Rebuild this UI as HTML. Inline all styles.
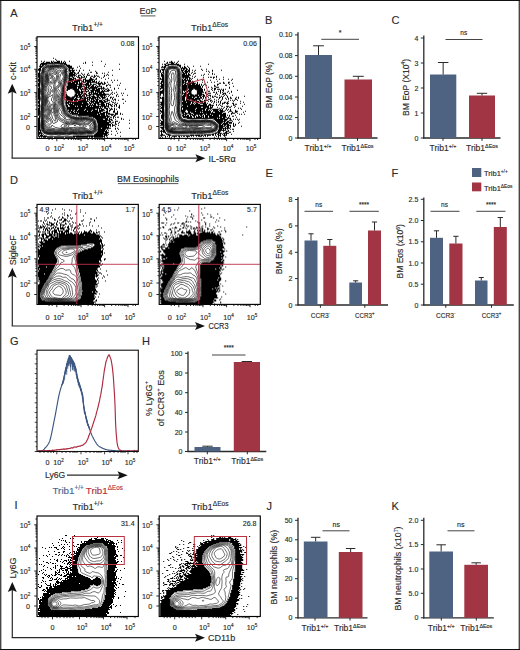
<!DOCTYPE html>
<html><head><meta charset="utf-8"><style>html,body{margin:0;padding:0;background:#fff;}svg{display:block;}</style></head>
<body><svg width="520" height="650" viewBox="0 0 520 650" font-family='"Liberation Sans", sans-serif'>
<style>text{stroke:currentColor;stroke-width:0.14px;paint-order:stroke;}</style>
<rect x="0.00" y="0.00" width="520.00" height="650.00" fill="#ffffff" stroke="none" stroke-width="1"/>
<g transform="translate(37,36.8)">
<path d="M16 21h1v1h-1zM18 22h1v1h-1zM19 23h1v1h-1zM4 24h1v1h-1zM7 24h1v1h-1zM14 24h1v1h-1zM16 24h1v1h-1zM20 24h3v1h-3zM24 24h1v1h-1zM27 24h1v1h-1zM32 24h1v1h-1zM64 24h1v1h-1zM6 25h1v1h-1zM9 25h4v1h-4zM14 25h2v1h-2zM17 25h6v1h-6zM24 25h1v1h-1zM26 25h1v1h-1zM28 25h1v1h-1zM48 25h1v1h-1zM55 25h1v1h-1zM4 26h25v1h-25zM46 26h1v1h-1zM48 26h1v1h-1zM3 27h7v1h-7zM27 27h3v1h-3zM68 27h1v1h-1zM82 27h1v1h-1zM3 28h1v1h-1zM5 28h2v1h-2zM29 28h4v1h-4zM55 28h1v1h-1zM2 29h4v1h-4zM30 29h5v1h-5zM42 29h1v1h-1zM67 29h1v1h-1zM3 30h2v1h-2zM31 30h4v1h-4zM40 30h1v1h-1zM2 31h2v1h-2zM32 31h5v1h-5zM43 31h1v1h-1zM1 32h3v1h-3zM32 32h1v1h-1zM35 32h1v1h-1zM82 32h1v1h-1zM1 33h3v1h-3zM32 33h6v1h-6zM39 33h1v1h-1zM42 33h1v1h-1zM46 33h1v1h-1zM52 33h1v1h-1zM75 33h1v1h-1zM2 34h1v1h-1zM32 34h2v1h-2zM35 34h2v1h-2zM42 34h1v1h-1zM58 34h1v1h-1zM2 35h1v1h-1zM33 35h5v1h-5zM41 35h1v1h-1zM53 35h2v1h-2zM59 35h1v1h-1zM71 35h1v1h-1zM1 36h2v1h-2zM32 36h4v1h-4zM37 36h2v1h-2zM40 36h2v1h-2zM44 36h1v1h-1zM51 36h1v1h-1zM59 36h2v1h-2zM65 36h1v1h-1zM67 36h1v1h-1zM1 37h2v1h-2zM32 37h6v1h-6zM39 37h1v1h-1zM45 37h1v1h-1zM47 37h1v1h-1zM50 37h1v1h-1zM70 37h1v1h-1zM1 38h2v1h-2zM32 38h7v1h-7zM41 38h3v1h-3zM46 38h1v1h-1zM50 38h3v1h-3zM57 38h1v1h-1zM59 38h1v1h-1zM67 38h1v1h-1zM69 38h1v1h-1zM71 38h1v1h-1zM75 38h1v1h-1zM1 39h2v1h-2zM32 39h4v1h-4zM37 39h1v1h-1zM39 39h1v1h-1zM41 39h1v1h-1zM44 39h1v1h-1zM47 39h1v1h-1zM49 39h1v1h-1zM54 39h2v1h-2zM57 39h2v1h-2zM60 39h2v1h-2zM67 39h1v1h-1zM1 40h2v1h-2zM32 40h1v1h-1zM35 40h2v1h-2zM40 40h3v1h-3zM44 40h4v1h-4zM49 40h1v1h-1zM53 40h1v1h-1zM56 40h2v1h-2zM62 40h1v1h-1zM66 40h1v1h-1zM2 41h1v1h-1zM32 41h3v1h-3zM36 41h3v1h-3zM42 41h3v1h-3zM48 41h1v1h-1zM53 41h2v1h-2zM59 41h1v1h-1zM64 41h1v1h-1zM71 41h1v1h-1zM1 42h2v1h-2zM32 42h5v1h-5zM38 42h1v1h-1zM41 42h2v1h-2zM46 42h3v1h-3zM52 42h5v1h-5zM58 42h2v1h-2zM68 42h1v1h-1zM1 43h2v1h-2zM32 43h13v1h-13zM46 43h1v1h-1zM48 43h8v1h-8zM57 43h1v1h-1zM74 43h1v1h-1zM77 43h1v1h-1zM80 43h1v1h-1zM1 44h2v1h-2zM31 44h5v1h-5zM37 44h6v1h-6zM45 44h2v1h-2zM48 44h6v1h-6zM55 44h3v1h-3zM59 44h1v1h-1zM62 44h1v1h-1zM2 45h1v1h-1zM31 45h3v1h-3zM35 45h6v1h-6zM42 45h1v1h-1zM44 45h1v1h-1zM46 45h3v1h-3zM50 45h10v1h-10zM61 45h1v1h-1zM64 45h1v1h-1zM67 45h1v1h-1zM70 45h1v1h-1zM75 45h1v1h-1zM1 46h2v1h-2zM31 46h7v1h-7zM39 46h2v1h-2zM42 46h4v1h-4zM49 46h3v1h-3zM53 46h1v1h-1zM59 46h7v1h-7zM67 46h2v1h-2zM83 46h1v1h-1zM1 47h2v1h-2zM31 47h21v1h-21zM53 47h2v1h-2zM56 47h3v1h-3zM61 47h3v1h-3zM65 47h3v1h-3zM71 47h1v1h-1zM1 48h2v1h-2zM31 48h9v1h-9zM42 48h3v1h-3zM48 48h6v1h-6zM55 48h2v1h-2zM59 48h1v1h-1zM62 48h1v1h-1zM69 48h2v1h-2zM72 48h2v1h-2zM80 48h1v1h-1zM82 48h1v1h-1zM1 49h2v1h-2zM30 49h18v1h-18zM49 49h1v1h-1zM51 49h2v1h-2zM54 49h3v1h-3zM58 49h1v1h-1zM60 49h5v1h-5zM69 49h1v1h-1zM2 50h1v1h-1zM30 50h10v1h-10zM41 50h4v1h-4zM47 50h5v1h-5zM53 50h8v1h-8zM64 50h1v1h-1zM66 50h1v1h-1zM73 50h1v1h-1zM1 51h2v1h-2zM30 51h10v1h-10zM41 51h3v1h-3zM45 51h1v1h-1zM47 51h3v1h-3zM51 51h9v1h-9zM61 51h7v1h-7zM70 51h1v1h-1zM77 51h1v1h-1zM81 51h1v1h-1zM1 52h2v1h-2zM30 52h3v1h-3zM36 52h6v1h-6zM43 52h8v1h-8zM52 52h1v1h-1zM55 52h3v1h-3zM59 52h4v1h-4zM64 52h1v1h-1zM66 52h1v1h-1zM68 52h2v1h-2zM71 52h1v1h-1zM77 52h1v1h-1zM88 52h1v1h-1zM1 53h2v1h-2zM30 53h1v1h-1zM37 53h5v1h-5zM44 53h1v1h-1zM48 53h1v1h-1zM51 53h1v1h-1zM53 53h10v1h-10zM65 53h1v1h-1zM67 53h1v1h-1zM70 53h3v1h-3zM74 53h1v1h-1zM1 54h2v1h-2zM38 54h5v1h-5zM44 54h8v1h-8zM54 54h3v1h-3zM58 54h5v1h-5zM64 54h8v1h-8zM1 55h2v1h-2zM38 55h8v1h-8zM49 55h1v1h-1zM52 55h5v1h-5zM58 55h1v1h-1zM60 55h7v1h-7zM75 55h1v1h-1zM79 55h1v1h-1zM1 56h2v1h-2zM39 56h4v1h-4zM44 56h2v1h-2zM47 56h2v1h-2zM51 56h2v1h-2zM54 56h1v1h-1zM56 56h5v1h-5zM62 56h3v1h-3zM66 56h2v1h-2zM74 56h1v1h-1zM77 56h1v1h-1zM84 56h1v1h-1zM86 56h1v1h-1zM1 57h2v1h-2zM29 57h1v1h-1zM38 57h2v1h-2zM41 57h4v1h-4zM46 57h4v1h-4zM52 57h20v1h-20zM73 57h1v1h-1zM75 57h1v1h-1zM80 57h1v1h-1zM1 58h2v1h-2zM29 58h1v1h-1zM38 58h6v1h-6zM45 58h3v1h-3zM49 58h5v1h-5zM56 58h1v1h-1zM59 58h10v1h-10zM72 58h1v1h-1zM79 58h1v1h-1zM85 58h1v1h-1zM90 58h1v1h-1zM1 59h2v1h-2zM29 59h2v1h-2zM37 59h4v1h-4zM42 59h6v1h-6zM49 59h1v1h-1zM52 59h1v1h-1zM54 59h4v1h-4zM60 59h2v1h-2zM63 59h3v1h-3zM67 59h1v1h-1zM69 59h1v1h-1zM71 59h1v1h-1zM79 59h1v1h-1zM81 59h1v1h-1zM1 60h2v1h-2zM28 60h5v1h-5zM35 60h3v1h-3zM39 60h6v1h-6zM47 60h2v1h-2zM50 60h4v1h-4zM55 60h8v1h-8zM64 60h5v1h-5zM73 60h2v1h-2zM76 60h1v1h-1zM1 61h2v1h-2zM29 61h8v1h-8zM38 61h2v1h-2zM43 61h8v1h-8zM52 61h7v1h-7zM60 61h1v1h-1zM62 61h2v1h-2zM65 61h3v1h-3zM70 61h1v1h-1zM73 61h1v1h-1zM75 61h1v1h-1zM1 62h2v1h-2zM29 62h12v1h-12zM42 62h2v1h-2zM45 62h4v1h-4zM50 62h3v1h-3zM54 62h3v1h-3zM58 62h4v1h-4zM65 62h1v1h-1zM68 62h3v1h-3zM75 62h1v1h-1zM77 62h2v1h-2zM85 62h2v1h-2zM2 63h1v1h-1zM29 63h7v1h-7zM37 63h12v1h-12zM50 63h1v1h-1zM52 63h1v1h-1zM54 63h1v1h-1zM56 63h2v1h-2zM59 63h2v1h-2zM62 63h3v1h-3zM66 63h2v1h-2zM70 63h3v1h-3zM76 63h1v1h-1zM78 63h1v1h-1zM81 63h1v1h-1zM1 64h2v1h-2zM29 64h1v1h-1zM31 64h5v1h-5zM37 64h3v1h-3zM41 64h11v1h-11zM53 64h8v1h-8zM62 64h4v1h-4zM67 64h4v1h-4zM74 64h1v1h-1zM88 64h1v1h-1zM1 65h2v1h-2zM29 65h21v1h-21zM52 65h1v1h-1zM54 65h3v1h-3zM58 65h11v1h-11zM72 65h1v1h-1zM75 65h2v1h-2zM78 65h1v1h-1zM1 66h2v1h-2zM29 66h3v1h-3zM33 66h1v1h-1zM35 66h10v1h-10zM46 66h5v1h-5zM52 66h3v1h-3zM56 66h6v1h-6zM64 66h3v1h-3zM69 66h3v1h-3zM77 66h1v1h-1zM80 66h1v1h-1zM86 66h1v1h-1zM2 67h1v1h-1zM29 67h1v1h-1zM31 67h5v1h-5zM37 67h15v1h-15zM53 67h1v1h-1zM55 67h1v1h-1zM57 67h2v1h-2zM60 67h8v1h-8zM69 67h1v1h-1zM71 67h3v1h-3zM75 67h1v1h-1zM78 67h2v1h-2zM1 68h2v1h-2zM29 68h2v1h-2zM32 68h19v1h-19zM52 68h7v1h-7zM61 68h1v1h-1zM64 68h4v1h-4zM69 68h1v1h-1zM71 68h1v1h-1zM73 68h2v1h-2zM77 68h1v1h-1zM79 68h1v1h-1zM82 68h1v1h-1zM1 69h2v1h-2zM29 69h2v1h-2zM33 69h5v1h-5zM39 69h1v1h-1zM41 69h3v1h-3zM45 69h4v1h-4zM50 69h3v1h-3zM54 69h1v1h-1zM56 69h16v1h-16zM74 69h2v1h-2zM77 69h1v1h-1zM79 69h1v1h-1zM82 69h1v1h-1zM2 70h1v1h-1zM30 70h32v1h-32zM63 70h1v1h-1zM65 70h1v1h-1zM67 70h2v1h-2zM71 70h1v1h-1zM81 70h2v1h-2zM1 71h2v1h-2zM30 71h35v1h-35zM67 71h4v1h-4zM72 71h1v1h-1zM74 71h1v1h-1zM77 71h1v1h-1zM82 71h1v1h-1zM1 72h2v1h-2zM30 72h11v1h-11zM42 72h6v1h-6zM49 72h9v1h-9zM60 72h1v1h-1zM62 72h1v1h-1zM64 72h3v1h-3zM69 72h2v1h-2zM73 72h3v1h-3zM77 72h1v1h-1zM79 72h1v1h-1zM1 73h2v1h-2zM32 73h2v1h-2zM35 73h2v1h-2zM38 73h2v1h-2zM41 73h6v1h-6zM48 73h7v1h-7zM56 73h5v1h-5zM62 73h6v1h-6zM70 73h1v1h-1zM72 73h2v1h-2zM77 73h1v1h-1zM1 74h2v1h-2zM31 74h5v1h-5zM37 74h13v1h-13zM51 74h3v1h-3zM55 74h6v1h-6zM62 74h4v1h-4zM69 74h2v1h-2zM72 74h1v1h-1zM76 74h2v1h-2zM80 74h1v1h-1zM1 75h2v1h-2zM32 75h1v1h-1zM34 75h3v1h-3zM38 75h1v1h-1zM40 75h24v1h-24zM66 75h5v1h-5zM76 75h2v1h-2zM80 75h1v1h-1zM1 76h2v1h-2zM33 76h8v1h-8zM42 76h20v1h-20zM63 76h5v1h-5zM69 76h4v1h-4zM78 76h3v1h-3zM83 76h1v1h-1zM1 77h2v1h-2zM35 77h25v1h-25zM61 77h7v1h-7zM69 77h1v1h-1zM71 77h6v1h-6zM78 77h3v1h-3zM83 77h1v1h-1zM85 77h1v1h-1zM1 78h1v1h-1zM41 78h22v1h-22zM64 78h4v1h-4zM69 78h2v1h-2zM74 78h2v1h-2zM77 78h2v1h-2zM2 79h1v1h-1zM52 79h21v1h-21zM76 79h2v1h-2zM2 80h1v1h-1zM56 80h13v1h-13zM70 80h2v1h-2zM73 80h2v1h-2zM76 80h1v1h-1zM78 80h1v1h-1zM80 80h2v1h-2zM1 81h2v1h-2zM58 81h13v1h-13zM72 81h1v1h-1zM76 81h1v1h-1zM84 81h1v1h-1zM1 82h2v1h-2zM59 82h7v1h-7zM68 82h3v1h-3zM72 82h3v1h-3zM78 82h1v1h-1zM84 82h1v1h-1zM86 82h1v1h-1zM1 83h2v1h-2zM60 83h13v1h-13zM74 83h2v1h-2zM92 83h1v1h-1zM1 84h2v1h-2zM60 84h10v1h-10zM72 84h2v1h-2zM78 84h3v1h-3zM1 85h2v1h-2zM60 85h14v1h-14zM75 85h2v1h-2zM78 85h1v1h-1zM82 85h1v1h-1zM1 86h2v1h-2zM61 86h11v1h-11zM74 86h1v1h-1zM78 86h1v1h-1zM81 86h1v1h-1zM92 86h1v1h-1zM1 87h2v1h-2zM61 87h13v1h-13zM75 87h1v1h-1zM78 87h2v1h-2zM1 88h2v1h-2zM61 88h13v1h-13zM75 88h3v1h-3zM81 88h1v1h-1zM1 89h2v1h-2zM61 89h9v1h-9zM71 89h1v1h-1zM73 89h1v1h-1zM75 89h1v1h-1zM78 89h1v1h-1zM1 90h2v1h-2zM61 90h11v1h-11zM1 91h2v1h-2zM61 91h3v1h-3zM65 91h9v1h-9zM78 91h1v1h-1zM80 91h1v1h-1zM92 91h1v1h-1zM1 92h2v1h-2zM61 92h8v1h-8zM70 92h1v1h-1zM78 92h1v1h-1zM81 92h1v1h-1zM1 93h3v1h-3zM61 93h7v1h-7zM69 93h1v1h-1zM71 93h1v1h-1zM1 94h1v1h-1zM3 94h1v1h-1zM61 94h9v1h-9zM74 94h1v1h-1zM79 94h1v1h-1zM1 95h3v1h-3zM60 95h7v1h-7zM68 95h4v1h-4zM83 95h1v1h-1zM1 96h4v1h-4zM59 96h12v1h-12zM80 96h1v1h-1zM1 97h2v1h-2zM4 97h1v1h-1zM58 97h12v1h-12zM71 97h1v1h-1zM74 97h1v1h-1zM1 98h1v1h-1zM3 98h3v1h-3zM57 98h9v1h-9zM67 98h4v1h-4zM78 98h1v1h-1zM1 99h9v1h-9zM36 99h32v1h-32zM69 99h1v1h-1zM83 99h1v1h-1zM2 100h1v1h-1zM4 100h1v1h-1zM6 100h3v1h-3zM10 100h6v1h-6zM17 100h10v1h-10zM28 100h10v1h-10zM39 100h12v1h-12zM52 100h1v1h-1zM54 100h2v1h-2zM57 100h9v1h-9zM67 100h1v1h-1zM70 100h1v1h-1z" fill="#000"/>
<path d="M35.4 99.5 10.1 99.6 9.9 99.3 9.1 99.3 8.9 99.1 8.4 99.1 8.1 98.8 7.6 98.8 7.4 98.5 6.9 98.4 6.3 97.4 4.4 95.9 3.8 95.1 3.7 94.4 3.4 94.1 3.4 93.6 3.2 93.4 3.2 92.6 2.9 92.4 2.9 91.6 2.7 91.4 2.7 90.4 2.4 90.1 2.5 83.6 2.4 75.6 2.6 72.4 2.4 69.6 2.5 66.9 2.4 62.6 2.4 36.6 2.7 36.4 2.7 35.1 3 34.9 3.1 34.6 3.4 34.4 4.1 34.5 4.9 33.9 5.8 30.9 6.1 28.6 6.4 28.3 6.6 28.2 6.9 28 7.4 27.9 7.6 27.7 8.1 27.7 8.4 27.4 8.9 27.4 9.1 27.2 9.9 27.2 10.1 26.9 11.9 26.9 12.1 26.7 13.9 26.7 14.1 26.4 16.1 26.4 16.4 26.2 20.4 26.2 20.6 26.5 22.6 26.4 22.9 26.7 24.6 26.7 24.9 26.9 26.4 26.9 26.6 27.2 27.1 27.2 27.9 27.7 28.1 27.7 28.6 28.2 28.9 28.2 30.1 29.2 30.4 29.2 31.1 29.9 31.1 30.1 31.6 30.9 31.6 31.6 31.8 31.9 31.7 33.1 31.8 33.4 31.6 33.9 30.9 34.4 30.7 34.9 31.6 35.2 32.1 35.7 32.2 36.1 32 36.4 32.1 38.1 31.8 38.4 31.8 40.4 31.6 40.6 31.6 42.4 31.3 42.6 31.3 44.1 31 44.4 30.9 45.1 30.7 45.4 30.6 46.1 30.4 46.4 30.5 47.1 30.2 47.4 30.2 48.4 30 48.6 30 49.4 29.7 49.6 29.7 50.4 29.4 50.6 29.3 51.1 28.9 51.6 29.2 52.6 29.3 54.1 29.6 54.2 29.9 53.9 30.1 53.9 31.1 53 31.4 53 31.9 52.5 32.1 52.5 32.4 52.2 32.9 52.2 33.1 51.9 34.6 51.9 34.9 52.2 35.4 52.2 35.6 52.4 35.9 52.4 36.4 53 36.6 53 37.5 53.9 37.7 54.6 38 54.9 37.9 55.4 38.2 55.6 38.3 56.9 38.1 57.1 38.1 57.6 37.6 58.4 37.6 58.6 36.6 59.6 36.4 59.6 35.9 60.1 35.6 60.1 35.4 60.3 34.9 60.3 34.6 60.6 33.1 60.6 32.9 60.3 32.4 60.3 30.9 59.3 30.2 58.6 30.2 58.4 29.7 57.9 29.7 57.6 29.1 57.1 28.8 57.1 28.8 57.4 28.6 57.6 28.6 58.1 28.3 58.4 28.3 59.6 28 59.9 28.1 61.9 28.3 62.1 28.3 64.9 28.6 65.1 28.5 67.6 28.8 67.9 28.8 69.1 29.1 69.4 29.1 69.9 29.3 70.1 29.3 70.6 29.8 71.4 29.8 71.9 30.3 72.6 30.3 73.1 30.8 73.9 30.8 74.1 31.3 74.9 31.3 75.1 32.1 75.9 32.4 75.9 32.9 76.4 33.1 76.4 33.6 76.9 33.9 76.9 34.4 77.4 35.1 77.7 35.4 77.9 35.9 77.9 36.1 78.2 38.4 78.3 39.6 78.6 40.6 78.3 40.9 78.5 45.9 78.4 46.1 78.7 47.9 78.7 48.1 78.9 50.1 78.9 50.4 79.2 52.1 79.2 52.4 79.4 54.1 79.4 54.4 79.7 54.9 79.7 55.1 79.9 55.4 79.9 56.6 80.7 57.1 80.7 57.4 80.9 57.6 80.9 58.1 81.4 58.4 81.4 58.8 81.9 58.8 82.1 59.6 83.4 59.6 83.9 60 84.6 60 85.1 60.5 85.9 60.5 86.4 60.8 86.6 60.8 87.1 61.1 87.4 61.1 88.1 61.3 88.4 61.3 89.1 61.1 89.4 61.1 91.6 60.8 91.9 60.8 93.9 60.6 94.1 60.6 94.9 60.3 95.1 60.3 95.4 57.9 97.8 57.6 97.8 57.1 98.3 56.4 98.5 56.1 98.8 49.9 98.8 49.6 99.1 42.6 99.1 42.4 99.3 35.6 99.2 35.4 99.5M39.9 79.6 39.9 79 39.6 78.8 39.4 79.1 39.4 79.6 39.6 79.8 39.9 79.6M22.6 98.4 21.4 98.4 19.4 97.9 17.9 97.7 16.9 97.8 14.9 98.2 13.9 98.2 11.9 97.7 9.6 97.5 8.4 97.1 6.4 96.1 5.1 94.6 4.3 92.9 3.6 89.6 4.2 82.6 3.3 78.4 3.2 76.6 3.4 75.6 4.1 73.1 4.1 71.9 3.8 69.4 3.9 68.4 4.4 67.1 4.6 66.1 4.4 65 3.7 63.6 3.5 62.4 3.5 60.9 4.1 58.6 3.5 55.6 3.5 53.1 3.6 51.7 4.1 50.1 4.2 49.4 3.3 43.1 3.1 37.9 3.3 37.1 5 35.1 6 31.9 6.6 30.6 7.2 29.6 8.1 28.9 9.6 28.3 10.6 28 12.1 28.1 12.6 27.9 14.1 28 14.6 27.8 16.4 27.9 17.1 27.7 18.6 28 20.4 28.1 22.6 27.9 24.1 27.5 25.9 27.7 27.6 28.7 30 30.4 30.3 31.4 30.1 32.6 29.7 33.6 29.8 36.1 30.1 36.9 30.6 37.6 30.9 39.9 30.7 40.4 30.6 41.9 30.3 42.4 30 43.6 29.3 45.1 28.8 47.6 27.5 50.1 27.2 51.4 27.4 53.2 27.8 54.4 28.4 55.1 29.1 55.3 29.3 55.6 28.9 56 28.1 56.2 27.4 57.1 26.9 58.4 26.6 59.6 26.6 60.6 26.6 62.1 26.9 62.9 26.9 65.1 27 65.9 26.8 67.1 26.8 67.9 30.6 75.8 31.4 76.6 33.5 77.9 34.9 79.1 35.6 79.5 37.1 79.9 39.1 80.6 40.6 80.7 42.1 79.7 42.9 79.5 43.9 79.6 45.9 80.1 47.4 80 47.9 80.1 49.6 80 50.1 80.2 51.6 80 52.1 80.2 53.6 80.3 55.1 81.2 57.1 82.1 57.8 82.6 58.4 83.9 58.8 85.9 59.3 86.9 59.9 87.9 60.2 88.6 60.1 89.4 60.1 91.1 59.9 91.9 59.9 93.4 59.5 94.4 59.1 95 57.4 96.3 55.4 97.3 53.4 97.5 50.9 97.5 49.6 97.4 48.9 97.6 47.6 97.5 44.9 97.6 42.6 97.9 41.9 98.3 41.4 98.3 40.4 98.2 38.4 97.6 35.1 97.3 33.1 97.5 30.6 98.3 25.6 97.8 24.6 97.9 22.6 98.4M41.9 97.4 41.1 97.5 38.9 97.1 35.4 96.8 31.1 97.4 28.9 97.2 21.6 97.5 17.6 97.2 13.9 97.5 9.9 96.9 8.4 96.5 6.6 95.7 5.7 94.4 4.9 92.6 4.2 89.4 4.7 82.4 4.6 80.6 4 78.1 3.8 76.9 4.6 73.4 4.4 69.4 4.9 67.1 5.1 65.9 4.4 62.4 4.8 59.9 4.8 58.6 4.2 56.1 4.1 54.9 4.3 53.1 4.8 50.9 4.9 49.6 3.9 43.1 3.8 38.4 4 37.4 4.7 36.6 5.4 35.4 6.2 32.6 7 30.9 7.6 30.1 8.4 29.5 9.9 28.9 10.9 28.7 12.1 28.9 12.9 28.8 14.1 28.8 14.9 28.6 16.4 28.6 17.1 28.5 20.1 28.7 22.4 28.7 24.1 28.2 25.9 28.4 26.9 29 29.4 30.9 29.6 31.6 29.3 33.9 29.3 36.1 30.1 39.6 29.9 40.4 29.8 41.6 29.5 42.4 29.4 43.4 28.7 44.9 28.2 47.6 27.2 49.9 26.9 50.9 26.8 52.1 27 53.9 27.2 54.6 27.7 55.4 27.2 56.1 26.4 58.1 26 59.6 25.8 62.1 26.1 63.1 26.1 65.1 26.3 65.9 26.2 67.4 26.3 68.1 28.1 72.6 29.3 74.6 30 76.4 30.9 77.2 33.1 78.5 34.6 79.8 35.9 80.3 37.1 80.5 40.1 81.2 40.9 81.1 42.4 80.4 42.9 80.3 45.6 80.9 47.1 80.7 47.9 80.8 49.4 80.8 50.1 81 51.4 80.8 52.1 81.1 53.4 81.2 54.7 81.9 56.6 82.5 57.4 83.1 57.8 84.1 58.3 86.1 59.3 88.6 59.3 90.9 59.1 91.6 59.2 93.1 58.9 94.1 58.5 94.6 55.4 96.6 52.4 96.7 49.6 96.5 48.6 96.7 42.6 97.2 41.9 97.4M31.6 96.9 29.1 96.7 26.9 96.9 21.4 97 17.1 96.8 14.1 97 10.9 96.7 8.9 96.2 6.9 95.4 6.2 94.4 5.4 92.6 4.7 89.4 5.1 81.9 4.9 79.6 4.4 77.1 5 73.4 4.8 69.4 5.4 66.9 5.5 65.9 5 62.4 5.3 58.9 4.6 55.1 4.7 53.9 5.2 51.4 5.3 50.1 4.5 42.6 4.5 38.4 4.6 37.6 5.8 35.4 6.6 32.6 7.1 31.5 8.1 30.4 9.9 29.5 10.9 29.4 12.4 29.5 17.1 29 22.4 29.2 23.9 28.8 25.4 28.8 26.4 29.3 28.9 31.4 29 32.4 28.9 33.9 28.9 36.1 29.5 39.6 29.2 41.6 28.1 45.1 27.7 47.4 26.8 49.6 26.5 50.9 26.5 52.9 26.8 55.6 26.1 57.6 25.7 59.4 25.3 62.1 25.6 63.9 25.9 68.4 27.6 72.9 29 76.1 29.6 76.9 30.5 77.6 32.8 78.9 34.4 80.2 35.6 80.7 40.1 81.6 40.9 81.5 42.9 81 45.4 81.3 47.1 81.2 51.4 81.6 53.1 81.9 56.4 83 56.9 83.4 57.3 84.1 58.7 88.9 58.6 93.1 58.1 94.3 55.6 95.8 54.9 96.1 53.1 96.3 49.4 96 46.9 96.4 42.8 96.6 41.4 96.9 35.4 96.5 31.6 96.9M32.6 96.4 31.4 96.5 29.1 96.2 25.9 96.5 20.9 96.6 16.9 96.4 13.9 96.6 11.1 96.4 8.9 95.8 7.2 95.1 6.6 94.4 5.8 92.6 5.3 90.6 5 89.1 5.5 81.6 5.4 79.6 4.9 76.9 5.3 73.6 5.2 69.4 5.8 66.9 5.9 65.6 5.4 62.4 5.7 58.9 5.1 55.1 5.2 53.9 5.7 50.6 5 42.6 5.2 38.4 5.3 37.6 7.1 32.3 7.6 31.5 8.1 30.9 9.6 30.2 10.6 29.9 12.4 29.9 15.4 29.5 17.1 29.4 22.4 29.6 24.1 29.4 25.4 29.4 26.4 29.9 27.9 31.1 28.5 31.9 28.6 32.6 28.5 36.1 29 39.6 28.7 41.4 27.7 45.1 27.3 47.4 26.2 50.4 26.1 52.6 26.4 55.4 25.3 59.4 24.9 62.1 25.4 66.1 25.4 67.9 25.6 68.9 28.2 75.6 28.9 76.9 30.1 77.9 32.1 79 34.1 80.5 35.4 81.1 40.1 82 42.9 81.5 45.4 81.8 48.6 81.7 51.1 82.1 53.4 82.5 56 83.4 56.6 83.9 57 84.6 58.3 88.9 58.3 90.4 58.1 92.9 57.8 93.6 57.5 94.1 55.4 95.5 54.6 95.7 52.9 95.9 49.4 95.6 45.9 96.1 41.1 96.3 35.1 96.1 32.6 96.4M26.6 96.1 20.4 96.2 16.4 96 13.4 96.2 11.4 96 9.9 95.7 7.9 95.1 7.2 94.6 6.2 92.6 5.6 90.6 5.3 88.6 5.5 85.4 5.8 82.6 5.9 80.6 5.4 76.9 5.7 73.6 5.6 69.6 6.2 66.6 6.3 65.4 5.9 62.4 6.1 58.6 5.5 55.4 5.6 54.1 6.1 51.6 6.1 50.6 5.7 46.4 5.5 41.1 5.9 37.6 7.4 32.9 7.9 32 8.4 31.4 9.9 30.6 10.9 30.4 12.4 30.4 15.6 29.8 17.9 29.8 22.4 30.1 24.9 29.8 25.6 30 26.1 30.3 27.7 31.6 28.1 32.1 28.2 32.9 28 36.4 28.5 38.9 28.5 39.9 28.2 41.4 27.2 45.1 26.8 47.4 26 49.1 25.8 50.1 25.7 52.9 25.9 55.4 24.7 59.6 24.3 62.1 24.9 65.9 24.9 68.1 25.1 69.1 27.8 75.9 28.5 77.1 29.9 78.3 31.9 79.4 34.1 81 35.4 81.5 40.1 82.5 42.9 82 45.4 82.2 47.1 82.1 48.6 82.1 53.1 83 55.6 83.7 56.1 84 56.5 84.6 57.8 88.6 57.9 90.4 57.4 93.4 56.6 94.2 55.4 95 54.6 95.3 52.1 95.5 49.4 95.1 45.9 95.7 37.9 95.9 35.1 95.7 31.9 96.1 29.1 95.8 26.6 96.1M26.9 95.7 25.4 95.8 22.9 95.7 19.9 95.8 15.9 95.5 12.9 95.7 11.4 95.6 10.1 95.4 8.4 94.9 7.5 94.4 6.5 92.6 5.9 90.5 5.6 88.9 5.7 86.4 6.3 82.6 6.4 80.9 6.3 79.6 5.8 77.1 6.1 73.9 6 70.1 6.1 68.9 6.7 66.6 6.8 65.4 6.8 64.4 6.4 62.1 6.6 58.6 6 55.4 6.1 53.9 6.6 51.1 6.2 47.4 6 41.4 6.5 38.9 6.8 36.4 7.9 33.6 8.9 32.1 9.6 31.5 10.4 31.2 12.4 31 14.6 30.4 15.6 30.2 19.1 30.4 22.1 30.8 24.1 30.4 24.9 30.4 25.6 30.6 26.1 30.9 27.4 32.4 27.5 33.1 27.4 36.6 28 39.1 28 40.1 27.3 43.1 26.2 45.6 25.8 47.4 25.2 49.1 25.1 50.1 25.2 53.1 25.4 54.9 25.4 55.6 23.7 60.6 23.5 61.9 24.4 66.1 24.3 68.4 24.5 69.4 25.9 72.2 27.2 76.1 27.7 77.1 29.6 78.7 31.9 79.9 34.1 81.5 35.4 82.1 39.9 83 40.9 82.9 42.9 82.5 45.4 82.7 47.1 82.5 48.6 82.6 55.4 84.2 55.9 84.5 56.1 84.9 57.4 88.6 57.5 90.4 57.1 92.6 56.9 93.3 56.4 93.8 55.4 94.4 53.9 95 51.9 95.2 49.1 94.7 45.9 95.3 40.4 95.3 37.9 95.5 35.1 95.3 31.9 95.6 29.4 95.2 26.9 95.7M20.6 95.4 18.6 95.3 15.9 94.8 13.1 95.2 11.6 95.2 10.1 94.9 8.5 94.4 7.6 93.7 6.9 92.5 6.3 91.1 5.9 89.1 6.1 85.4 6.8 82.9 7.1 81.6 7 80.1 6.4 77.6 6.3 76.6 6.6 74.1 6.5 69.9 7.2 66.9 7.4 65.1 7.4 64.1 7 61.6 7.2 58.4 6.6 56.1 6.5 55.1 6.6 53.9 7.3 51.4 6.8 48.1 6.9 45.1 6.6 42.4 6.6 41.4 6.8 40.6 7.7 38.9 7.7 36.6 7.8 35.9 9.1 33.5 9.9 32.8 10.9 32.2 14.1 31.1 15.4 30.8 19.6 31.2 20.6 31.5 22.1 32.3 22.9 32.1 24.1 31.4 24.9 31.2 25.6 31.6 26.6 33.1 26.7 34.6 26.5 37.1 27.4 39.1 27.4 40.1 27.1 41.2 26.3 43.4 25.7 44.1 24.8 45.1 24.4 45.9 24.4 47.6 23.9 50.4 24.3 53.6 24.7 55.1 24.7 55.9 24.1 57.5 22.6 59.6 22.2 61.1 22.4 62.1 23.2 64.1 23.5 65.9 23.6 66.9 23.2 68.6 23.2 69.6 23.6 70.4 24.6 71.7 25.4 73.1 25.9 74.4 26.2 76.4 26.6 77.1 29.6 79.8 31.6 80.5 34.1 82.4 35.6 83.1 37.9 83.5 39.9 83.6 41.1 83.5 43.1 83.2 45.4 83.3 48.4 83.2 51.9 84.4 54.9 84.9 55.4 85.1 55.6 85.5 56.2 87.4 56.9 88.8 57 89.4 56.9 90.6 56.2 92.9 54.6 94.1 52.9 94.7 51.6 94.8 49.1 94.1 46.5 94.6 44.1 94.8 40.6 94.6 37.9 95 34.9 94.7 31.9 94.9 29.4 94.6 25.9 95.3 22.9 95.2 20.6 95.4M25.6 94.6 22.9 94.5 19.6 94.9 18.4 94.7 15.9 94.1 12.4 94.6 10.4 94.3 8.6 93.8 7.6 92.9 6.9 91.6 6.3 89.4 6.2 87.9 6.4 85.6 6.9 84.5 8 82.9 8.2 81.9 7.1 77.1 7.5 74.4 7.2 70.4 7.8 66.9 8 64.9 7.6 61.4 8 57.6 7.4 55.8 7.2 54.9 7.4 53.9 8 51.6 7.5 48.4 7.8 45.6 7.5 42.6 7.5 41.6 8.4 39.1 8.8 36.1 9.6 34.4 10.4 33.6 11.4 33 13.9 31.8 14.9 31.5 15.9 31.5 17.6 32.1 19.1 32.5 21.1 33.8 21.9 34 22.4 34 24.1 33.3 24.9 33.3 25.4 33.6 25.7 34.4 25.8 35.1 25.5 37.6 26.4 39.4 26.5 39.9 26.3 40.6 25.2 42.9 23.7 44.9 23.5 45.6 23.6 47.6 23.2 48.9 22.6 49.8 21.1 51.1 20.8 51.9 21.1 52.6 22.4 53.6 22.7 54.1 23.1 54.9 23.3 55.6 23.1 56.6 22.1 58.1 21.6 59.1 21.1 61.1 21.2 62.1 22.2 63.9 22.5 65.4 22.5 66.9 21.9 68.9 21.8 69.9 22.1 70.8 22.9 72.4 24.4 74.5 24.7 76.1 25.2 77.1 25.9 77.9 27.7 79.4 28.8 81.9 29.6 82.7 30.4 82.8 31.4 82.4 32.1 82.5 34.9 83.9 35.9 84.3 36.9 84.4 40.9 84.4 43.9 83.9 46.9 84.1 48.1 84.3 50.1 85.2 52.9 85.6 54.1 86.1 54.4 86.4 55 87.9 55.9 89.1 56 89.6 55.9 90.4 54.7 92.9 53.6 93.9 52.6 94.3 51.6 94.3 49.6 93.6 48.9 93.5 43.4 94.1 40.4 93.8 37.6 94.3 32.9 94 30.1 94 25.6 94.6M20.9 94.1 18.9 94.2 16.1 93.4 15.1 93.5 12.1 93.9 11.1 93.8 9.6 93.4 8.6 92.9 7.6 91.9 7 90.6 6.7 88.9 6.7 86.6 7.1 85.4 7.6 84.6 9.3 83.4 9.6 82.6 8.5 79.1 8.5 78.1 9 76.4 8.6 74.4 8.2 71.1 8.6 65.1 8.3 61.1 9.1 57.1 8.3 54.6 8.9 51.6 8.3 48.6 8.6 46.1 8.4 43.1 8.4 41.1 9.5 36.6 10.3 34.9 11 34.1 12.1 33.4 13.9 32.5 14.9 32.2 15.9 32.3 17.4 33.3 21.4 35.4 22.4 35.5 23.6 34.8 24.1 34.7 24.4 34.9 24.6 35.4 24.4 36.4 23.7 37.9 22.7 41.1 22.7 41.6 23 42.9 22.6 44.9 22.9 47.1 22.8 47.9 22.1 49 20.1 50.6 19.6 51.3 19.5 51.9 19.6 52.7 20.7 54.4 21.2 55.6 21.1 56.9 20 61.1 19.9 61.9 20 62.6 21.1 64.1 21.5 65.1 21.5 66.6 20.6 68.6 20.5 69.6 20.6 70.4 21.6 72.9 21.8 75.6 22.2 76.6 25.1 79.2 26.6 80.2 28.4 83.1 29.1 83.9 29.6 84.2 30.6 84.4 32.6 84.2 35.1 85.1 36.1 85.2 41.4 85.3 44.1 84.8 46.1 85.1 49.6 86.7 50.4 86.8 52.1 86.6 52.9 86.9 53.3 87.4 54.2 89.9 54.1 91.4 53.8 92.4 53 93.4 52.1 93.7 51.4 93.6 49.1 92.8 46.1 92.7 43.4 93.3 40.4 93.1 37.6 93.6 35.4 93.5 32.1 93 27.9 93.7 25.6 93.8 23.1 93.8 20.9 94.1M20.6 93.4 18.9 93.3 16.1 92.6 15.1 92.7 12.4 93.3 11.4 93.2 10.4 93 9.2 92.4 8.3 91.4 7.7 90.1 7.4 88.6 7.3 86.9 7.6 85.8 8.1 85.3 10.3 84.1 10.7 83.6 10.8 83.1 10.7 82.4 9.7 80.4 9.5 79.4 9.5 78.6 10.2 77.1 10.4 76.4 9.7 74.1 9.2 71.4 9.1 64.9 8.9 61.6 9.3 59.6 10.4 57.4 10.6 56.6 10.6 56.1 9.9 54.9 9.7 54.1 10.1 51.6 9.3 48.9 9.4 46.4 9.2 43.9 9.1 40.6 9.9 37.5 10.9 35.4 11.6 34.6 12.7 33.9 13.6 33.4 14.6 33.1 15.4 33.2 17.4 34.6 21.1 36.4 21.7 36.9 22 37.4 21.9 38.4 21.2 41.1 21.1 44.4 21.2 45.1 21.9 46.6 21.9 47.6 21.4 48.4 20.1 49.2 19.4 49.9 18.7 50.9 18.5 51.6 18.6 52.6 19.3 54.6 19.2 56.4 19.4 58.4 18.8 62.1 19 62.9 20 64.6 20.2 65.4 20.1 66.4 19.4 68.6 19.3 69.6 19.6 70.6 20.5 72.9 20.7 76.1 21.3 77.6 22.5 79.6 23.3 81.4 23.8 81.9 24.4 82.2 25.9 82.3 26.6 82.6 28.6 84.6 29.9 85.3 32.6 85.6 35.1 86 38.6 85.9 41.1 86.2 44.1 86.2 46.1 86.3 49.6 87.8 52 88.1 52.6 88.9 53 90.1 53 90.9 52.8 91.6 52.4 92.4 51.9 92.7 51.1 92.5 49.4 91.7 46.1 91.7 45.1 91.9 43.1 92.5 40.1 92.3 37.4 92.9 35.4 92.8 32.4 92.2 28.6 93.1 23.9 93 20.6 93.4M12.4 92.7 11.4 92.6 10.6 92.4 9.9 91.9 9.4 91.4 8.7 89.9 8.2 87.4 8.4 86.6 8.6 86.3 9.2 85.9 11.4 84.9 11.9 84.4 12.1 83.6 11.7 82.4 10.6 80.5 10.3 79.6 10.5 78.6 11.2 77.1 11.4 76.1 11.3 75.4 10.7 73.6 10.4 71.9 10.3 70.9 10.5 69.1 9.9 67 9.5 62.4 9.6 61.1 10 59.9 10.6 58.8 11.8 57.4 12.1 56.6 12.1 55.9 11.4 53.9 11.9 51.4 11.7 50.6 10.7 49.1 10.3 48.1 9.8 44.4 9.6 40.9 9.7 39.6 10.1 38.4 11.1 36.5 11.9 35.6 12.6 35.1 13.6 34.5 14.4 34.3 15.1 34.6 17.1 35.8 20.1 36.9 20.7 37.4 20.9 37.9 20.8 38.6 20.3 40.4 20.1 43.1 18.1 46.9 18 47.6 18.1 49.4 17.6 51.6 18.1 54.1 17.9 56.4 18.2 58.9 17.8 61.6 17.8 62.4 18.6 64.6 18.7 65.4 18.4 68.9 18.4 69.9 18.6 70.6 19.5 72.4 19.7 73.1 19.8 76.6 20.8 79.4 21.3 80.4 22.6 82.1 23.4 82.9 24.4 83.5 26.4 84.1 28.1 85.4 29.1 85.9 33.9 87 38.4 86.5 40.9 87 45.9 87.3 46.9 87.6 48.4 88.3 49.2 88.9 49.4 89.4 48.9 90.1 47.9 90.7 45.4 91 43.1 91.6 40.1 91.3 37.9 92 36.6 92.1 32.4 91.5 31.4 91.7 29.4 92.4 28.1 92.5 24.4 92.3 20.4 92.4 18.6 92.2 15.9 91.5 12.4 92.7M28.6 91.9 22.1 91.4 18.4 90.7 17.4 90.2 16.1 88.9 15.1 88.5 14.6 88.8 14.2 90.4 13.8 91.1 13.2 91.6 12.6 91.9 11.6 92 10.9 91.7 10.2 91.1 9.9 90.4 9.8 88.6 9.9 87.9 10.3 87.4 10.6 87.1 11.1 87.1 12.9 87.4 13.6 87.3 14 87.1 14.2 86.4 14.1 85.4 13.8 84.1 12.8 82.1 11.5 80.4 11.2 79.6 11.3 78.9 12.1 77.1 12.3 76.1 12.3 75.4 11.5 73.1 11.3 71.6 11.3 70.9 11.8 69.4 11.9 68.6 11.7 67.9 10.9 66.4 10.1 62.6 10.2 61.4 10.9 59.9 11.6 59 12.9 57.9 13.4 57.1 13.5 56.4 13.2 54.6 13.2 53.9 13.4 53.1 14.3 51.6 14.5 50.9 14.5 50.1 14.2 49.6 12.1 48.7 11.6 48.3 11.2 47.6 10.5 44.9 10.1 41.1 10.2 39.6 10.8 38.1 11.9 36.9 12.4 36.5 13.1 36.2 13.9 36 14.6 36.2 16.9 37.3 18.9 37.6 19.4 37.9 19.7 38.4 19.3 40.4 19.2 42.6 17.4 46.1 16.8 47.9 16.7 51.4 17.2 53.9 16.8 56.6 17.2 59.1 16.7 62.4 16.8 63.4 17.6 66.6 17.6 69.4 17.7 70.4 18.7 72.6 18.9 73.4 19 74.4 18.7 76.1 18.7 76.9 20.4 80.9 22.1 83.2 23.4 84.3 24.6 85 28 86.4 30.4 86.9 32.6 87.7 33.6 87.9 34.6 87.9 37.1 87.3 38.4 87.2 40.6 87.7 42.9 87.8 45.4 88.2 46.8 88.6 47.3 89.1 47.3 89.4 46.9 89.7 43.4 90.7 42.6 90.7 40.9 90.2 40.1 90.2 36.9 90.9 32.4 90.7 31.4 91 29.6 91.7 28.6 91.9M14.4 47.1 13.4 47.3 12.6 47.3 12.1 47 11.7 46.4 11 44.6 10.6 41.1 10.6 39.9 11.1 38.6 12.1 37.6 12.9 37.2 13.4 37.1 14.4 37.3 15.5 38.1 16.6 39.9 17.4 40.7 17.9 42.1 17.9 42.9 17.7 43.6 16.9 45.4 16.4 46.3 15.6 46.9 14.4 47.1M15.4 55.5 15.1 55.4 14.9 55.1 14.7 54.1 15.1 53.2 15.6 52.9 16 53.1 16.1 53.9 15.9 54.8 15.4 55.5M17.1 86.6 16.4 86.6 15.9 86.3 15.7 85.9 15.3 83.9 14.4 82.6 13.6 80.9 12.6 79.4 12.5 78.9 13 77.1 13.1 75.9 13 74.9 12.2 72.6 12.1 71.6 12.3 70.6 13.1 68.6 13.1 67.6 12.5 65.6 11.2 63.6 10.9 62.6 11 61.6 11.6 60.5 12.4 59.8 13.9 59.3 15.1 57.9 15.4 57.9 15.6 58.3 15.8 59.4 15.6 60.1 14.7 61.6 14.4 63.4 14.6 63.9 15.4 64.5 15.9 65.2 16.6 66.6 16.8 67.6 17 70.6 18.2 73.6 18.2 74.6 17.8 76.6 17.8 77.4 18.7 79.1 19.3 81.1 20.3 82.9 20.6 83.9 20.6 84.4 20.3 84.9 17.1 86.6M28.6 91.1 26.1 90.9 24.8 90.6 24 90.1 23.9 89.9 24 89.4 24.5 88.6 25.6 87.6 26.6 87.3 28.6 87.3 29.9 87.4 31 87.9 32 88.6 32.2 89.1 31.8 89.6 29.9 90.8 28.6 91.1M38.6 88.9 37.9 89 37.2 88.9 37.3 88.6 38.1 88.4 38.7 88.6 38.6 88.9M12.4 90.9 11.6 91 11.3 90.9 11 90.4 10.9 89.9 11.1 89.4 11.6 88.9 12.4 88.9 12.9 89.4 12.9 90.2 12.4 90.9M43.1 89.4 42.4 89.2 42.4 89 42.6 88.8 43.1 88.9 43.6 89.1 43.1 89.4M14.1 45.9 12.9 45.9 12.4 45.6 11.9 45 11.5 43.9 11.1 40.9 11.2 39.9 11.6 38.9 12.4 38.3 13.4 38 14.4 38.2 15 38.9 15.8 41.1 16.7 42.9 16.6 43.9 16.1 44.9 15.4 45.5 14.1 45.9M18.4 84.2 17.9 84.3 17.5 84.1 16.9 82.9 15.5 81.4 15 79.1 14.2 77.4 13.8 74.9 13.1 72.4 13.1 71.4 13.3 70.6 14.9 67.2 15.1 67 15.5 67.1 15.8 67.6 16.4 71.1 17.5 73.6 17.5 74.6 16.8 77.4 17 78.1 17.9 79.9 18.8 83.1 18.8 83.9 18.4 84.2M28.6 89.9 27.5 89.9 26.9 89.6 26.8 89.4 27.3 88.9 28.6 88.4 29.3 88.4 29.8 88.6 29.9 88.9 29.6 89.4 28.6 89.9M13.9 44.7 13.4 44.8 12.9 44.6 12.4 44.1 12.1 43.4 11.8 41.1 11.8 40.4 12 39.6 12.5 39.1 13.1 38.9 13.9 39 14.4 39.5 15.2 42.6 15.2 43.4 15 43.9 14.5 44.4 13.9 44.7M16.1 75.9 15.9 76 15.4 76 15.1 75.6 14.8 74.9 14.3 72.1 14.5 71.4 14.9 70.9 15.1 70.9 15.4 71.2 16.7 73.9 16.6 75.1 16.1 75.9M13.4 41.8 13.1 41.4 13.1 40.7 13.4 40.9 13.4 41.8" fill="none" stroke="#000" stroke-width="0.7"/>
</g>
<g transform="translate(159,36.8)">
<path d="M5 24h1v1h-1zM12 24h1v1h-1zM19 24h1v1h-1zM8 25h1v1h-1zM10 25h4v1h-4zM15 25h1v1h-1zM18 25h1v1h-1zM7 26h2v1h-2zM12 26h3v1h-3zM17 26h1v1h-1zM3 27h1v1h-1zM5 27h2v1h-2zM9 27h11v1h-11zM25 27h1v1h-1zM49 27h1v1h-1zM6 28h4v1h-4zM18 28h4v1h-4zM3 29h1v1h-1zM5 29h2v1h-2zM20 29h2v1h-2zM25 29h1v1h-1zM28 29h1v1h-1zM34 29h1v1h-1zM41 29h1v1h-1zM2 30h5v1h-5zM21 30h1v1h-1zM23 30h1v1h-1zM25 30h2v1h-2zM29 30h1v1h-1zM5 31h1v1h-1zM22 31h6v1h-6zM30 31h1v1h-1zM2 32h4v1h-4zM22 32h1v1h-1zM24 32h2v1h-2zM27 32h2v1h-2zM30 32h1v1h-1zM42 32h1v1h-1zM47 32h1v1h-1zM1 33h1v1h-1zM3 33h2v1h-2zM22 33h3v1h-3zM26 33h2v1h-2zM29 33h2v1h-2zM33 33h1v1h-1zM36 33h1v1h-1zM43 33h1v1h-1zM53 33h1v1h-1zM62 33h1v1h-1zM1 34h1v1h-1zM4 34h1v1h-1zM23 34h1v1h-1zM25 34h6v1h-6zM35 34h1v1h-1zM47 34h1v1h-1zM49 34h1v1h-1zM53 34h1v1h-1zM1 35h1v1h-1zM3 35h2v1h-2zM23 35h2v1h-2zM26 35h3v1h-3zM30 35h1v1h-1zM33 35h1v1h-1zM50 35h1v1h-1zM2 36h1v1h-1zM4 36h1v1h-1zM24 36h4v1h-4zM29 36h1v1h-1zM32 36h1v1h-1zM35 36h2v1h-2zM53 36h1v1h-1zM2 37h2v1h-2zM23 37h3v1h-3zM27 37h1v1h-1zM29 37h2v1h-2zM34 37h1v1h-1zM45 37h1v1h-1zM49 37h1v1h-1zM53 37h1v1h-1zM55 37h1v1h-1zM2 38h3v1h-3zM23 38h9v1h-9zM42 38h1v1h-1zM44 38h1v1h-1zM2 39h3v1h-3zM23 39h7v1h-7zM33 39h1v1h-1zM36 39h1v1h-1zM57 39h1v1h-1zM3 40h2v1h-2zM23 40h8v1h-8zM35 40h1v1h-1zM44 40h1v1h-1zM49 40h1v1h-1zM51 40h2v1h-2zM54 40h2v1h-2zM57 40h1v1h-1zM64 40h1v1h-1zM1 41h1v1h-1zM3 41h2v1h-2zM24 41h1v1h-1zM26 41h3v1h-3zM30 41h2v1h-2zM33 41h1v1h-1zM54 41h1v1h-1zM1 42h4v1h-4zM23 42h1v1h-1zM25 42h2v1h-2zM28 42h1v1h-1zM30 42h1v1h-1zM32 42h1v1h-1zM38 42h1v1h-1zM44 42h1v1h-1zM57 42h1v1h-1zM60 42h1v1h-1zM64 42h1v1h-1zM69 42h1v1h-1zM73 42h1v1h-1zM3 43h2v1h-2zM23 43h9v1h-9zM43 43h1v1h-1zM51 43h1v1h-1zM72 43h1v1h-1zM2 44h3v1h-3zM23 44h2v1h-2zM26 44h2v1h-2zM29 44h3v1h-3zM33 44h1v1h-1zM58 44h1v1h-1zM2 45h3v1h-3zM23 45h4v1h-4zM29 45h6v1h-6zM38 45h1v1h-1zM43 45h1v1h-1zM48 45h1v1h-1zM52 45h1v1h-1zM55 45h1v1h-1zM64 45h1v1h-1zM69 45h2v1h-2zM1 46h2v1h-2zM4 46h1v1h-1zM23 46h2v1h-2zM26 46h11v1h-11zM38 46h1v1h-1zM60 46h2v1h-2zM64 46h2v1h-2zM69 46h1v1h-1zM73 46h1v1h-1zM2 47h3v1h-3zM23 47h1v1h-1zM25 47h2v1h-2zM28 47h4v1h-4zM33 47h3v1h-3zM37 47h2v1h-2zM40 47h1v1h-1zM42 47h1v1h-1zM45 47h2v1h-2zM58 47h2v1h-2zM70 47h1v1h-1zM2 48h3v1h-3zM23 48h18v1h-18zM42 48h1v1h-1zM44 48h1v1h-1zM47 48h1v1h-1zM55 48h1v1h-1zM58 48h1v1h-1zM66 48h2v1h-2zM1 49h4v1h-4zM23 49h19v1h-19zM43 49h1v1h-1zM55 49h2v1h-2zM74 49h1v1h-1zM2 50h3v1h-3zM23 50h19v1h-19zM43 50h1v1h-1zM49 50h1v1h-1zM52 50h1v1h-1zM57 50h3v1h-3zM70 50h1v1h-1zM1 51h4v1h-4zM23 51h20v1h-20zM53 51h1v1h-1zM55 51h2v1h-2zM70 51h1v1h-1zM1 52h1v1h-1zM4 52h1v1h-1zM23 52h6v1h-6zM30 52h4v1h-4zM36 52h8v1h-8zM45 52h1v1h-1zM52 52h1v1h-1zM55 52h2v1h-2zM58 52h3v1h-3zM62 52h1v1h-1zM64 52h1v1h-1zM66 52h1v1h-1zM3 53h2v1h-2zM23 53h5v1h-5zM29 53h4v1h-4zM38 53h6v1h-6zM45 53h1v1h-1zM53 53h1v1h-1zM55 53h1v1h-1zM61 53h1v1h-1zM63 53h2v1h-2zM78 53h1v1h-1zM1 54h4v1h-4zM23 54h1v1h-1zM25 54h1v1h-1zM27 54h5v1h-5zM38 54h6v1h-6zM49 54h2v1h-2zM59 54h1v1h-1zM61 54h1v1h-1zM64 54h1v1h-1zM69 54h1v1h-1zM72 54h1v1h-1zM1 55h4v1h-4zM23 55h1v1h-1zM26 55h3v1h-3zM30 55h2v1h-2zM38 55h7v1h-7zM46 55h1v1h-1zM54 55h2v1h-2zM57 55h1v1h-1zM61 55h1v1h-1zM63 55h1v1h-1zM68 55h1v1h-1zM72 55h1v1h-1zM1 56h4v1h-4zM23 56h5v1h-5zM29 56h3v1h-3zM38 56h5v1h-5zM46 56h1v1h-1zM49 56h3v1h-3zM57 56h1v1h-1zM61 56h1v1h-1zM64 56h3v1h-3zM70 56h1v1h-1zM1 57h1v1h-1zM4 57h1v1h-1zM23 57h1v1h-1zM25 57h8v1h-8zM38 57h7v1h-7zM47 57h2v1h-2zM56 57h1v1h-1zM58 57h1v1h-1zM63 57h2v1h-2zM66 57h1v1h-1zM1 58h1v1h-1zM4 58h1v1h-1zM24 58h6v1h-6zM31 58h4v1h-4zM36 58h3v1h-3zM40 58h3v1h-3zM44 58h2v1h-2zM49 58h3v1h-3zM60 58h1v1h-1zM65 58h1v1h-1zM67 58h1v1h-1zM73 58h1v1h-1zM23 59h19v1h-19zM43 59h3v1h-3zM48 59h1v1h-1zM51 59h1v1h-1zM53 59h1v1h-1zM55 59h2v1h-2zM62 59h1v1h-1zM64 59h1v1h-1zM68 59h1v1h-1zM85 59h1v1h-1zM1 60h1v1h-1zM3 60h2v1h-2zM23 60h3v1h-3zM27 60h6v1h-6zM34 60h2v1h-2zM38 60h2v1h-2zM41 60h2v1h-2zM44 60h1v1h-1zM46 60h1v1h-1zM49 60h1v1h-1zM53 60h2v1h-2zM57 60h2v1h-2zM60 60h2v1h-2zM63 60h1v1h-1zM68 60h1v1h-1zM71 60h1v1h-1zM77 60h1v1h-1zM79 60h1v1h-1zM1 61h4v1h-4zM23 61h3v1h-3zM27 61h8v1h-8zM36 61h7v1h-7zM44 61h1v1h-1zM46 61h1v1h-1zM51 61h1v1h-1zM60 61h1v1h-1zM63 61h1v1h-1zM66 61h1v1h-1zM69 61h1v1h-1zM71 61h2v1h-2zM76 61h1v1h-1zM79 61h1v1h-1zM3 62h2v1h-2zM23 62h3v1h-3zM27 62h14v1h-14zM43 62h1v1h-1zM49 62h2v1h-2zM55 62h1v1h-1zM59 62h1v1h-1zM63 62h1v1h-1zM67 62h1v1h-1zM69 62h1v1h-1zM76 62h2v1h-2zM3 63h2v1h-2zM23 63h3v1h-3zM27 63h4v1h-4zM33 63h5v1h-5zM40 63h2v1h-2zM45 63h4v1h-4zM51 63h2v1h-2zM57 63h1v1h-1zM62 63h1v1h-1zM71 63h1v1h-1zM73 63h1v1h-1zM75 63h1v1h-1zM78 63h1v1h-1zM3 64h2v1h-2zM24 64h12v1h-12zM37 64h3v1h-3zM41 64h3v1h-3zM45 64h2v1h-2zM49 64h1v1h-1zM51 64h1v1h-1zM53 64h1v1h-1zM55 64h1v1h-1zM59 64h1v1h-1zM61 64h1v1h-1zM69 64h1v1h-1zM74 64h1v1h-1zM81 64h1v1h-1zM1 65h4v1h-4zM23 65h4v1h-4zM28 65h4v1h-4zM33 65h2v1h-2zM36 65h8v1h-8zM45 65h2v1h-2zM52 65h1v1h-1zM55 65h1v1h-1zM57 65h1v1h-1zM59 65h1v1h-1zM61 65h1v1h-1zM65 65h2v1h-2zM68 65h1v1h-1zM84 65h1v1h-1zM2 66h3v1h-3zM23 66h9v1h-9zM33 66h1v1h-1zM35 66h1v1h-1zM37 66h2v1h-2zM41 66h6v1h-6zM48 66h1v1h-1zM54 66h1v1h-1zM61 66h1v1h-1zM63 66h3v1h-3zM67 66h3v1h-3zM73 66h2v1h-2zM81 66h1v1h-1zM1 67h4v1h-4zM23 67h8v1h-8zM32 67h3v1h-3zM36 67h5v1h-5zM44 67h4v1h-4zM50 67h2v1h-2zM57 67h1v1h-1zM60 67h1v1h-1zM63 67h1v1h-1zM68 67h1v1h-1zM74 67h1v1h-1zM76 67h2v1h-2zM85 67h1v1h-1zM2 68h3v1h-3zM24 68h24v1h-24zM49 68h6v1h-6zM57 68h1v1h-1zM59 68h1v1h-1zM61 68h1v1h-1zM74 68h2v1h-2zM1 69h1v1h-1zM3 69h2v1h-2zM23 69h5v1h-5zM29 69h21v1h-21zM51 69h1v1h-1zM53 69h1v1h-1zM62 69h2v1h-2zM67 69h3v1h-3zM72 69h1v1h-1zM76 69h1v1h-1zM83 69h1v1h-1zM2 70h3v1h-3zM22 70h20v1h-20zM44 70h6v1h-6zM51 70h3v1h-3zM58 70h1v1h-1zM65 70h1v1h-1zM68 70h1v1h-1zM70 70h2v1h-2zM75 70h1v1h-1zM1 71h4v1h-4zM22 71h1v1h-1zM24 71h13v1h-13zM38 71h9v1h-9zM48 71h5v1h-5zM60 71h1v1h-1zM62 71h1v1h-1zM64 71h1v1h-1zM67 71h1v1h-1zM79 71h1v1h-1zM81 71h1v1h-1zM3 72h2v1h-2zM22 72h1v1h-1zM24 72h12v1h-12zM37 72h9v1h-9zM47 72h3v1h-3zM51 72h1v1h-1zM53 72h7v1h-7zM61 72h1v1h-1zM63 72h1v1h-1zM67 72h1v1h-1zM69 72h1v1h-1zM71 72h1v1h-1zM82 72h1v1h-1zM1 73h1v1h-1zM3 73h2v1h-2zM22 73h5v1h-5zM28 73h15v1h-15zM44 73h2v1h-2zM47 73h2v1h-2zM50 73h1v1h-1zM52 73h1v1h-1zM54 73h5v1h-5zM60 73h4v1h-4zM66 73h1v1h-1zM68 73h1v1h-1zM71 73h1v1h-1zM76 73h1v1h-1zM1 74h4v1h-4zM22 74h4v1h-4zM29 74h7v1h-7zM37 74h15v1h-15zM54 74h6v1h-6zM61 74h5v1h-5zM70 74h3v1h-3zM76 74h3v1h-3zM86 74h1v1h-1zM2 75h3v1h-3zM23 75h4v1h-4zM29 75h2v1h-2zM32 75h9v1h-9zM42 75h1v1h-1zM44 75h8v1h-8zM53 75h1v1h-1zM56 75h8v1h-8zM69 75h1v1h-1zM73 75h1v1h-1zM76 75h2v1h-2zM84 75h1v1h-1zM1 76h1v1h-1zM3 76h2v1h-2zM23 76h2v1h-2zM26 76h6v1h-6zM34 76h29v1h-29zM64 76h3v1h-3zM72 76h4v1h-4zM78 76h1v1h-1zM3 77h2v1h-2zM24 77h4v1h-4zM30 77h4v1h-4zM35 77h9v1h-9zM45 77h2v1h-2zM48 77h3v1h-3zM52 77h15v1h-15zM72 77h1v1h-1zM80 77h1v1h-1zM82 77h1v1h-1zM85 77h1v1h-1zM2 78h3v1h-3zM23 78h2v1h-2zM26 78h1v1h-1zM28 78h2v1h-2zM31 78h1v1h-1zM33 78h4v1h-4zM39 78h1v1h-1zM41 78h2v1h-2zM44 78h1v1h-1zM46 78h7v1h-7zM54 78h6v1h-6zM61 78h6v1h-6zM68 78h1v1h-1zM70 78h1v1h-1zM76 78h1v1h-1zM2 79h3v1h-3zM24 79h6v1h-6zM31 79h2v1h-2zM34 79h2v1h-2zM37 79h1v1h-1zM39 79h2v1h-2zM42 79h3v1h-3zM46 79h3v1h-3zM50 79h10v1h-10zM61 79h6v1h-6zM70 79h1v1h-1zM73 79h2v1h-2zM2 80h3v1h-3zM24 80h9v1h-9zM35 80h1v1h-1zM37 80h6v1h-6zM44 80h1v1h-1zM46 80h3v1h-3zM50 80h13v1h-13zM64 80h4v1h-4zM69 80h1v1h-1zM77 80h1v1h-1zM2 81h3v1h-3zM28 81h30v1h-30zM59 81h1v1h-1zM61 81h5v1h-5zM68 81h4v1h-4zM3 82h2v1h-2zM55 82h14v1h-14zM71 82h1v1h-1zM74 82h1v1h-1zM76 82h1v1h-1zM78 82h1v1h-1zM80 82h1v1h-1zM1 83h1v1h-1zM4 83h1v1h-1zM56 83h8v1h-8zM65 83h3v1h-3zM70 83h3v1h-3zM79 83h1v1h-1zM2 84h3v1h-3zM57 84h10v1h-10zM68 84h2v1h-2zM73 84h1v1h-1zM2 85h3v1h-3zM58 85h6v1h-6zM65 85h1v1h-1zM67 85h6v1h-6zM80 85h1v1h-1zM1 86h4v1h-4zM59 86h4v1h-4zM64 86h5v1h-5zM70 86h3v1h-3zM74 86h1v1h-1zM79 86h1v1h-1zM2 87h3v1h-3zM60 87h2v1h-2zM63 87h7v1h-7zM74 87h1v1h-1zM76 87h1v1h-1zM1 88h4v1h-4zM60 88h4v1h-4zM65 88h2v1h-2zM68 88h4v1h-4zM74 88h1v1h-1zM76 88h1v1h-1zM4 89h1v1h-1zM60 89h6v1h-6zM67 89h3v1h-3zM71 89h1v1h-1zM74 89h2v1h-2zM82 89h1v1h-1zM1 90h4v1h-4zM60 90h4v1h-4zM66 90h1v1h-1zM68 90h2v1h-2zM71 90h1v1h-1zM2 91h3v1h-3zM60 91h11v1h-11zM3 92h2v1h-2zM60 92h3v1h-3zM64 92h1v1h-1zM66 92h1v1h-1zM68 92h1v1h-1zM71 92h1v1h-1zM73 92h2v1h-2zM2 93h1v1h-1zM4 93h2v1h-2zM59 93h8v1h-8zM69 93h1v1h-1zM1 94h5v1h-5zM59 94h3v1h-3zM64 94h1v1h-1zM67 94h3v1h-3zM74 94h1v1h-1zM2 95h1v1h-1zM4 95h3v1h-3zM58 95h3v1h-3zM66 95h2v1h-2zM70 95h2v1h-2zM2 96h1v1h-1zM6 96h1v1h-1zM56 96h2v1h-2zM59 96h4v1h-4zM64 96h6v1h-6zM2 97h2v1h-2zM7 97h3v1h-3zM53 97h2v1h-2zM56 97h1v1h-1zM58 97h2v1h-2zM61 97h1v1h-1zM63 97h1v1h-1zM65 97h1v1h-1zM67 97h1v1h-1zM72 97h1v1h-1zM1 98h5v1h-5zM9 98h3v1h-3zM31 98h4v1h-4zM36 98h5v1h-5zM42 98h2v1h-2zM45 98h2v1h-2zM48 98h4v1h-4zM53 98h2v1h-2zM56 98h1v1h-1zM59 98h3v1h-3zM64 98h4v1h-4zM2 99h1v1h-1zM6 99h1v1h-1zM8 99h1v1h-1zM10 99h1v1h-1zM13 99h5v1h-5zM19 99h2v1h-2zM22 99h1v1h-1zM24 99h2v1h-2zM27 99h4v1h-4zM32 99h1v1h-1zM34 99h1v1h-1zM37 99h1v1h-1zM39 99h4v1h-4zM44 99h1v1h-1zM46 99h1v1h-1zM48 99h1v1h-1zM57 99h1v1h-1zM59 99h1v1h-1zM61 99h1v1h-1zM65 99h1v1h-1zM1 100h1v1h-1zM3 100h1v1h-1zM6 100h1v1h-1zM10 100h1v1h-1zM12 100h1v1h-1zM15 100h1v1h-1zM20 100h1v1h-1zM28 100h1v1h-1zM55 100h1v1h-1zM59 100h1v1h-1zM66 100h1v1h-1z" fill="#000"/>
<path d="M30.1 98.6 13.4 98.5 13.1 98.3 12.4 98.3 12.1 98.1 11.4 98.1 11.1 97.8 10.6 97.8 10.4 97.6 9.6 97.6 9.4 97.3 8.6 97.3 8.4 97.1 7.9 97.1 7.6 96.8 7.4 96.8 6.2 95.6 6 94.9 5.7 94.6 5.7 94.4 5.5 94.1 5.5 93.9 5 93.1 5 92.9 4.7 92.6 4.7 92.1 4.4 91.9 4.4 35.6 4.7 35.4 4.7 34.4 5 34.1 4.9 33.1 5.2 32.9 5.2 32.1 5.4 31.9 5.4 31.4 6 30.9 6 30.6 6.7 29.9 6.7 29.6 7.6 28.7 8.4 28.5 8.6 28.2 9.6 28.2 9.9 27.9 11.1 27.9 11.4 27.7 15.6 27.7 15.9 27.9 17.6 27.9 17.9 28.2 18.4 28.2 18.9 28.7 19.1 28.7 19.9 29.4 20.1 29.4 20.3 29.6 21.5 30.9 21.8 31.6 22 31.9 22 32.4 22.3 32.6 22.3 33.4 22.5 33.6 22.5 34.6 22.8 34.9 22.8 46.9 22.8 57.4 22.6 57.6 22.6 69.9 22.3 70.1 22.3 75.1 22.6 75.4 22.6 76.4 22.8 76.6 22.8 77.4 23 77.6 23 78.1 23.3 78.4 23.3 79.1 23.5 79.4 23.8 80.1 24.1 80.5 24.4 80.5 25.1 81 26.1 81 26.4 81.3 27.6 81.3 27.9 81.5 28.9 81.5 29.1 81.7 42.1 81.7 44.9 81.7 45.1 81.5 52.4 81.5 52.6 81.7 52.9 81.7 53.1 81.9 53.4 81.9 53.6 82.2 54.4 82.4 54.6 82.7 54.9 82.7 55.1 82.9 55.4 82.9 56.6 84 56.9 84 58.4 85.4 58.6 85.4 59.8 86.6 60.1 87.4 60.3 87.6 60.3 88.1 60.6 88.4 60.6 90.9 60.3 91.1 60.3 91.6 60.1 91.9 60.1 92.4 59.6 93.1 59.6 93.6 59.3 93.9 59 94.6 58.1 95.6 57.9 95.6 57.1 96.1 56.6 96.1 56.4 96.3 55.9 96.3 55.1 96.8 54.6 96.8 54.4 97 53.9 97 53.6 97.3 53.1 97.3 52.9 97.5 52.1 97.5 51.9 97.8 45.1 97.8 44.9 98.1 37.6 98.1 37.4 98.3 30.4 98.3 30.1 98.6M35.4 58.5 35.1 58.5 34.9 58.3 34.1 58.3 33.9 58 33.6 58 32.5 56.9 32.5 56.6 32.2 56.4 32.2 55.6 32 55.4 32 55.1 32.2 54.9 32.2 54.1 32.5 53.9 32.5 53.6 33.6 52.5 33.9 52.5 34.1 52.2 34.9 52.2 35.1 52 35.4 52 35.6 52.2 36.4 52.2 36.6 52.5 36.9 52.5 38 53.6 38 53.9 38.3 54.1 38.3 54.9 38.6 55.1 38.6 55.4 38.3 55.6 38.3 56.4 38.1 56.6 38.1 56.9 36.9 58.1 36.6 58 36.4 58.3 35.6 58.3 35.4 58.5M25.6 97.1 21.9 97.1 18.6 97.3 14.1 96.9 12.6 96.6 10.1 96.4 9.1 96 7.9 95.1 5.9 91.1 5.8 89.9 5.9 87.1 5.8 84.4 6 81.6 5.7 77.9 6.3 71.6 5.8 67.1 6.1 56.4 5.8 53.4 5.9 50.6 5.7 46.9 6 39.9 6 36.4 6.3 35.6 6.7 32.6 6.9 32.1 8.2 30.4 9.1 29.8 11.4 29.4 12.1 29.1 15.1 29 15.6 29.2 17.1 29.2 17.9 29.5 19.5 30.9 20.1 31.6 21.3 35.6 21.3 38.9 21.4 43.4 21.7 46.9 21.1 50.9 21.5 56.4 21.2 57.6 21.4 61.1 21.1 67.9 21 69.1 20.7 70.1 20.6 71.1 21.2 76.9 22 79.6 22.7 81.1 23.4 81.8 24.6 82.5 28.9 83.4 32.9 82.9 41.6 83.3 44.9 83.1 46.4 82.8 47.9 82.9 49.9 83.4 52.1 83.4 53.6 83.8 54.6 84.2 57.4 86.4 58.1 86.7 58.6 87.1 59.3 88.9 59.3 90.4 58.7 91.9 57.5 94.1 56.6 94.6 51.1 96.3 48.4 96.2 46.4 96.5 44.9 96.5 44.1 96.7 39.6 96.8 37.4 96.6 33.4 97 30.4 96.9 29.4 97.1 25.6 97.1M26.4 96.4 18.6 96.5 14.1 96.3 12.6 95.9 10.4 95.6 9.4 95.3 8.4 94.8 6.5 91.1 6.5 84.6 6.7 81.9 6.5 78.4 6.8 71.4 6.5 67.1 6.7 56.1 6.5 53.1 6.5 46.4 6.7 36.6 7.3 32.9 8 31.6 9.1 30.5 12.1 29.8 14.9 29.8 15.6 30 16.9 29.9 18.1 30.5 19.5 31.9 19.8 32.6 20.6 35.6 20.6 39.6 21 46.6 20.5 50.6 20.8 56.4 20.5 57.6 20.6 61.6 20.5 67.1 20.3 69.1 20.1 69.9 20.1 71.4 20.3 75.4 20.5 76.9 21.4 79.9 22.3 81.6 23.1 82.4 24.4 83 28.9 84 30.4 83.9 33.1 83.6 41.4 83.9 45.1 83.7 46.1 83.5 47.4 83.5 49.9 83.9 51.6 83.9 54.3 84.9 57 86.9 57.9 87.3 58.3 87.9 58.7 89.1 58.6 90.1 57.5 92.9 57 93.6 54.4 94.6 51.1 95.6 48.4 95.6 46.1 95.8 44.9 95.8 44.1 96 40.4 96.1 37.4 95.9 33.4 96.3 30.1 96.1 29.4 96.3 26.4 96.4M28.6 95.9 20.1 96 14.9 95.9 10.4 95.1 9.4 94.8 8.6 94.3 8 93.4 7 91.1 6.9 90.1 7.1 82.1 7 78.9 7.2 71.4 7 66.6 7.1 61.1 7 44.9 7.1 37.4 7.7 33.6 8 32.6 8.9 31.4 9.9 30.8 12.6 30.2 16.9 30.5 17.9 30.9 18.9 31.8 19.4 32.6 19.7 33.6 20.2 36.1 20.2 39.9 20.5 46.4 20.1 50.9 20.3 55.9 20 58.1 20.1 67.1 19.7 70.6 19.8 75.4 20.1 77.1 21 80.1 22 81.9 22.9 82.7 24.1 83.4 29.1 84.4 33.4 84 41.1 84.3 44.9 84.1 46.4 83.9 51.6 84.4 53.9 85.2 57.5 87.6 57.9 88.2 58.2 89.1 58.1 90.1 57.1 92.6 56.6 93.2 56.1 93.5 54.4 94.2 51.4 95 40.9 95.6 37.4 95.5 33.6 95.8 30.4 95.7 28.6 95.9M22.6 95.6 14.6 95.5 10.1 94.7 9.3 94.4 8.7 93.9 7.6 91.9 7.3 90.9 7.6 71.4 7.4 66.9 7.5 61.4 7.3 52.9 7.4 41.4 7.5 37.1 8.1 33.4 8.7 32.1 9.6 31.3 12.4 30.6 13.9 30.6 16.4 30.8 17.1 31 17.6 31.3 18.6 32.1 19 32.6 19.8 35.9 19.8 40.4 20.1 46.4 19.7 50.9 19.9 55.6 19.6 58.1 19.7 67.1 19.3 70.4 19.4 75.4 19.7 77.1 20.6 79.9 21.6 82 22.6 83 23.9 83.7 28.9 84.8 30.4 84.8 33.6 84.4 38.1 84.7 41.6 84.6 44.9 84.5 46.6 84.3 51.4 84.7 53.6 85.6 55.4 86.6 57.3 88.1 57.7 89.1 57.7 89.9 57.5 90.6 56.8 92.4 56.4 92.9 55.9 93.2 54.1 93.9 51.1 94.7 40.9 95.2 37.4 95.1 33.4 95.4 30.4 95.3 28.4 95.5 22.6 95.6M27.4 95.1 21.4 95.3 14.9 95.2 11.6 94.7 9.9 94.3 9.1 93.9 8.4 92.7 7.7 91.1 7.6 90.1 7.9 83.1 7.8 79.6 7.9 71.1 7.8 66.1 7.8 38.4 7.9 36.9 8.6 33.1 9.5 31.9 10.7 31.4 12.9 30.9 16.6 31.2 17.4 31.5 18.4 32.4 18.7 32.9 18.9 33.6 19.4 36.4 19.4 40.6 19.7 46.4 19.3 51.1 19.5 55.6 19.3 58.1 19.3 67.1 18.9 70.4 19 75.4 19.3 77.1 20.2 80.1 20.8 81.4 21.5 82.4 22.4 83.2 23.9 84.1 28.9 85.2 30.4 85.1 33.6 84.8 39.4 85.1 44.6 84.9 46.9 84.7 51.2 85.1 53.4 85.9 55.1 86.9 56.9 88.3 57.3 89.1 57.4 89.9 57.1 90.6 56.5 92.1 56.1 92.6 55.6 92.9 54.1 93.5 51.1 94.3 41.4 94.8 37.4 94.6 33.6 95 30.1 94.9 27.4 95.1M27.4 94.6 21.6 94.8 18.1 94.7 14.9 94.8 11.9 94.4 10.4 94.1 9.4 93.6 8.7 92.6 8 91.1 7.9 89.9 8.4 83.4 8.2 79.9 8.4 76.9 8.3 74.4 8.4 70.6 8.2 65.6 8.4 61.9 8.2 58.4 8.2 39.1 8.3 37.1 9.1 33.1 9.4 32.6 10 32.1 11.4 31.6 13.1 31.4 16.6 31.7 17.1 31.9 17.9 32.5 18.2 32.9 18.5 33.6 19 36.6 18.9 40.9 19.3 46.1 18.8 51.6 19.1 55.6 18.8 58.1 18.9 66.6 18.5 70.4 18.6 75.6 18.8 77.1 19.8 80.4 20.9 82.4 22.1 83.6 23.6 84.5 28.9 85.7 33.6 85.3 39.4 85.6 46.6 85.1 50.9 85.6 53.1 86.3 54.7 87.1 56.6 88.6 57 89.4 56.9 90.1 56.6 90.9 56.1 91.9 55.7 92.4 53.9 93.1 51.1 93.7 41.6 94.3 37.4 94.1 33.4 94.6 30.1 94.4 27.4 94.6M22.9 94.1 21.1 94.2 18.4 94 14.1 94.3 12.4 94.1 10.9 93.9 9.9 93.5 9.4 93.1 8.6 91.9 8.3 90.9 8.3 88.9 9.3 83.4 8.8 79.9 9.2 76.6 8.9 74.1 9.1 69.1 8.9 65.6 9.2 62.1 8.9 55.4 9 52.1 8.7 49.1 9 43.6 8.7 40.9 8.7 39.4 9.8 33.4 10.1 32.9 10.6 32.6 12.6 32 13.9 32 16.6 32.3 17.4 32.9 17.9 33.9 18.3 37.6 18.2 41.9 18.7 46.4 17.8 52.1 18.5 55.6 18.1 58.4 18.3 66.9 17.8 70.1 17.9 73.4 17.7 75.9 17.9 76.9 18.6 78.7 19.2 80.6 20.4 82.6 21.9 84.3 23.1 85 28.4 86.4 29.6 86.4 33.9 85.9 39.9 86.3 47.1 85.8 50.9 86.5 53.9 87.3 54.9 87.9 55.9 88.6 56.4 89.4 56.3 90.4 55.4 91.9 54.6 92.3 53.4 92.7 45.4 93.2 42.1 93.6 37.4 93.3 33.1 94 31.9 94 29.6 93.7 25.9 94 22.9 94.1M14.6 93.6 12.1 93.7 10.9 93.5 10.1 93.2 9.6 92.8 9.1 92.1 8.7 91.1 8.6 90.4 8.7 89.4 9.1 87.5 10.4 84.6 10.6 83.4 10.5 82.4 9.9 80.6 9.8 79.9 9.9 79.1 10.4 77.4 10.5 76.4 10.1 72.6 10.6 68.6 10 65.6 10.7 62.4 10.9 58.4 10.2 55.6 10.8 52.9 10.6 51.9 9.9 49.9 9.8 48.6 10.1 46.9 11 44.6 11.2 43.6 10.9 42.6 9.7 40.9 9.5 39.6 9.9 38.3 11.1 36.2 11.6 34.6 12.9 33.7 14.1 33.4 15.9 33.5 16.4 33.9 16.5 35.9 17.1 38.6 16.8 42.6 16.9 43.9 17.5 45.9 17.6 46.6 16.5 51.1 16.3 52.6 16.5 53.6 17.3 55.9 17 58.4 17.3 61.1 17 63.4 17 67.1 16.7 68.4 15.9 69.9 15.7 70.6 15.6 74.4 15.8 75.9 16.4 77.8 17.5 80.6 18.1 81.6 21.6 85.6 22.3 86.1 22.9 86.4 25.4 86.6 28.6 87.3 34.1 86.9 40.4 87.2 44.4 86.8 46.4 86.8 48.4 87.2 50.9 87.6 53.6 88.3 54.4 88.6 55.1 89.1 55.4 89.4 55.5 89.9 55.3 90.6 54.9 91.2 54.1 91.6 53.4 91.8 46.6 91.8 42.6 92.6 37.6 92.5 32.4 93.1 29.4 92.8 25.4 93.2 18.9 92.9 14.6 93.6M13.6 69 13.1 69.1 12.9 68.8 12.1 67.4 11.8 66.1 11.8 65.4 12.2 63.6 12.4 61.1 12.7 58.9 12.2 55.9 12.8 53.1 12.7 52.1 11.9 49.6 11.8 48.4 11.9 46.6 12.8 43.4 12.8 42.1 12.4 39.9 12.4 38.9 13 36.6 13.4 36.1 13.9 35.9 14.4 36.1 14.6 36.4 15.1 38.4 14.9 41.1 15.4 46.1 15.1 47.9 15.1 50.1 14.6 53.4 15.2 55.9 15.3 58.4 15.8 60.9 14.8 64.4 14.6 67.4 14.3 68.1 13.6 69M13.6 93.1 11.9 93.2 10.4 92.7 9.9 92.3 9.4 91.6 9.1 90.4 9.2 89.4 9.6 88.1 10.1 87.2 11.6 85.1 12.1 83.9 12.2 82.4 11.7 80.1 11.7 79.4 12.9 74.8 13.1 74.5 13.6 75.1 14.1 76.4 14.9 79.6 16.4 83.4 17.1 84.1 18.9 85 20.7 86.6 21.9 87.3 22.9 87.5 25.4 87.5 28.6 88.1 34.4 87.9 40.9 88 44.9 87.9 47.9 88.4 50.6 88.5 52.3 89.1 53.4 89.9 53.4 90.1 53.1 90.4 52.1 90.6 50.1 90.9 46.4 90.8 42.6 91.7 38.9 91.7 32.4 92.2 28.9 92 25.4 92.4 22.1 92 19.1 91.9 17.9 92.1 13.6 93.1M13.1 92.7 11.6 92.6 10.5 92.1 9.8 91.1 9.6 89.9 10.1 88.6 10.9 87.5 12.6 86 14.4 84.9 14.9 85 16.7 86.1 19.4 87.4 21.1 88.1 22.1 88.3 25.4 88.3 28.9 88.9 34.4 88.6 38.1 88.6 43.1 88.8 44.8 89.1 45.1 89.4 45.3 89.6 44.8 90.1 42.9 90.8 35.4 91.3 32.1 91.4 28.9 91.2 25.4 91.7 21.9 91.2 18.6 91.1 17.6 91.3 14.6 92.3 13.1 92.7M12.9 92.1 11.6 92 10.8 91.6 10.4 91.1 10.2 90.6 10.3 89.6 10.8 88.6 11.6 87.8 12.9 87.1 14.4 86.6 15.4 86.7 18.1 88.1 21.6 89.3 22.6 89.3 24.9 88.9 25.9 89 27.8 89.6 28.3 89.9 28.3 90.1 27.4 90.6 25.6 91 24.6 90.9 21.9 90.1 18.4 90.2 17.4 90.5 14.4 91.8 12.9 92.1M34.4 90.6 31.6 90.5 30.2 90.1 30.2 89.9 31.3 89.6 34.1 89.3 37.9 89.4 39 89.6 39.2 89.9 38.6 90.1 37.1 90.4 34.4 90.6M13.9 91.4 12.6 91.6 11.6 91.4 11.3 91.1 10.9 90.6 10.8 90.1 10.9 89.6 11.6 88.6 12.6 88 13.9 87.7 15.1 87.8 16.1 88.6 16.3 89.1 16.3 89.6 15.4 90.6 13.9 91.4M13.1 90.9 12.4 90.9 11.9 90.6 11.6 90.1 11.7 89.6 12.1 89.1 12.9 88.7 13.6 88.6 14.4 88.8 14.8 89.4 14.7 89.9 14.1 90.5 13.1 90.9" fill="none" stroke="#000" stroke-width="0.7"/>
</g>
<rect x="37" y="36.8" width="101.50" height="101.60" fill="none" stroke="#000" stroke-width="1.15"/>
<path d="M34.20 46.50H37M34.20 69.30H37M34.20 92.60H37M34.20 116.50H37M34.20 126.50H37M56.80 138.4V141.20M81.00 138.4V141.20M104.60 138.4V141.20M128.00 138.4V141.20M35.40 109.31H37M35.40 105.10H37M35.40 102.11H37M35.40 99.79H37M35.40 97.90H37M35.40 96.30H37M35.40 94.92H37M35.40 93.69H37M35.40 85.59H37M35.40 81.48H37M35.40 78.57H37M35.40 76.31H37M35.40 74.47H37M35.40 72.91H37M35.40 71.56H37M35.40 70.37H37M35.40 62.44H37M35.40 58.42H37M35.40 55.57H37M35.40 53.36H37M35.40 51.56H37M35.40 50.03H37M35.40 48.71H37M35.40 47.54H37M35.40 40.20H37M35.40 38.20H37M64.08 138.4V140.00M68.35 138.4V140.00M71.37 138.4V140.00M73.72 138.4V140.00M75.63 138.4V140.00M77.25 138.4V140.00M78.65 138.4V140.00M79.89 138.4V140.00M88.10 138.4V140.00M92.26 138.4V140.00M95.21 138.4V140.00M97.50 138.4V140.00M99.36 138.4V140.00M100.94 138.4V140.00M102.31 138.4V140.00M103.52 138.4V140.00M111.64 138.4V140.00M115.76 138.4V140.00M118.69 138.4V140.00M120.96 138.4V140.00M122.81 138.4V140.00M124.38 138.4V140.00M125.73 138.4V140.00M126.93 138.4V140.00M49.00 138.4V140.00M52.20 138.4V140.00M133.00 138.4V140.00M135.50 138.4V140.00" stroke="#111" stroke-width="0.9" fill="none"/>
<rect x="159" y="36.8" width="101.30" height="101.60" fill="none" stroke="#000" stroke-width="1.15"/>
<path d="M156.20 46.50H159M156.20 69.30H159M156.20 92.60H159M156.20 116.50H159M156.20 126.50H159M178.80 138.4V141.20M203.00 138.4V141.20M226.60 138.4V141.20M250.00 138.4V141.20M157.40 109.31H159M157.40 105.10H159M157.40 102.11H159M157.40 99.79H159M157.40 97.90H159M157.40 96.30H159M157.40 94.92H159M157.40 93.69H159M157.40 85.59H159M157.40 81.48H159M157.40 78.57H159M157.40 76.31H159M157.40 74.47H159M157.40 72.91H159M157.40 71.56H159M157.40 70.37H159M157.40 62.44H159M157.40 58.42H159M157.40 55.57H159M157.40 53.36H159M157.40 51.56H159M157.40 50.03H159M157.40 48.71H159M157.40 47.54H159M157.40 40.20H159M157.40 38.20H159M186.08 138.4V140.00M190.35 138.4V140.00M193.37 138.4V140.00M195.72 138.4V140.00M197.63 138.4V140.00M199.25 138.4V140.00M200.65 138.4V140.00M201.89 138.4V140.00M210.10 138.4V140.00M214.26 138.4V140.00M217.21 138.4V140.00M219.50 138.4V140.00M221.36 138.4V140.00M222.94 138.4V140.00M224.31 138.4V140.00M225.52 138.4V140.00M233.64 138.4V140.00M237.76 138.4V140.00M240.69 138.4V140.00M242.96 138.4V140.00M244.81 138.4V140.00M246.38 138.4V140.00M247.73 138.4V140.00M248.93 138.4V140.00M171.00 138.4V140.00M174.20 138.4V140.00M255.00 138.4V140.00M257.50 138.4V140.00" stroke="#111" stroke-width="0.9" fill="none"/>
<g transform="translate(37,204.4)">
<path d="M11 3h1v1h-1zM18 4h1v1h-1zM25 4h1v1h-1zM15 5h1v1h-1zM27 5h1v1h-1zM32 5h1v1h-1zM43 5h1v1h-1zM34 6h1v1h-1zM9 7h1v1h-1zM43 7h1v1h-1zM11 8h1v1h-1zM14 8h1v1h-1zM27 8h1v1h-1zM39 8h1v1h-1zM48 8h1v1h-1zM10 9h1v1h-1zM25 9h1v1h-1zM38 9h1v1h-1zM27 10h1v1h-1zM30 10h1v1h-1zM33 10h1v1h-1zM14 11h1v1h-1zM30 11h2v1h-2zM46 11h1v1h-1zM13 12h1v1h-1zM22 12h1v1h-1zM25 12h1v1h-1zM7 13h1v1h-1zM10 13h2v1h-2zM15 13h1v1h-1zM21 13h1v1h-1zM25 13h2v1h-2zM30 13h1v1h-1zM33 13h1v1h-1zM35 13h1v1h-1zM59 13h1v1h-1zM17 14h1v1h-1zM24 14h1v1h-1zM27 14h2v1h-2zM34 14h1v1h-1zM53 14h2v1h-2zM7 15h1v1h-1zM9 15h1v1h-1zM17 15h2v1h-2zM22 15h3v1h-3zM27 15h3v1h-3zM46 15h1v1h-1zM57 15h1v1h-1zM1 16h1v1h-1zM3 16h2v1h-2zM8 16h1v1h-1zM20 16h1v1h-1zM26 16h3v1h-3zM30 16h1v1h-1zM32 16h1v1h-1zM44 16h2v1h-2zM57 16h1v1h-1zM6 17h1v1h-1zM10 17h1v1h-1zM12 17h1v1h-1zM20 17h1v1h-1zM25 17h2v1h-2zM31 17h1v1h-1zM35 17h1v1h-1zM53 17h1v1h-1zM6 18h1v1h-1zM12 18h3v1h-3zM17 18h1v1h-1zM19 18h1v1h-1zM22 18h1v1h-1zM24 18h1v1h-1zM28 18h1v1h-1zM36 18h1v1h-1zM38 18h1v1h-1zM52 18h1v1h-1zM7 19h1v1h-1zM9 19h2v1h-2zM14 19h3v1h-3zM19 19h1v1h-1zM23 19h1v1h-1zM28 19h2v1h-2zM32 19h2v1h-2zM42 19h1v1h-1zM45 19h1v1h-1zM5 20h1v1h-1zM10 20h3v1h-3zM14 20h3v1h-3zM19 20h2v1h-2zM23 20h5v1h-5zM35 20h1v1h-1zM42 20h2v1h-2zM52 20h1v1h-1zM1 21h1v1h-1zM3 21h1v1h-1zM6 21h1v1h-1zM8 21h1v1h-1zM13 21h2v1h-2zM17 21h1v1h-1zM23 21h1v1h-1zM26 21h1v1h-1zM31 21h1v1h-1zM33 21h2v1h-2zM40 21h2v1h-2zM46 21h1v1h-1zM49 21h1v1h-1zM55 21h1v1h-1zM61 21h1v1h-1zM3 22h5v1h-5zM10 22h1v1h-1zM16 22h1v1h-1zM18 22h2v1h-2zM23 22h1v1h-1zM25 22h1v1h-1zM28 22h1v1h-1zM30 22h2v1h-2zM35 22h1v1h-1zM38 22h2v1h-2zM1 23h4v1h-4zM7 23h1v1h-1zM9 23h1v1h-1zM11 23h2v1h-2zM14 23h3v1h-3zM18 23h1v1h-1zM20 23h2v1h-2zM23 23h5v1h-5zM30 23h2v1h-2zM34 23h1v1h-1zM37 23h2v1h-2zM40 23h1v1h-1zM42 23h1v1h-1zM64 23h1v1h-1zM6 24h1v1h-1zM8 24h3v1h-3zM12 24h1v1h-1zM14 24h1v1h-1zM17 24h1v1h-1zM20 24h2v1h-2zM23 24h4v1h-4zM31 24h2v1h-2zM37 24h1v1h-1zM41 24h1v1h-1zM2 25h1v1h-1zM6 25h1v1h-1zM8 25h1v1h-1zM10 25h1v1h-1zM13 25h1v1h-1zM17 25h3v1h-3zM21 25h1v1h-1zM26 25h2v1h-2zM29 25h3v1h-3zM34 25h1v1h-1zM36 25h1v1h-1zM39 25h1v1h-1zM53 25h1v1h-1zM59 25h1v1h-1zM1 26h1v1h-1zM8 26h1v1h-1zM10 26h3v1h-3zM15 26h5v1h-5zM21 26h5v1h-5zM28 26h4v1h-4zM36 26h1v1h-1zM39 26h1v1h-1zM47 26h1v1h-1zM52 26h3v1h-3zM1 27h3v1h-3zM5 27h3v1h-3zM12 27h1v1h-1zM14 27h2v1h-2zM17 27h3v1h-3zM22 27h1v1h-1zM24 27h2v1h-2zM27 27h5v1h-5zM37 27h2v1h-2zM40 27h1v1h-1zM42 27h1v1h-1zM44 27h1v1h-1zM47 27h3v1h-3zM51 27h2v1h-2zM54 27h1v1h-1zM56 27h1v1h-1zM59 27h1v1h-1zM61 27h2v1h-2zM67 27h1v1h-1zM8 28h1v1h-1zM10 28h3v1h-3zM15 28h1v1h-1zM17 28h4v1h-4zM22 28h1v1h-1zM24 28h4v1h-4zM29 28h1v1h-1zM31 28h1v1h-1zM33 28h2v1h-2zM39 28h1v1h-1zM41 28h1v1h-1zM44 28h1v1h-1zM46 28h8v1h-8zM56 28h2v1h-2zM59 28h2v1h-2zM2 29h1v1h-1zM5 29h4v1h-4zM12 29h4v1h-4zM17 29h1v1h-1zM20 29h8v1h-8zM29 29h7v1h-7zM37 29h5v1h-5zM43 29h16v1h-16zM62 29h1v1h-1zM2 30h1v1h-1zM4 30h3v1h-3zM8 30h2v1h-2zM12 30h3v1h-3zM16 30h5v1h-5zM22 30h25v1h-25zM48 30h14v1h-14zM1 31h2v1h-2zM5 31h2v1h-2zM9 31h7v1h-7zM17 31h1v1h-1zM20 31h44v1h-44zM5 32h2v1h-2zM9 32h3v1h-3zM14 32h3v1h-3zM18 32h3v1h-3zM22 32h41v1h-41zM64 32h1v1h-1zM2 33h3v1h-3zM6 33h1v1h-1zM8 33h3v1h-3zM13 33h50v1h-50zM65 33h1v1h-1zM1 34h1v1h-1zM4 34h4v1h-4zM11 34h4v1h-4zM16 34h46v1h-46zM63 34h1v1h-1zM4 35h1v1h-1zM7 35h3v1h-3zM11 35h54v1h-54zM4 36h1v1h-1zM6 36h59v1h-59zM2 37h4v1h-4zM8 37h57v1h-57zM3 38h60v1h-60zM64 38h1v1h-1zM1 39h1v1h-1zM4 39h46v1h-46zM57 39h6v1h-6zM64 39h2v1h-2zM2 40h42v1h-42zM58 40h6v1h-6zM65 40h1v1h-1zM67 40h1v1h-1zM1 41h1v1h-1zM3 41h2v1h-2zM6 41h18v1h-18zM57 41h10v1h-10zM1 42h2v1h-2zM4 42h18v1h-18zM56 42h8v1h-8zM65 42h1v1h-1zM3 43h17v1h-17zM54 43h12v1h-12zM1 44h1v1h-1zM3 44h16v1h-16zM51 44h13v1h-13zM66 44h1v1h-1zM1 45h17v1h-17zM47 45h17v1h-17zM65 45h1v1h-1zM1 46h17v1h-17zM45 46h21v1h-21zM1 47h16v1h-16zM43 47h23v1h-23zM1 48h16v1h-16zM41 48h25v1h-25zM67 48h1v1h-1zM1 49h16v1h-16zM40 49h24v1h-24zM65 49h1v1h-1zM1 50h17v1h-17zM40 50h26v1h-26zM1 51h1v1h-1zM3 51h15v1h-15zM39 51h26v1h-26zM1 52h18v1h-18zM39 52h26v1h-26zM2 53h17v1h-17zM39 53h25v1h-25zM2 54h18v1h-18zM39 54h25v1h-25zM67 54h2v1h-2zM1 55h19v1h-19zM39 55h25v1h-25zM67 55h1v1h-1zM1 56h19v1h-19zM40 56h22v1h-22zM63 56h2v1h-2zM1 57h19v1h-19zM40 57h22v1h-22zM1 58h18v1h-18zM40 58h24v1h-24zM1 59h18v1h-18zM40 59h23v1h-23zM65 59h1v1h-1zM1 60h17v1h-17zM40 60h22v1h-22zM63 60h2v1h-2zM2 61h16v1h-16zM41 61h22v1h-22zM1 62h8v1h-8zM10 62h7v1h-7zM41 62h22v1h-22zM1 63h16v1h-16zM41 63h20v1h-20zM1 64h1v1h-1zM3 64h13v1h-13zM42 64h18v1h-18zM63 64h1v1h-1zM1 65h15v1h-15zM42 65h19v1h-19zM2 66h13v1h-13zM42 66h17v1h-17zM60 66h1v1h-1zM69 66h1v1h-1zM1 67h14v1h-14zM42 67h18v1h-18zM61 67h1v1h-1zM1 68h13v1h-13zM43 68h18v1h-18zM62 68h2v1h-2zM1 69h6v1h-6zM8 69h5v1h-5zM43 69h17v1h-17zM64 69h1v1h-1zM1 70h12v1h-12zM43 70h15v1h-15zM59 70h3v1h-3zM70 70h1v1h-1zM1 71h11v1h-11zM43 71h18v1h-18zM66 71h1v1h-1zM1 72h11v1h-11zM44 72h14v1h-14zM59 72h1v1h-1zM67 72h1v1h-1zM2 73h9v1h-9zM44 73h14v1h-14zM61 73h1v1h-1zM65 73h1v1h-1zM1 74h10v1h-10zM44 74h14v1h-14zM60 74h1v1h-1zM2 75h8v1h-8zM44 75h15v1h-15zM60 75h1v1h-1zM1 76h1v1h-1zM3 76h6v1h-6zM44 76h16v1h-16zM61 76h1v1h-1zM68 76h1v1h-1zM2 77h7v1h-7zM45 77h15v1h-15zM3 78h5v1h-5zM45 78h14v1h-14zM61 78h1v1h-1zM2 79h5v1h-5zM45 79h16v1h-16zM1 80h6v1h-6zM45 80h15v1h-15zM1 81h5v1h-5zM45 81h13v1h-13zM60 81h1v1h-1zM1 82h5v1h-5zM45 82h15v1h-15zM1 83h4v1h-4zM45 83h13v1h-13zM1 84h4v1h-4zM45 84h14v1h-14zM1 85h3v1h-3zM45 85h14v1h-14zM1 86h3v1h-3zM46 86h14v1h-14zM1 87h3v1h-3zM45 87h10v1h-10zM56 87h2v1h-2zM59 87h2v1h-2zM1 88h2v1h-2zM45 88h14v1h-14zM1 89h2v1h-2zM45 89h15v1h-15zM62 89h1v1h-1zM1 90h2v1h-2zM45 90h12v1h-12zM1 91h2v1h-2zM44 91h14v1h-14zM1 92h2v1h-2zM44 92h13v1h-13zM58 92h1v1h-1zM61 92h1v1h-1zM1 93h3v1h-3zM44 93h14v1h-14zM1 94h3v1h-3zM43 94h15v1h-15zM1 95h4v1h-4zM41 95h16v1h-16zM59 95h1v1h-1zM1 96h7v1h-7zM39 96h17v1h-17zM58 96h2v1h-2zM1 97h57v1h-57zM1 98h56v1h-56zM58 98h1v1h-1zM1 99h56v1h-56z" fill="#000"/>
<path d="M37.9 97.9 14.9 97.9 14.6 97.6 12.4 97.6 12.1 97.4 10.1 97.4 9.9 97.1 7.6 97.1 7.4 96.9 5.4 96.9 4.4 95.9 4.1 95.1 3.6 94.6 3.6 94.4 3.4 94.1 3.1 93.4 2.6 92.9 2.4 92.1 2.1 91.9 2.1 90.4 2.6 89.6 2.6 89.1 2.9 88.9 2.9 88.4 3.1 88.1 3.1 87.6 3.6 86.9 3.6 86.4 3.9 86.1 3.9 85.6 4.1 85.4 4.1 84.9 4.6 84.1 4.6 83.6 5.1 82.9 5.1 82.6 5.6 82.1 5.9 81.4 6.9 80.1 7.1 79.4 8.1 78.1 8.4 77.4 9.4 76.1 9.6 75.4 10.6 74.1 10.9 73.4 11.4 72.9 11.4 72.6 11.6 72.4 11.6 72.1 12.1 71.6 12.1 71.4 12.4 71.1 12.6 70.4 13.1 69.9 13.4 69.1 13.9 68.6 13.9 68.4 14.4 67.6 14.4 67.4 14.9 66.9 15.2 66.1 15.7 65.6 15.7 65.4 16.2 64.6 16.2 64.4 16.7 63.9 16.9 63.1 17.2 62.9 17.2 62.6 17.4 62.4 17.4 62.1 17.9 61.4 17.9 61.1 18.2 60.9 18.2 60.6 18.4 60.4 18.4 60.1 18.7 59.9 18.7 59.6 18.9 59.4 18.9 59.1 19.2 58.9 19.2 58.6 19.9 57.4 19.9 56.9 20.2 56.6 19.9 56.4 19.9 55.6 19.7 55.4 19.7 54.9 19.4 54.6 19.4 54.1 19.2 53.9 18.9 53.1 18.4 52.6 18.4 52.4 17.4 51.1 17.4 50.6 17.2 50.4 17.2 50.1 17.2 46.9 17.4 46.6 17.4 46.1 17.9 45.6 17.9 45.4 18.4 44.9 18.4 44.6 19.9 43.2 20.1 43.2 20.4 42.9 21.1 42.7 21.6 42.2 21.9 42.2 22.1 41.9 22.4 41.9 23.6 41.2 27.4 41.2 27.6 40.9 31.4 40.9 31.6 40.7 41.6 40.7 41.9 40.4 43.9 40.4 44.1 40.2 45.9 40.2 46.1 39.9 47.9 39.9 48.1 39.7 48.9 39.7 49.1 39.4 49.9 39.4 50.1 39.2 50.9 39.2 51.1 38.9 51.9 38.9 52.1 38.7 52.9 38.7 53.1 38.4 55.1 38.4 55.4 38.7 56.1 38.7 56.4 38.9 56.9 38.9 57.1 39.1 57.8 40.4 57.8 41.1 57.1 41.8 56.9 41.8 56.4 42.3 56.1 42.3 54.9 43.3 54.6 43.3 53.9 43.8 53.4 43.8 53.1 44.1 52.4 44.1 52.1 44.3 51.4 44.3 51.1 44.6 50.1 44.6 49.9 44.8 49.1 44.8 48.9 45.1 48.1 45.1 47.9 45.3 47.1 45.3 46.9 45.6 46.1 45.6 45.9 45.8 45.6 45.8 45.1 46.3 44.4 46.6 43.9 47.1 43.6 47.1 43.4 47.3 43.1 47.3 42.6 47.8 41.9 48.1 40.6 49.4 40.3 50.1 40.1 50.4 40.1 50.6 39.8 50.9 39.8 51.1 39.3 51.9 39.3 52.4 39.1 52.6 39.1 53.4 39.3 53.6 39.3 54.9 39.6 55.1 39.6 56.4 39.8 56.6 39.8 57.9 40.1 58.1 40.1 58.9 40.3 59.1 40.3 59.9 40.6 60.1 40.6 60.6 40.8 60.9 40.8 61.6 41.1 61.9 41.1 62.4 41.3 62.6 41.3 63.4 41.6 63.6 41.6 64.1 41.8 64.4 41.8 65.1 42.1 65.4 42.1 65.9 42.3 66.1 42.3 66.9 42.6 67.1 42.6 67.6 42.8 67.9 42.8 68.6 43.1 68.9 43.1 69.6 43.3 69.9 43.3 70.9 43.6 71.1 43.6 72.1 43.8 72.4 43.8 73.4 44.1 73.6 44.1 74.6 44.3 74.9 44.3 75.9 44.6 76.1 44.6 77.1 44.8 77.4 44.8 78.4 45.1 78.6 45.1 80.4 45.3 80.6 45.3 83.1 45.6 83.4 45.6 85.9 45.8 86.1 45.8 87.6 45.6 87.9 45.6 88.6 45.3 88.9 45.3 89.6 45.1 89.9 45.1 90.6 44.8 90.9 44.8 91.6 44.6 91.9 44.6 92.6 44.3 92.9 44.3 93.6 44.1 93.9 44.1 94.1 43.4 94.8 42.6 95.1 42.1 95.6 41.9 95.6 40.6 96.3 40.4 96.3 40.1 96.6 39.9 96.6 39.4 97.1 39.1 97.1 37.9 97.9M26.4 97.4 15.1 97.3 14.6 97.1 12.6 97 12.1 96.8 10.6 96.7 9.9 96.5 8.1 96.4 7.4 96.2 5.9 96.1 5.2 95.6 2.9 91.4 3 90.6 3.3 89.9 3.9 87.9 4.2 87.1 5.3 83.9 5.8 82.9 7.5 80.4 9.1 77.6 11.2 74.6 13.6 70.6 15.9 67.4 17.7 64.4 18.9 62.1 20.4 60.1 21 59.1 21.3 57.9 21.4 56.4 20 52.6 18.6 50.6 18.3 49.9 18.5 47.6 18.9 46.6 19.8 45.1 20.4 44.6 21.9 43.8 23.1 43 24.1 42.5 27.4 42.7 29.2 42.4 31.6 42.1 32.1 41.9 33.9 41.8 39.1 41.8 41.9 42 43.9 41.9 44.9 41.6 46.1 41.4 46.9 41.2 50.4 41.4 53.9 39.9 54.4 39.9 55.4 40.2 55.6 40.4 55.6 40.7 54.1 41.9 53.6 42.1 52.6 42.4 50.9 42.3 49.9 42.7 48.4 43.6 45.6 44.3 44.9 44.8 43.4 46 41.4 47.1 39.7 48.9 38.3 51.4 37.9 52.4 37.8 53.6 38 54.9 38.7 57.1 39 60.1 40.2 63.1 40.6 64.9 41.1 68.1 42.3 71.6 43 74.1 43.3 76.1 44 79.1 44.1 80.6 44.3 81.1 44.3 83.4 44.5 83.9 44.4 85.9 44.6 87.1 43.6 90.6 43 93.6 41.6 94.6 37.4 97 26.4 97.4M27.9 96.9 15.4 96.8 14.9 96.6 12.9 96.5 12.1 96.2 10.6 96.1 10.1 95.9 8.1 95.8 7.6 95.6 6.1 95.4 5.8 95.1 4.5 92.6 3.9 91.6 3.7 90.9 5.4 85.4 6.4 83.2 8 80.9 9.8 77.9 12 74.9 14.4 71.1 16.9 68.1 18.3 65.6 19.6 63.8 22.7 60.9 23.1 60.1 23.9 58.3 24.4 58 25.4 58 25.9 57.9 26.4 57.6 26.9 57 27 56.4 26.6 55.6 25.9 55.2 24.6 55.1 24.1 54.8 21.9 52.6 19.7 50.1 19.5 49.4 19.7 47.9 20.1 47.1 20.9 46.1 21.4 45.7 22.6 45.1 23.9 44.2 24.6 43.9 27.4 43.9 32.4 43 34.1 42.9 39.6 42.9 42.1 43.1 44.9 43 45 43.1 44.2 43.6 42.6 45.1 40.7 46.4 40.1 46.9 39 48.1 37.1 50.9 35.3 54.1 35.1 55.4 35.1 57.4 34.7 59.1 34.7 59.9 35 60.4 35.7 61.1 36.9 62.1 37.6 63.1 38.4 65.4 39 68.1 41.1 72.1 41.9 74.4 42.1 76.4 42.9 79.4 42.9 80.6 43.2 82.1 43.4 84.1 43.4 86.1 43.5 86.9 42.5 90.4 42.1 92.9 41.1 93.6 37.1 96.1 34.1 96.5 27.9 96.9M45.9 42.9 45.2 42.9 46.1 42.9 45.9 42.9M30.6 51.9 29.6 52 28.1 51.9 22.7 50.6 21.9 50.2 21.4 49.6 21.2 49.1 21.3 48.6 22 47.6 24.5 45.6 25.4 45.1 33.6 43.7 36.1 43.7 40.1 43.9 41.4 44.1 41.5 44.4 41.1 44.9 39.9 45.9 35.6 50.3 34.6 50.7 32.9 51.1 30.6 51.9M28.1 96.4 23.6 96.5 15.6 96.3 6.4 94.7 4.3 91.1 4.9 89.1 6.6 84.1 8.6 81.1 10.1 78.4 12.6 75.4 15.1 71.8 17.9 68.6 19.6 66.2 20.4 65.6 22.4 64.6 23.9 64.1 25.4 64.1 26.4 64.3 27.1 64.7 28.1 65.7 28.5 65.9 31.9 65.4 32.6 65.5 33.2 65.9 33.6 66.6 33.9 68.1 34.3 68.9 35.1 69.6 37.4 70.7 39.4 72.6 39.9 73.3 40.4 74.6 40.7 76.6 41.5 79.6 41.7 80.9 42.2 82.9 42.5 86.9 42.4 87.4 41 92.1 40.4 92.9 36.9 95.3 33.8 95.9 28.1 96.4M30.1 50.4 29.4 50.4 28.4 50.3 27.1 49.9 26.1 49.3 25.6 48.9 25.4 48.4 25.4 47.9 25.8 47.1 26.6 46.4 27.8 45.9 32.9 44.6 35.9 44.6 37.1 45.1 37.7 45.6 37.8 46.4 36.9 47.4 33.8 49.1 30.1 50.4M28.1 95.9 22.6 96.1 18.9 95.9 15.6 95.9 13.1 95.5 12.4 95.2 11.1 95 10.1 94.7 8.6 94.5 6.9 94.1 5.1 91.1 5.5 89.4 7.2 84.4 9.1 81.5 10.7 78.6 16.9 71.2 19.4 69.3 20.6 68.7 21.9 68.6 24.6 68.9 26.9 69.7 29.4 70.2 31.6 71.5 32.6 72.4 33.9 74 34.4 74.3 36.1 74.7 37.1 75.5 38.1 77.4 39.6 79.6 40.7 82.9 40.9 85.1 41.3 86.9 41.3 87.6 40.8 89.4 39.4 92.4 37.5 93.9 36.6 94.4 33.1 95.2 28.1 95.9M29.9 48.2 29.4 48.2 29.1 48.1 29.1 47.9 29.4 47.6 29.9 47.6 30.1 47.9 29.9 48.2M25.4 95.6 22.9 95.7 15.9 95.4 13.4 95 12.4 94.6 11.1 94.4 7.4 93.3 7 92.9 6 91.1 6.4 88.9 7.8 84.6 9.6 81.9 11.2 78.9 15.1 74.3 17.6 73.1 19.4 72 20.1 71.7 21.1 71.6 23.1 71.7 23.9 71.9 25.9 72.9 26.6 72.9 28.1 72.7 29.1 73 32.1 75.8 34.8 77.4 35.4 77.9 37.7 80.6 38.7 82.9 38.8 83.9 38.6 85.9 39 87.9 38.8 88.9 38.3 90.1 37.6 91.4 35.4 93.9 31.9 94.8 25.4 95.6M25.9 95.1 23.1 95.2 15.9 94.9 13.4 94.5 11.1 93.9 9.1 93.1 8.8 92.6 7.5 90.1 7.2 89.1 7.6 87.2 8.4 84.9 10.1 82.1 11.7 79.1 13.1 77.5 15.6 75.9 16.8 75.4 20.4 74.3 21.9 74.2 23.4 74.4 24.6 74.8 27.6 76.3 30.6 77.4 32.6 79.1 33.6 80.4 34.9 83.6 35.2 86.1 35.6 88.4 35.6 89.9 35.2 91.1 34.3 92.6 33.1 93.9 25.9 95.1M26.1 94.6 23.4 94.8 15.9 94.5 13.6 94 11.5 93.4 11.1 93.1 10.4 91.9 9.5 89.9 9.2 88.9 9.2 87.9 9.8 85.4 11.1 82.9 11.9 80.4 12.4 79.8 17.9 77 19.9 76.3 21.4 76.1 23.6 76.5 28.1 78.4 29.6 79.2 31 80.4 31.8 81.6 32.1 83.6 33.3 88.1 33.5 89.9 33.2 91.1 32.8 91.9 32.1 92.6 29.7 93.9 26.1 94.6M24.1 94.4 16.1 94.1 14.1 93.6 12.9 92.6 12.1 91.6 11.2 90.1 10.7 88.9 10.7 87.6 11.1 86.2 11.6 85.4 13.1 83.6 13.7 82.1 14.1 81.5 14.9 80.9 17.9 79.1 19.6 78.2 20.6 77.9 21.9 77.9 23.1 78.1 27.6 79.9 28.9 80.7 29.5 81.6 29.9 83.6 30.8 86.1 31.4 88.4 31.5 89.9 31.4 90.4 30.9 91 28.4 92.4 27.3 93.9 25.6 94.3 24.1 94.4M24.9 93.9 21.7 93.9 16.6 93 15.6 92.7 14.8 92.1 14.1 91.4 12.6 88.6 12.5 87.6 12.8 86.9 13.1 86.4 14.9 84.8 15.7 82.9 16.2 82.1 17.6 81 20.9 79.5 21.9 79.4 22.9 79.7 26.6 82 27.3 82.9 28.6 85.4 29 86.4 29.2 88.1 29 89.4 28.7 89.9 27 91.4 25.7 93.4 24.9 93.9M23.9 90.9 22.9 91 18.3 90.4 16.9 89.6 16.4 89 15.9 88.1 15.9 87.6 16.1 86.9 18.1 84.1 19.9 82.9 20.9 82.1 21.4 81.8 21.9 81.8 22.6 82 24.4 83.1 25.2 84.1 26.1 86.1 26.2 87.4 25.8 88.9 24.9 90.1 23.9 90.9" fill="none" stroke="#111" stroke-width="0.62"/>
</g>
<g transform="translate(159.2,204.4)">
<path d="M19 3h1v1h-1zM45 3h1v1h-1zM42 4h1v1h-1zM15 5h1v1h-1zM18 5h1v1h-1zM30 6h1v1h-1zM5 7h1v1h-1zM9 7h1v1h-1zM6 8h1v1h-1zM42 8h1v1h-1zM32 9h1v1h-1zM48 9h1v1h-1zM58 9h1v1h-1zM4 10h1v1h-1zM14 10h1v1h-1zM32 10h1v1h-1zM43 10h1v1h-1zM51 10h1v1h-1zM26 11h1v1h-1zM34 11h1v1h-1zM12 12h1v1h-1zM28 12h1v1h-1zM31 12h2v1h-2zM51 12h2v1h-2zM6 13h1v1h-1zM33 13h1v1h-1zM44 13h2v1h-2zM54 13h1v1h-1zM60 13h1v1h-1zM7 14h1v1h-1zM16 14h1v1h-1zM27 14h1v1h-1zM33 14h1v1h-1zM7 15h1v1h-1zM42 15h1v1h-1zM57 15h1v1h-1zM65 15h1v1h-1zM27 16h1v1h-1zM36 16h1v1h-1zM59 16h1v1h-1zM26 17h2v1h-2zM29 17h1v1h-1zM31 17h1v1h-1zM38 17h1v1h-1zM45 17h1v1h-1zM56 17h1v1h-1zM2 18h3v1h-3zM7 18h1v1h-1zM15 18h1v1h-1zM18 18h2v1h-2zM23 18h2v1h-2zM39 18h2v1h-2zM46 18h1v1h-1zM12 19h1v1h-1zM14 19h1v1h-1zM22 19h2v1h-2zM25 19h1v1h-1zM46 19h1v1h-1zM50 19h1v1h-1zM6 20h1v1h-1zM11 20h1v1h-1zM24 20h1v1h-1zM27 20h1v1h-1zM40 20h1v1h-1zM46 20h1v1h-1zM21 21h1v1h-1zM25 21h1v1h-1zM27 21h1v1h-1zM29 21h1v1h-1zM31 21h1v1h-1zM43 21h1v1h-1zM50 21h1v1h-1zM58 21h1v1h-1zM3 22h2v1h-2zM16 22h1v1h-1zM24 22h1v1h-1zM28 22h1v1h-1zM32 22h1v1h-1zM37 22h1v1h-1zM40 22h1v1h-1zM42 22h1v1h-1zM46 22h1v1h-1zM54 22h1v1h-1zM61 22h1v1h-1zM87 22h1v1h-1zM1 23h1v1h-1zM4 23h1v1h-1zM13 23h1v1h-1zM15 23h3v1h-3zM23 23h2v1h-2zM26 23h1v1h-1zM31 23h1v1h-1zM34 23h2v1h-2zM37 23h2v1h-2zM40 23h1v1h-1zM43 23h1v1h-1zM48 23h1v1h-1zM55 23h1v1h-1zM65 23h1v1h-1zM10 24h2v1h-2zM20 24h2v1h-2zM27 24h1v1h-1zM32 24h1v1h-1zM34 24h1v1h-1zM36 24h1v1h-1zM41 24h3v1h-3zM48 24h2v1h-2zM53 24h1v1h-1zM9 25h1v1h-1zM11 25h1v1h-1zM15 25h1v1h-1zM20 25h1v1h-1zM30 25h1v1h-1zM35 25h1v1h-1zM38 25h1v1h-1zM40 25h1v1h-1zM43 25h1v1h-1zM45 25h1v1h-1zM48 25h1v1h-1zM51 25h2v1h-2zM65 25h1v1h-1zM12 26h1v1h-1zM18 26h2v1h-2zM23 26h1v1h-1zM27 26h1v1h-1zM29 26h2v1h-2zM35 26h1v1h-1zM38 26h1v1h-1zM40 26h4v1h-4zM45 26h1v1h-1zM54 26h1v1h-1zM62 26h1v1h-1zM66 26h1v1h-1zM12 27h1v1h-1zM15 27h2v1h-2zM22 27h2v1h-2zM27 27h5v1h-5zM34 27h2v1h-2zM39 27h1v1h-1zM43 27h3v1h-3zM48 27h1v1h-1zM50 27h1v1h-1zM52 27h2v1h-2zM59 27h2v1h-2zM66 27h1v1h-1zM2 28h1v1h-1zM5 28h2v1h-2zM11 28h2v1h-2zM16 28h1v1h-1zM22 28h4v1h-4zM27 28h5v1h-5zM35 28h2v1h-2zM38 28h2v1h-2zM41 28h10v1h-10zM52 28h2v1h-2zM55 28h1v1h-1zM7 29h1v1h-1zM15 29h1v1h-1zM19 29h1v1h-1zM29 29h4v1h-4zM34 29h3v1h-3zM38 29h18v1h-18zM58 29h1v1h-1zM60 29h2v1h-2zM1 30h1v1h-1zM3 30h1v1h-1zM11 30h1v1h-1zM13 30h1v1h-1zM18 30h1v1h-1zM20 30h3v1h-3zM25 30h3v1h-3zM29 30h1v1h-1zM31 30h6v1h-6zM39 30h18v1h-18zM58 30h2v1h-2zM61 30h1v1h-1zM83 30h1v1h-1zM6 31h2v1h-2zM9 31h1v1h-1zM16 31h1v1h-1zM20 31h9v1h-9zM30 31h31v1h-31zM6 32h2v1h-2zM9 32h1v1h-1zM12 32h3v1h-3zM18 32h1v1h-1zM20 32h42v1h-42zM4 33h1v1h-1zM7 33h1v1h-1zM11 33h1v1h-1zM14 33h1v1h-1zM16 33h46v1h-46zM63 33h1v1h-1zM5 34h2v1h-2zM8 34h1v1h-1zM10 34h1v1h-1zM13 34h50v1h-50zM64 34h1v1h-1zM7 35h1v1h-1zM10 35h1v1h-1zM12 35h1v1h-1zM14 35h33v1h-33zM53 35h10v1h-10zM64 35h1v1h-1zM6 36h1v1h-1zM11 36h33v1h-33zM54 36h10v1h-10zM10 37h1v1h-1zM12 37h2v1h-2zM15 37h27v1h-27zM56 37h7v1h-7zM64 37h1v1h-1zM6 38h1v1h-1zM10 38h31v1h-31zM56 38h8v1h-8zM65 38h1v1h-1zM4 39h1v1h-1zM9 39h31v1h-31zM56 39h8v1h-8zM65 39h1v1h-1zM3 40h3v1h-3zM7 40h1v1h-1zM9 40h30v1h-30zM57 40h7v1h-7zM2 41h1v1h-1zM9 41h30v1h-30zM57 41h7v1h-7zM1 42h5v1h-5zM8 42h29v1h-29zM57 42h8v1h-8zM2 43h1v1h-1zM6 43h3v1h-3zM10 43h15v1h-15zM57 43h8v1h-8zM2 44h2v1h-2zM6 44h16v1h-16zM57 44h6v1h-6zM65 44h1v1h-1zM3 45h19v1h-19zM57 45h7v1h-7zM1 46h1v1h-1zM4 46h17v1h-17zM57 46h9v1h-9zM67 46h1v1h-1zM1 47h1v1h-1zM4 47h17v1h-17zM57 47h4v1h-4zM62 47h3v1h-3zM5 48h15v1h-15zM57 48h7v1h-7zM3 49h1v1h-1zM6 49h14v1h-14zM57 49h7v1h-7zM1 50h4v1h-4zM6 50h15v1h-15zM57 50h5v1h-5zM63 50h2v1h-2zM2 51h19v1h-19zM56 51h9v1h-9zM3 52h18v1h-18zM56 52h8v1h-8zM66 52h1v1h-1zM2 53h5v1h-5zM8 53h14v1h-14zM55 53h7v1h-7zM63 53h1v1h-1zM3 54h1v1h-1zM6 54h16v1h-16zM55 54h9v1h-9zM1 55h1v1h-1zM3 55h19v1h-19zM54 55h9v1h-9zM64 55h1v1h-1zM2 56h20v1h-20zM52 56h10v1h-10zM63 56h2v1h-2zM1 57h1v1h-1zM3 57h19v1h-19zM51 57h13v1h-13zM4 58h17v1h-17zM43 58h22v1h-22zM2 59h12v1h-12zM15 59h5v1h-5zM42 59h22v1h-22zM1 60h1v1h-1zM3 60h17v1h-17zM41 60h23v1h-23zM1 61h2v1h-2zM5 61h14v1h-14zM41 61h20v1h-20zM63 61h1v1h-1zM3 62h15v1h-15zM41 62h22v1h-22zM66 62h1v1h-1zM1 63h1v1h-1zM3 63h1v1h-1zM5 63h13v1h-13zM41 63h19v1h-19zM61 63h1v1h-1zM3 64h14v1h-14zM41 64h15v1h-15zM57 64h6v1h-6zM64 64h1v1h-1zM2 65h1v1h-1zM4 65h13v1h-13zM41 65h20v1h-20zM63 65h1v1h-1zM2 66h14v1h-14zM41 66h21v1h-21zM1 67h2v1h-2zM4 67h11v1h-11zM41 67h19v1h-19zM2 68h1v1h-1zM4 68h11v1h-11zM41 68h20v1h-20zM62 68h1v1h-1zM1 69h5v1h-5zM7 69h7v1h-7zM41 69h19v1h-19zM61 69h1v1h-1zM1 70h1v1h-1zM3 70h11v1h-11zM41 70h20v1h-20zM1 71h1v1h-1zM3 71h10v1h-10zM41 71h20v1h-20zM2 72h11v1h-11zM41 72h20v1h-20zM1 73h11v1h-11zM41 73h18v1h-18zM60 73h2v1h-2zM1 74h10v1h-10zM42 74h20v1h-20zM3 75h8v1h-8zM42 75h16v1h-16zM59 75h3v1h-3zM1 76h1v1h-1zM3 76h7v1h-7zM42 76h19v1h-19zM66 76h1v1h-1zM4 77h5v1h-5zM42 77h18v1h-18zM1 78h1v1h-1zM3 78h6v1h-6zM42 78h18v1h-18zM2 79h6v1h-6zM42 79h18v1h-18zM61 79h1v1h-1zM1 80h7v1h-7zM42 80h18v1h-18zM2 81h5v1h-5zM42 81h19v1h-19zM63 81h1v1h-1zM2 82h5v1h-5zM42 82h17v1h-17zM1 83h1v1h-1zM3 83h3v1h-3zM42 83h14v1h-14zM57 83h1v1h-1zM59 83h2v1h-2zM1 84h5v1h-5zM42 84h11v1h-11zM54 84h6v1h-6zM1 85h4v1h-4zM42 85h15v1h-15zM58 85h1v1h-1zM60 85h1v1h-1zM1 86h4v1h-4zM42 86h17v1h-17zM60 86h1v1h-1zM1 87h4v1h-4zM42 87h16v1h-16zM59 87h1v1h-1zM64 87h1v1h-1zM2 88h2v1h-2zM42 88h15v1h-15zM1 89h3v1h-3zM42 89h15v1h-15zM66 89h1v1h-1zM1 90h3v1h-3zM42 90h16v1h-16zM1 91h3v1h-3zM42 91h16v1h-16zM1 92h3v1h-3zM41 92h17v1h-17zM62 92h1v1h-1zM2 93h3v1h-3zM41 93h18v1h-18zM1 94h4v1h-4zM41 94h14v1h-14zM61 94h1v1h-1zM1 95h5v1h-5zM40 95h17v1h-17zM60 95h1v1h-1zM2 96h7v1h-7zM38 96h16v1h-16zM55 96h2v1h-2zM1 97h16v1h-16zM36 97h19v1h-19zM61 97h1v1h-1zM2 98h52v1h-52zM61 98h1v1h-1zM2 99h51v1h-51zM55 99h1v1h-1z" fill="#000"/>
<path d="M35.6 98.1 17.1 98.1 16.9 97.9 14.9 97.9 14.6 97.6 12.6 97.6 12.4 97.4 10.6 97.4 10.4 97.1 8.4 97.1 8.1 96.9 6.4 96.8 5.4 95.9 5.4 95.6 4.6 94.4 4.6 94.1 4.4 93.9 4.4 93.6 4.1 93.4 4.1 93.1 3.9 92.9 3.9 92.6 3.6 92.4 3.6 92.1 3.4 91.9 3.4 90.4 3.6 90.1 3.6 89.6 3.9 89.4 3.9 88.9 4.1 88.6 4.1 88.1 4.4 87.9 4.4 87.4 4.6 87.1 4.6 86.6 4.9 86.4 4.9 85.9 5.1 85.6 5.1 85.1 5.4 84.9 5.4 84.4 5.6 84.1 5.6 83.6 6.4 82.4 6.4 82.1 6.9 81.6 6.9 81.4 7.4 80.6 7.4 80.4 7.9 79.9 8.1 79.1 8.6 78.6 8.6 78.4 9.1 77.6 9.1 77.4 9.6 76.9 9.9 76.1 10.4 75.6 10.4 75.4 10.6 75.1 10.9 74.4 11.4 73.9 11.6 73.1 12.1 72.6 12.1 72.4 12.4 72.1 12.6 71.4 13.1 70.9 13.4 70.1 13.9 69.6 13.9 69.4 14.4 68.6 14.4 68.4 14.9 67.9 15.2 67.1 15.7 66.6 15.7 66.4 16.2 65.6 16.2 65.4 16.7 64.9 16.9 64.1 17.4 63.6 17.7 62.9 17.9 62.6 17.9 62.4 18.4 61.9 18.7 61.1 19.4 60.4 19.4 60.1 20.2 59.4 20.2 59.1 20.9 58.4 20.9 58.1 21.7 57.4 21.7 57.1 21.9 56.9 21.9 55.1 21.7 54.9 21.7 54.1 21.4 53.9 21.4 53.1 21.2 52.9 21.2 52.4 20.9 52.1 20.9 51.6 20.7 51.4 20.7 50.6 20.4 50.4 20.4 49.9 20.2 49.6 20.2 48.6 20.2 48.1 20.9 46.9 20.9 46.6 21.2 46.4 21.2 46.1 21.4 45.9 21.4 45.6 21.7 45.4 21.7 45.1 21.9 44.9 21.9 44.6 22.6 43.9 22.9 43.9 23.1 43.7 23.6 43.7 23.9 43.4 24.4 43.4 25.1 42.9 25.6 42.9 25.9 42.7 26.4 42.7 26.6 42.4 31.4 42.4 31.6 42.6 35.9 42.6 36.1 42.4 36.4 42.4 36.6 42.2 36.9 42.2 37.1 41.9 37.4 41.9 37.6 41.7 38.4 41.4 38.9 40.9 38.9 40.6 39.7 39.9 39.7 39.6 40.4 38.9 40.4 38.6 41.9 37.2 42.1 37.2 42.9 36.7 43.4 36.6 44.1 36.1 44.6 36.1 45.4 35.6 45.9 35.6 46.6 35.1 52.6 35.2 53.4 35.7 53.6 35.7 54.9 36.7 55.1 36.7 56.1 37.6 56.1 37.9 56.3 38.1 56.3 38.6 56.6 38.9 56.6 39.4 56.8 39.6 56.8 40.1 57.1 40.4 57.1 41.1 57.3 41.4 57.3 41.9 57.6 42.1 57.6 44.1 57.3 44.4 57.3 47.6 57.1 47.9 57.1 49.9 56.6 50.6 56.6 51.1 56.1 51.9 56.1 52.4 55.6 53.1 55.6 53.6 55.3 53.9 55.3 54.1 53.6 55.9 53.4 55.9 51.6 57.4 51.4 57.4 50.6 57.8 49.1 57.8 48.9 58.1 46.9 58.1 46.6 58.3 44.9 58.3 44.6 58.6 43.1 58.6 42.9 58.8 42.6 58.8 41.8 59.6 41.8 59.9 41.1 60.6 41.1 60.9 40.8 61.1 40.8 68.4 41.1 68.6 41.1 71.4 41.3 71.6 41.4 74.4 41.6 74.6 41.6 77.4 41.9 77.6 41.9 81.6 42.1 81.9 42.1 86.6 42.4 86.9 42.4 89.6 42.1 89.9 42.1 90.6 41.9 90.9 41.9 91.6 41.6 91.9 41.6 92.6 41.4 92.9 41.4 93.6 41.1 93.9 41.1 94.6 40.8 94.9 40.8 95.1 40.1 95.9 39.9 95.9 39.6 96.1 39.4 96.1 38.1 96.9 37.9 96.9 37.6 97.1 37.4 97.1 37.1 97.4 36.9 97.4 36.6 97.6 36.4 97.6 35.6 98.1M28.4 97.6 17.6 97.5 16.9 97.3 15.4 97.3 14.6 97 13.1 97 12.4 96.7 11.1 96.7 10.4 96.4 8.9 96.3 8.1 96 6.8 95.9 6.3 95.4 4.3 91.4 4.3 90.9 5.4 87.4 6.3 83.9 7.1 82.4 7.5 81.9 10 77.6 11 76.1 13.6 71.6 16.6 67.1 17.9 64.6 19.1 63 20.6 61.4 22.8 58.1 23.1 57.1 23.3 54.9 23.3 53.9 23 52.9 22.1 50.9 21.5 49.1 21.5 48.6 22.1 47.1 23.2 45.4 25.6 44.1 27.1 43.5 30.9 43.3 31.6 43.5 36.1 43.5 39.1 42.1 39.6 41.6 42.1 38.3 43.4 37.5 47.1 36 52.1 36.1 53.2 36.6 54.6 37.6 55.1 38.1 56.6 42.6 56.7 43.6 56.5 44.4 56.4 47.1 56.2 47.9 56.1 49.4 54.4 53.6 53.4 54.9 52.4 55.7 51.4 56.4 50.1 56.9 48.9 57 48.4 57.2 46.6 57.2 46.1 57.4 42.9 57.5 41.9 57.8 40.6 58.9 40 59.9 39.5 60.9 39.3 63.1 39.4 66.9 39.6 68.4 39.9 69.1 40.1 71.4 40.4 72.1 40.5 74.4 40.8 75.1 40.8 77.4 41 78.1 41 81.6 41.3 82.4 41.2 86.6 41.5 87.4 41.5 88.4 41.5 89.1 41.1 91.1 40.2 94.1 39.9 94.8 39.6 95 35.2 97.4 28.4 97.6M28.9 97.1 24.4 97.2 17.6 97 17.1 96.8 15.4 96.7 14.9 96.5 13.1 96.4 12.6 96.2 11.1 96 10.6 95.8 9.1 95.6 8.4 95.3 7.1 95.1 5.2 91.1 6.4 86.9 7 84.1 7.6 82.8 9.4 79.9 12.9 74.7 14.3 72.1 17.5 67.9 18.9 65.1 19.6 64.5 21.4 63.5 22.1 62.9 24.9 59.1 25.1 58.1 24.9 56.4 25.1 54.9 25 54.1 24.6 53.1 23.2 50.6 22.6 48.9 23 47.6 24 46.1 27.4 44.5 30.6 44.2 31.4 44.4 33.6 44.4 35.9 44.3 38.6 43.5 39.4 43.2 39.9 42.8 42.4 39.4 42.9 38.9 43.6 38.4 47.4 36.9 49.6 36.8 51.9 37 52.6 37.4 54.2 38.6 55.8 42.9 55.5 46.9 55.2 49.1 53.4 53.4 52.9 54.1 51.9 54.9 50.8 55.6 49.9 56 48.1 56.2 42.1 56.3 40.9 56.5 39.9 56.9 39.2 57.4 38.8 57.9 36.6 62.1 36.6 63.1 39.1 70.4 39.5 72.4 39.8 74.6 40 75.4 40 77.6 40.2 78.4 40.2 81.6 40.4 82.6 40.5 86.6 40.7 87.6 40.7 88.9 40.3 91.1 39.3 94.1 38.4 94.8 34.9 96.7 28.9 97.1M35.6 55.7 35.1 55.7 33.6 55.4 31.9 55.3 31.1 55.2 28.1 53.7 25.6 52.1 25.1 51.7 24.6 50.9 23.9 49.1 24 48.1 24.6 47 26.1 46.1 27.6 45.4 30.4 45.2 36.1 45.2 39.4 44.6 40.1 44.2 40.6 43.7 42.3 41.1 43.4 39.7 45.1 38.8 47.4 37.8 49.6 37.7 51.6 37.9 53.4 39.2 54.1 40.6 55 43.1 54.8 46.6 54.4 49.1 52.9 52.6 52.4 53.4 51.4 54.3 49.9 55.1 47.9 55.3 43.4 55.1 41.9 54.8 39.4 53.8 38.4 53.7 37.6 54.1 36.4 55.2 35.6 55.7M28.9 96.6 24.6 96.7 17.9 96.4 17.1 96.2 13.4 95.9 11.4 95.5 7.6 94.4 6 91.1 7.2 87.1 7.7 84.4 8.3 83.1 10.8 78.9 13.6 75.1 15 72.6 15.9 71.5 18.5 68.6 20.1 66.3 20.6 65.9 22.6 65.3 24.9 63.9 26.1 63.4 26.9 63.3 27.4 63.5 29.1 64.9 30.1 65.2 31 64.9 32.1 63.4 32.6 63.3 33.6 63.9 35.6 66.2 36.7 68.6 37.7 70.6 38.4 72.6 39 75.6 39.3 78.6 39.3 81.9 39.6 82.9 39.9 88.6 39.3 91.9 38.7 93.6 38.5 93.9 34.9 96 28.9 96.6M48.6 54.4 47.6 54.5 46.1 54.3 45.1 53.9 42.2 51.6 40.3 49.9 39.4 48.9 39.2 48.1 39.4 47.6 41 45.9 42.4 42.7 43.9 40.8 45.4 39.8 47.6 38.7 49.4 38.5 50.6 38.7 51.6 39.1 52.6 40 53.2 40.9 54.1 43.1 54.1 46.6 53.8 48.9 52.2 52.4 50.9 53.5 49.9 54.1 48.6 54.4M30.9 52.1 29.4 52.2 28.4 51.9 27.1 51.2 26.2 50.4 25.8 49.6 25.7 48.6 26 47.9 26.6 47.1 27.9 46.4 30.1 46.1 35.4 46.4 36.8 46.6 37 46.9 37.6 47.9 37.5 48.6 36.9 49.4 35.1 51.3 34.1 51.8 30.9 52.1M28.9 96.2 24.9 96.3 18.1 96 14.9 95.4 13.4 95.3 11.6 94.9 9.4 94.3 8.1 93.6 7.3 91.9 7 90.9 8.4 84.6 8.9 83.7 11.4 79.1 14.1 75.6 15.6 73.1 16.4 72.1 17.4 71.2 17.9 70.8 18.6 70.6 21.6 70.3 23.4 69.3 24.4 69 26.4 68.7 28.6 68.9 30.9 68.4 31.9 68.8 33.6 70.4 36 71.6 36.6 72.4 37.4 73.9 37.9 75.9 38.4 78.6 38.5 81.9 39.1 84.9 39.2 88.4 38.6 91.6 37.9 93.4 34.6 95.4 28.9 96.2M49.1 53.1 48.1 53.2 47.1 52.8 46.4 52.3 44.4 50.4 43.8 49.6 43.2 48.6 43 47.6 42.9 46.6 43.1 44.6 43.4 43.9 43.9 43.1 47.5 40.1 48.4 39.7 49.1 39.6 49.9 39.7 50.6 40.2 51.7 41.1 52.6 42.1 53.1 43.1 53.4 44.1 53.5 46.4 53.2 48.6 52.1 50.9 50.9 52.4 50.1 52.8 49.1 53.1M28.9 95.6 25.1 95.8 18.1 95.5 14.9 94.9 13.6 94.8 11.6 94.3 9.6 93.5 8.7 92.9 8.2 91.4 8 90.1 8.1 89 9.2 84.6 12 79.4 13.6 77.4 16.2 73.9 16.9 73.2 17.6 72.7 18.9 72.5 21.4 73.1 24.4 72.5 28.1 72.2 29.4 72.4 31.9 73.3 33.6 73.6 34.4 73.9 34.9 74.5 37 78.4 37.4 79.6 37.6 82.1 38.1 83.4 38.4 84.6 38.6 87.9 38.2 90.4 37.5 92.6 34.6 94.7 28.9 95.6M49.6 51.2 48.9 51.3 48.1 51.2 47.4 50.8 46.3 49.9 45.4 48.9 45 48.1 44.6 47.1 44.4 46.1 44.6 45.1 45.1 44.1 47.6 42 48.4 41.6 48.9 41.4 49.9 41.6 51 42.6 51.9 44.4 52.4 46.4 52.3 47.9 51.8 49.1 50.9 50.4 50.3 50.9 49.6 51.2M28.6 95.2 24.1 95.3 18.1 95 13.6 94.2 11.9 93.7 10.7 93.1 10.4 92.1 9.7 87.6 9.7 86.4 10 85.1 11 83.1 11.6 81.1 12.6 79.5 17.6 75.3 18.6 75 21.1 75 24.1 74.2 28.1 74.3 29.1 74.5 31.7 75.6 32.9 76.4 33.5 77.1 34.3 78.9 35.6 80.6 36.3 83.1 37.3 85.1 37.5 86.1 37.4 88.6 36.7 90.9 35.6 92.7 34.4 94.1 28.6 95.2M49.9 49.2 49.1 49.4 48.1 49 47.1 47.9 46.5 46.6 46.5 45.9 46.8 45.1 47.8 44.1 48.6 43.7 49.3 43.9 49.9 44.4 50.6 45.6 51 46.6 51 47.4 50.8 48.1 50.4 48.8 49.9 49.2M28.6 94.6 24.1 94.9 18.6 94.6 13.9 93.7 13.2 93.4 12.7 92.6 12.4 91.8 11.6 88.6 11.4 86.9 11.6 85.9 12.5 83.9 13 81.4 13.6 80.4 14.9 79.4 18.1 77.3 24.1 75.9 25.4 76 27.6 76.9 29.4 77.3 30.1 77.7 30.9 78.2 32.4 80.1 33.6 81.4 34.2 82.1 35.6 86.1 35.8 87.6 35.8 88.9 35.5 90.1 34.6 91.5 33.6 92.6 32.1 93.9 31.8 94.1 28.6 94.6M25.9 94.4 22.6 94.4 18.4 94.2 17.4 93.9 16.4 93.3 15.5 92.6 14.9 91.9 13.6 89.6 13.3 88.6 13.3 87.6 14.7 82.1 15.2 81.1 16.1 80.4 17.9 79.5 20.9 78.4 22.9 78 24.4 77.9 25.1 78.1 26.9 79.2 29.1 80 32.2 82.9 32.7 83.9 33.1 86.1 34 88.1 34 89.1 33.7 89.9 32.9 90.9 31.1 92.6 29.9 93.6 28.8 94.1 25.9 94.4M25.1 93.4 23.4 93.6 21.9 93.5 20.5 93.1 19.1 92.4 17.9 91.6 17.2 90.9 15.5 87.4 15.4 86.6 15.5 85.6 15.8 84.6 16.4 83.9 17.1 83.2 18.9 82.1 20.7 80.6 21.9 80.1 22.9 80 23.9 80.2 25.9 81.4 27.9 82.2 29.8 84.1 30.5 85.4 30.5 87.1 30.2 89.1 29.9 89.9 29.5 90.4 26.8 92.6 26 93.1 25.1 93.4M24.1 90.9 23.4 91 22.4 90.9 18.8 88.9 18.1 88.2 17.7 87.4 17.6 86.6 17.8 86.1 18.4 85.6 21.4 83.9 22.1 83.6 22.9 83.7 24.4 84.8 25.1 85.1 27.1 85.4 27.4 85.6 27.6 86.1 27.4 86.9 25.4 90 24.9 90.5 24.1 90.9" fill="none" stroke="#111" stroke-width="0.62"/>
</g>
<rect x="37" y="204.4" width="101.30" height="100.00" fill="none" stroke="#000" stroke-width="1.15"/>
<path d="M34.20 213.20H37M34.20 235.80H37M34.20 258.80H37M34.20 283.00H37M34.20 294.50H37M56.80 304.4V307.20M81.00 304.4V307.20M104.60 304.4V307.20M128.00 304.4V307.20M35.40 275.72H37M35.40 271.45H37M35.40 268.43H37M35.40 266.08H37M35.40 264.17H37M35.40 262.55H37M35.40 261.15H37M35.40 259.91H37M35.40 251.88H37M35.40 247.83H37M35.40 244.95H37M35.40 242.72H37M35.40 240.90H37M35.40 239.36H37M35.40 238.03H37M35.40 236.85H37M35.40 229.00H37M35.40 225.02H37M35.40 222.19H37M35.40 220.00H37M35.40 218.21H37M35.40 216.70H37M35.40 215.39H37M35.40 214.23H37M35.40 207.50H37M64.08 304.4V306.00M68.35 304.4V306.00M71.37 304.4V306.00M73.72 304.4V306.00M75.63 304.4V306.00M77.25 304.4V306.00M78.65 304.4V306.00M79.89 304.4V306.00M88.10 304.4V306.00M92.26 304.4V306.00M95.21 304.4V306.00M97.50 304.4V306.00M99.36 304.4V306.00M100.94 304.4V306.00M102.31 304.4V306.00M103.52 304.4V306.00M111.64 304.4V306.00M115.76 304.4V306.00M118.69 304.4V306.00M120.96 304.4V306.00M122.81 304.4V306.00M124.38 304.4V306.00M125.73 304.4V306.00M126.93 304.4V306.00M49.00 304.4V306.00M52.20 304.4V306.00M133.00 304.4V306.00M135.50 304.4V306.00" stroke="#111" stroke-width="0.9" fill="none"/>
<rect x="159.2" y="204.4" width="101.10" height="100.00" fill="none" stroke="#000" stroke-width="1.15"/>
<path d="M156.40 213.20H159.2M156.40 235.80H159.2M156.40 258.80H159.2M156.40 283.00H159.2M156.40 294.50H159.2M178.80 304.4V307.20M203.00 304.4V307.20M226.60 304.4V307.20M250.00 304.4V307.20M157.60 275.72H159.2M157.60 271.45H159.2M157.60 268.43H159.2M157.60 266.08H159.2M157.60 264.17H159.2M157.60 262.55H159.2M157.60 261.15H159.2M157.60 259.91H159.2M157.60 251.88H159.2M157.60 247.83H159.2M157.60 244.95H159.2M157.60 242.72H159.2M157.60 240.90H159.2M157.60 239.36H159.2M157.60 238.03H159.2M157.60 236.85H159.2M157.60 229.00H159.2M157.60 225.02H159.2M157.60 222.19H159.2M157.60 220.00H159.2M157.60 218.21H159.2M157.60 216.70H159.2M157.60 215.39H159.2M157.60 214.23H159.2M157.60 207.50H159.2M186.28 304.4V306.00M190.55 304.4V306.00M193.57 304.4V306.00M195.92 304.4V306.00M197.83 304.4V306.00M199.45 304.4V306.00M200.85 304.4V306.00M202.09 304.4V306.00M210.30 304.4V306.00M214.46 304.4V306.00M217.41 304.4V306.00M219.70 304.4V306.00M221.56 304.4V306.00M223.14 304.4V306.00M224.51 304.4V306.00M225.72 304.4V306.00M233.84 304.4V306.00M237.96 304.4V306.00M240.89 304.4V306.00M243.16 304.4V306.00M245.01 304.4V306.00M246.58 304.4V306.00M247.93 304.4V306.00M249.13 304.4V306.00M171.20 304.4V306.00M174.40 304.4V306.00M255.20 304.4V306.00M257.70 304.4V306.00" stroke="#111" stroke-width="0.9" fill="none"/>
<g transform="translate(37,516)">
<path d="M28 19h2v1h-2zM37 19h1v1h-1zM53 20h1v1h-1zM58 20h1v1h-1zM60 21h1v1h-1zM25 22h1v1h-1zM33 22h1v1h-1zM36 22h1v1h-1zM54 22h1v1h-1zM57 22h3v1h-3zM64 22h3v1h-3zM68 22h1v1h-1zM22 23h1v1h-1zM52 23h3v1h-3zM58 23h9v1h-9zM69 23h2v1h-2zM24 24h1v1h-1zM26 24h1v1h-1zM28 24h1v1h-1zM51 24h17v1h-17zM69 24h1v1h-1zM71 24h3v1h-3zM80 24h1v1h-1zM84 24h1v1h-1zM28 25h1v1h-1zM44 25h1v1h-1zM47 25h25v1h-25zM73 25h3v1h-3zM21 26h1v1h-1zM29 26h1v1h-1zM32 26h1v1h-1zM36 26h1v1h-1zM44 26h1v1h-1zM47 26h1v1h-1zM49 26h28v1h-28zM81 26h1v1h-1zM84 26h1v1h-1zM15 27h1v1h-1zM45 27h11v1h-11zM66 27h5v1h-5zM72 27h6v1h-6zM79 27h1v1h-1zM24 28h1v1h-1zM27 28h1v1h-1zM30 28h1v1h-1zM40 28h2v1h-2zM43 28h10v1h-10zM67 28h8v1h-8zM76 28h1v1h-1zM79 28h1v1h-1zM16 29h1v1h-1zM22 29h1v1h-1zM35 29h2v1h-2zM43 29h6v1h-6zM68 29h10v1h-10zM26 30h1v1h-1zM32 30h1v1h-1zM37 30h1v1h-1zM39 30h1v1h-1zM43 30h5v1h-5zM70 30h9v1h-9zM80 30h1v1h-1zM5 31h1v1h-1zM12 31h1v1h-1zM14 31h1v1h-1zM17 31h3v1h-3zM25 31h1v1h-1zM27 31h1v1h-1zM41 31h6v1h-6zM70 31h8v1h-8zM80 31h1v1h-1zM8 32h1v1h-1zM19 32h1v1h-1zM24 32h1v1h-1zM26 32h1v1h-1zM40 32h1v1h-1zM42 32h4v1h-4zM71 32h7v1h-7zM85 32h1v1h-1zM20 33h2v1h-2zM27 33h1v1h-1zM32 33h1v1h-1zM40 33h5v1h-5zM71 33h7v1h-7zM80 33h1v1h-1zM40 34h5v1h-5zM71 34h8v1h-8zM87 34h1v1h-1zM11 35h1v1h-1zM17 35h1v1h-1zM26 35h2v1h-2zM35 35h3v1h-3zM39 35h1v1h-1zM41 35h3v1h-3zM71 35h8v1h-8zM81 35h1v1h-1zM21 36h2v1h-2zM26 36h1v1h-1zM33 36h1v1h-1zM37 36h1v1h-1zM39 36h5v1h-5zM71 36h8v1h-8zM32 37h1v1h-1zM35 37h1v1h-1zM37 37h6v1h-6zM71 37h8v1h-8zM12 38h1v1h-1zM18 38h2v1h-2zM22 38h1v1h-1zM25 38h1v1h-1zM30 38h1v1h-1zM34 38h3v1h-3zM39 38h4v1h-4zM71 38h9v1h-9zM6 39h1v1h-1zM9 39h1v1h-1zM21 39h1v1h-1zM24 39h1v1h-1zM27 39h1v1h-1zM29 39h1v1h-1zM31 39h1v1h-1zM35 39h1v1h-1zM37 39h5v1h-5zM71 39h7v1h-7zM79 39h2v1h-2zM83 39h2v1h-2zM10 40h1v1h-1zM15 40h1v1h-1zM29 40h1v1h-1zM32 40h1v1h-1zM36 40h6v1h-6zM71 40h6v1h-6zM78 40h3v1h-3zM31 41h10v1h-10zM71 41h8v1h-8zM86 41h1v1h-1zM2 42h1v1h-1zM34 42h7v1h-7zM71 42h8v1h-8zM13 43h1v1h-1zM17 43h1v1h-1zM20 43h1v1h-1zM24 43h1v1h-1zM31 43h1v1h-1zM33 43h1v1h-1zM36 43h5v1h-5zM71 43h7v1h-7zM80 43h1v1h-1zM19 44h2v1h-2zM27 44h3v1h-3zM31 44h1v1h-1zM33 44h2v1h-2zM38 44h3v1h-3zM71 44h8v1h-8zM6 45h1v1h-1zM20 45h1v1h-1zM23 45h1v1h-1zM26 45h1v1h-1zM29 45h1v1h-1zM32 45h1v1h-1zM36 45h4v1h-4zM71 45h8v1h-8zM80 45h2v1h-2zM84 45h1v1h-1zM9 46h2v1h-2zM13 46h1v1h-1zM25 46h1v1h-1zM31 46h9v1h-9zM71 46h10v1h-10zM11 47h1v1h-1zM15 47h2v1h-2zM18 47h1v1h-1zM27 47h1v1h-1zM30 47h2v1h-2zM33 47h1v1h-1zM36 47h4v1h-4zM71 47h9v1h-9zM2 48h1v1h-1zM4 48h1v1h-1zM30 48h1v1h-1zM32 48h1v1h-1zM34 48h6v1h-6zM71 48h8v1h-8zM80 48h1v1h-1zM7 49h1v1h-1zM18 49h1v1h-1zM20 49h1v1h-1zM23 49h1v1h-1zM33 49h1v1h-1zM35 49h5v1h-5zM71 49h8v1h-8zM6 50h1v1h-1zM18 50h1v1h-1zM23 50h3v1h-3zM29 50h1v1h-1zM32 50h1v1h-1zM35 50h5v1h-5zM71 50h8v1h-8zM10 51h1v1h-1zM16 51h1v1h-1zM18 51h1v1h-1zM24 51h1v1h-1zM28 51h3v1h-3zM33 51h7v1h-7zM71 51h9v1h-9zM13 52h1v1h-1zM18 52h1v1h-1zM23 52h5v1h-5zM30 52h4v1h-4zM35 52h5v1h-5zM71 52h7v1h-7zM87 52h1v1h-1zM6 53h1v1h-1zM14 53h1v1h-1zM22 53h1v1h-1zM24 53h1v1h-1zM28 53h3v1h-3zM33 53h8v1h-8zM71 53h7v1h-7zM80 53h1v1h-1zM4 54h1v1h-1zM8 54h1v1h-1zM20 54h1v1h-1zM22 54h1v1h-1zM25 54h2v1h-2zM28 54h3v1h-3zM33 54h8v1h-8zM70 54h8v1h-8zM79 54h1v1h-1zM83 54h1v1h-1zM2 55h1v1h-1zM18 55h1v1h-1zM22 55h1v1h-1zM29 55h1v1h-1zM31 55h1v1h-1zM35 55h6v1h-6zM70 55h7v1h-7zM78 55h2v1h-2zM6 56h1v1h-1zM18 56h2v1h-2zM21 56h2v1h-2zM26 56h1v1h-1zM29 56h1v1h-1zM31 56h1v1h-1zM33 56h1v1h-1zM35 56h6v1h-6zM70 56h9v1h-9zM5 57h1v1h-1zM18 57h1v1h-1zM20 57h1v1h-1zM27 57h1v1h-1zM30 57h2v1h-2zM33 57h9v1h-9zM70 57h9v1h-9zM1 58h1v1h-1zM7 58h1v1h-1zM9 58h1v1h-1zM14 58h1v1h-1zM18 58h2v1h-2zM21 58h2v1h-2zM24 58h1v1h-1zM29 58h15v1h-15zM70 58h9v1h-9zM8 59h1v1h-1zM11 59h2v1h-2zM15 59h1v1h-1zM17 59h2v1h-2zM23 59h2v1h-2zM27 59h3v1h-3zM32 59h14v1h-14zM70 59h9v1h-9zM10 60h1v1h-1zM12 60h1v1h-1zM26 60h3v1h-3zM30 60h5v1h-5zM36 60h2v1h-2zM39 60h9v1h-9zM70 60h8v1h-8zM79 60h1v1h-1zM5 61h2v1h-2zM11 61h1v1h-1zM14 61h1v1h-1zM20 61h1v1h-1zM30 61h21v1h-21zM59 61h2v1h-2zM70 61h8v1h-8zM79 61h1v1h-1zM84 61h1v1h-1zM6 62h1v1h-1zM13 62h1v1h-1zM15 62h1v1h-1zM19 62h1v1h-1zM22 62h1v1h-1zM24 62h1v1h-1zM28 62h3v1h-3zM32 62h21v1h-21zM58 62h5v1h-5zM70 62h10v1h-10zM81 62h1v1h-1zM15 63h1v1h-1zM17 63h3v1h-3zM21 63h1v1h-1zM23 63h1v1h-1zM28 63h1v1h-1zM30 63h24v1h-24zM56 63h8v1h-8zM70 63h9v1h-9zM83 63h1v1h-1zM5 64h1v1h-1zM12 64h3v1h-3zM20 64h1v1h-1zM25 64h39v1h-39zM70 64h9v1h-9zM6 65h1v1h-1zM8 65h1v1h-1zM19 65h3v1h-3zM24 65h1v1h-1zM26 65h38v1h-38zM70 65h5v1h-5zM76 65h2v1h-2zM80 65h1v1h-1zM4 66h1v1h-1zM19 66h45v1h-45zM70 66h9v1h-9zM8 67h1v1h-1zM13 67h1v1h-1zM18 67h1v1h-1zM20 67h2v1h-2zM23 67h19v1h-19zM43 67h21v1h-21zM70 67h9v1h-9zM82 67h1v1h-1zM1 68h1v1h-1zM9 68h1v1h-1zM13 68h1v1h-1zM16 68h1v1h-1zM18 68h2v1h-2zM23 68h33v1h-33zM57 68h6v1h-6zM70 68h7v1h-7zM78 68h2v1h-2zM85 68h2v1h-2zM4 69h1v1h-1zM10 69h4v1h-4zM16 69h1v1h-1zM18 69h1v1h-1zM20 69h33v1h-33zM59 69h2v1h-2zM70 69h8v1h-8zM79 69h1v1h-1zM1 70h1v1h-1zM4 70h1v1h-1zM13 70h2v1h-2zM16 70h37v1h-37zM70 70h8v1h-8zM2 71h2v1h-2zM9 71h2v1h-2zM12 71h3v1h-3zM17 71h35v1h-35zM69 71h8v1h-8zM78 71h1v1h-1zM81 71h1v1h-1zM9 72h2v1h-2zM12 72h39v1h-39zM69 72h8v1h-8zM79 72h1v1h-1zM6 73h2v1h-2zM10 73h38v1h-38zM69 73h9v1h-9zM5 74h2v1h-2zM8 74h1v1h-1zM10 74h34v1h-34zM69 74h10v1h-10zM7 75h1v1h-1zM9 75h25v1h-25zM69 75h9v1h-9zM88 75h1v1h-1zM10 76h15v1h-15zM69 76h8v1h-8zM78 76h1v1h-1zM6 77h6v1h-6zM13 77h5v1h-5zM69 77h9v1h-9zM6 78h10v1h-10zM69 78h8v1h-8zM78 78h1v1h-1zM6 79h8v1h-8zM68 79h9v1h-9zM5 80h1v1h-1zM7 80h6v1h-6zM68 80h10v1h-10zM87 80h1v1h-1zM3 81h1v1h-1zM5 81h7v1h-7zM68 81h9v1h-9zM81 81h1v1h-1zM1 82h1v1h-1zM5 82h6v1h-6zM68 82h7v1h-7zM76 82h1v1h-1zM81 82h1v1h-1zM1 83h1v1h-1zM3 83h8v1h-8zM68 83h8v1h-8zM2 84h9v1h-9zM67 84h9v1h-9zM2 85h2v1h-2zM5 85h6v1h-6zM67 85h9v1h-9zM2 86h9v1h-9zM66 86h10v1h-10zM2 87h9v1h-9zM66 87h9v1h-9zM3 88h8v1h-8zM65 88h9v1h-9zM76 88h1v1h-1zM2 89h9v1h-9zM65 89h8v1h-8zM74 89h1v1h-1zM79 89h1v1h-1zM83 89h1v1h-1zM2 90h10v1h-10zM64 90h8v1h-8zM73 90h2v1h-2zM78 90h1v1h-1zM2 91h11v1h-11zM61 91h14v1h-14zM1 92h12v1h-12zM55 92h17v1h-17zM74 92h1v1h-1zM1 93h1v1h-1zM3 93h11v1h-11zM48 93h25v1h-25zM1 94h70v1h-70zM3 95h68v1h-68zM1 96h71v1h-71zM83 96h1v1h-1zM1 97h68v1h-68zM70 97h2v1h-2zM1 98h69v1h-69zM2 99h68v1h-68z" fill="#000"/>
<path d="M31.9 95.1 20.4 95.1 20.1 94.8 16.9 94.9 16.6 94.6 14.4 94.6 13.6 94.1 13.4 94.1 13.2 93.9 13.2 93.6 12.6 93.1 12.6 92.9 12.1 92.4 12.1 92.1 11.4 90.9 11.4 90.6 10.9 90.1 10.6 89.4 10.4 89.1 10.4 86.4 10.6 86.1 10.7 84.6 10.9 84.4 10.9 83.4 11.2 83.1 11.2 82.6 11.4 82.4 11.4 82.1 12.4 81.2 12.6 81.2 13.9 80.2 14.1 80.2 14.9 79.4 15.1 79.4 16.4 78.4 16.6 78.4 16.9 78.2 17.4 78.2 17.6 77.9 18.9 77.9 19.1 77.7 21.1 77.7 21.4 77.4 23.1 77.4 23.4 77.2 25.1 77.2 25.4 76.9 27.1 76.9 27.4 76.7 29.4 76.7 29.6 76.4 31.4 76.4 31.6 76.2 33.9 76.2 34.1 75.9 36.4 75.9 36.6 75.7 38.9 75.7 39.1 75.4 41.1 75.4 41.4 75.2 43.6 75.2 43.9 74.9 45.9 74.9 46.1 74.7 46.9 74.7 47.6 74.2 48.1 74.2 48.9 73.7 49.4 73.7 50.1 73.2 50.6 73.2 51.4 72.7 51.6 72.7 52.1 72.2 52.4 72.1 52.4 71.9 52.9 71.4 52.9 71.1 53.2 70.9 53.4 70.1 53.7 69.9 53.7 69.6 53.9 69.4 54.4 69.4 54.6 69.2 55.4 69.2 55.6 68.9 56.4 68.9 56.6 68.7 57.1 68.7 57.4 68.9 57.9 68.9 58.4 69.4 58.6 69.4 58.9 69.7 59.4 69.7 59.6 69.9 61.1 69.9 61.4 69.7 61.9 69.7 62.1 69.4 62.4 69.4 63.9 67.9 63.9 67.6 64.2 67.4 64.2 66.9 64.4 66.6 64.4 65.1 64.2 64.9 64.2 64.4 63.9 64.1 63.9 63.9 62.4 62.3 62.1 62.3 61.9 62.1 61.4 62.1 61.1 61.8 59.6 61.8 59.4 62.1 58.9 62.1 58.6 62.3 58.4 62.3 57.6 63.1 57.3 63.1 57.3 63.4 56.9 63.8 56.6 63.8 55.9 64.3 54.9 64.3 54.6 64.6 53.9 64.6 53.7 64.4 53.7 63.9 53.4 63.6 53.4 63.4 52.6 62.6 52.4 62.6 52.1 62.3 51.6 62.3 51.4 62.1 50.9 62.1 50.6 61.8 50.1 61.8 49.9 61.6 49.6 61.6 49.4 61.3 48.9 61.3 48.6 61.1 48.1 61.1 47.9 60.8 47.6 60.8 47.4 60.6 47.1 60.6 46.9 60.3 46.6 60.3 46.4 60.1 46.1 60.1 45.9 59.8 45.6 59.8 45.4 59.6 45.1 59.6 44.9 59.3 44.6 59.3 44.4 59.1 44.1 59.1 43.9 58.8 43.6 58.8 43.4 58.6 42.6 58.3 41.4 57.1 41.4 56.9 41.2 56.6 41.2 55.9 40.9 55.6 40.9 54.9 40.7 54.6 40.7 53.6 40.4 53.4 40.4 52.4 40.2 52.1 40.2 51.4 39.9 51.1 39.9 49.9 39.7 49.6 39.7 49.1 39.9 48.9 39.9 47.6 40.2 47.4 40.2 46.6 40.4 46.4 40.4 45.4 40.7 45.1 40.7 44.1 40.9 43.9 40.9 43.1 41.2 42.9 41.2 42.1 41.4 41.9 41.4 41.4 41.7 41.1 41.7 40.6 41.9 40.4 41.9 40.1 42.2 39.9 42.2 39.6 42.9 38.4 42.9 38.1 43.2 37.9 43.2 37.6 43.4 37.4 43.4 37.1 44.2 35.9 44.2 35.6 44.4 35.4 44.4 35.1 44.7 34.9 44.7 34.6 44.9 34.4 44.9 34.1 45.4 33.6 45.4 33.4 45.9 32.9 45.9 32.6 46.6 31.9 46.6 31.6 47.1 31.1 47.1 30.9 48.4 29.6 48.6 29.6 48.9 29.4 49.4 29.4 49.6 29.1 50.4 29.1 50.6 28.9 51.1 28.9 51.4 28.6 51.9 28.6 52.1 28.4 52.6 28.4 52.9 28.1 53.4 28.1 53.6 27.9 54.4 27.9 54.6 27.6 55.1 27.6 55.4 27.4 56.1 27.4 56.4 27.1 65.6 27.1 65.9 27.4 66.1 27.4 66.4 27.6 67.1 27.9 68.6 29.4 68.9 29.4 70.1 30.6 70.9 31.4 70.9 31.6 71.1 31.9 71.1 32.6 71.4 32.9 71.4 35.4 71.6 35.6 71.6 38.1 71.9 38.4 71.9 41.6 71.6 41.9 71.6 45.9 71.3 46.1 71.3 50.4 71.1 50.6 71.1 54.6 70.8 54.9 70.8 59.1 70.6 59.4 70.6 63.6 70.3 63.9 70.3 67.6 70.1 67.9 70.1 71.4 69.8 71.6 69.8 75.1 69.6 75.4 69.6 77.6 69.3 77.9 69.3 78.9 69.1 79.1 69.1 79.9 68.8 80.1 68.8 81.1 68.6 81.4 68.6 82.4 68.3 82.6 68.3 83.4 68.1 83.6 68.1 84.4 67.8 84.6 67.8 85.1 67.6 85.4 67.6 85.9 67.3 86.1 67.3 86.4 67.1 86.6 67.1 86.9 66.8 87.1 66.8 87.4 66.1 88.6 66.1 88.9 65.8 89.1 65.8 89.4 65.6 89.6 65.6 89.9 65.3 90.1 65.3 90.4 65.1 90.6 65.1 90.9 64.1 91.8 63.9 91.8 63.6 92.1 62.9 92.1 62.6 92.3 61.4 92.3 61.1 92.6 59.6 92.6 59.4 92.8 58.1 92.8 57.9 93.1 56.4 93.1 56.1 93.3 54.9 93.3 54.6 93.6 53.1 93.6 52.9 93.8 51.6 93.8 51.4 94.1 49.9 94.1 49.6 94.3 48.4 94.3 48.1 94.6 40.1 94.6 39.9 94.8 32.1 94.8 31.9 95.1M30.1 93.9 22.6 93.9 20.1 93.7 17.4 93.9 16.6 93.7 14.9 93.6 14.1 93.2 13 91.9 11.8 89.9 11.3 88.6 11.4 86.9 11.6 86.4 11.7 85.1 11.9 83.9 12.5 82.6 12.9 82.2 14.9 81.1 16.9 79.8 18.1 79.2 19.6 79 21.6 79 25.9 78.3 29.4 78.3 32.4 77.4 36.1 77.7 37.9 77.3 39.6 77.1 41.4 77.1 43.9 76.9 48.1 75.6 50.1 75.1 53.4 73.7 54.7 72.9 55.5 71.6 56.4 71.1 56.9 71 57.9 71.6 58.9 71.9 60.1 72.1 61.6 71.9 62.6 71.5 63.4 70.9 64.9 68.6 65.5 66.6 65.5 64.9 65.2 63.9 64.9 63 63.6 61.2 63.1 60.9 62.4 60.6 61.4 60.4 58.6 60.2 57.1 59.8 56.6 60 55.8 61.1 55.4 61.9 55.1 62 53.9 60.7 51.6 59.9 46.6 57.7 44.6 56.7 43.7 55.9 43.4 53.1 42.8 51.9 41.7 50.4 41.4 49.4 41.4 48.4 41.9 46.6 43 41.1 46 34.6 47.4 32.4 48 31.1 48.6 30.5 53.9 28.5 54.6 28.4 56.6 27.8 62.9 27.8 65.4 28 66.9 28.9 68.1 30.1 68.6 30.4 69.8 31.6 70.1 32.2 70.5 33.4 70.5 35.4 70.7 36.1 70.7 38.1 70.9 38.9 70.9 40.9 70.7 41.9 70.5 45.4 70.2 46.1 69.4 50.6 69.2 54.6 69.6 56.9 69.6 58.6 69.4 59.4 69.3 63.1 69.1 63.9 69.2 67.1 69 67.9 68.9 70.6 68.5 72.1 68.6 74.6 68.2 76.9 67.9 77.6 67.4 79.6 67.2 81.9 66.8 83.9 66.3 85.4 65.1 87.9 63.6 90.1 63.1 90.4 60.4 91.1 57.9 91.3 54.6 91.9 50.9 92.8 49.6 92.9 47.6 93.2 40.1 93.2 39.1 93.4 36.4 93.6 32.1 93.6 31.4 93.8 30.1 93.9M17.9 93.1 15.1 92.8 14.6 92.6 13.3 91.1 12.3 89.4 12 88.4 12.1 87.1 12.5 85.4 12.9 84.1 13.4 83.1 15.4 82.1 17.6 80.6 18.4 80.3 19.9 80.1 21.6 80.4 22.9 80.3 26.1 79.5 29.9 79.5 32.6 78.9 36.1 79 40.1 78.5 44.6 78.4 46 78.1 48.9 77.2 52.6 77.3 53.4 77.1 55.4 76 57.1 75.6 58.1 75.7 60.1 76.7 61.4 76.9 62.1 76.6 62.9 75.8 63.6 74.6 64.3 72.9 64.8 72.1 65.2 70.9 66 69.4 66.3 68.4 66.6 67.1 66.5 64.9 66.3 63.6 65.9 62.4 64.9 60.1 64.1 59.1 62.6 57.8 61.9 57.3 61.1 56.9 58.6 56.5 56.6 55.8 55.6 55.6 54.8 55.9 53.4 57.3 52.6 57.4 48.4 55.6 47.8 54.9 48 53.4 47.8 52.9 45.1 50.9 44.5 50.1 44.1 49.4 43.9 48.6 43.9 45.1 44.4 41.4 45.7 37.6 46.8 35.1 48.6 31.6 49.1 31.1 54.1 29.1 56.9 28.4 63.9 28.6 65.1 28.8 66.4 29.6 68.6 31.6 69.1 32.1 69.3 32.6 69.6 33.6 69.9 36.4 69.8 38.4 70 39.1 70 40.9 69.4 44.9 69 46.1 67.9 51.1 67.9 54.6 68.2 57.4 68 59.1 68.3 61.1 68.4 62.6 68.2 63.6 68.1 66.7 67.8 67.9 67.6 70.4 67.2 71.6 67.2 74.1 66.8 76.6 66.3 77.4 65.5 79.6 64.7 84.9 63.9 87.1 62.7 89.1 61.6 89.7 60.4 89.9 56.1 90.2 54.4 90.6 50.6 91.6 47.1 92.1 42.4 92.1 39.6 92 35.1 92.5 31.9 92.4 26.9 92.5 22.6 92.9 20.1 92.8 17.9 93.1M58.4 52.4 57.6 52.3 55.9 51 53.6 50.1 52.4 50 50.9 50.6 50.1 50.4 49.5 49.9 48.6 48.4 46.9 46.8 46 45.4 45.6 43.6 45.6 41.6 46.4 38.6 47.4 35.6 49.3 31.9 49.6 31.6 53.6 29.9 57.1 29 62.1 29 64.9 29.4 66 30.1 68.3 32.4 68.5 32.6 68.9 33.9 69.1 36.6 69 38.4 69.1 40.6 68.7 43.1 67.9 45.9 67.4 48.4 66.4 50.5 65.9 51.1 65.4 51.4 64.6 51.4 62.4 50.8 61.1 50.8 60.1 51.1 58.9 52.2 58.4 52.4M18.9 92.4 17.6 92.5 15 92.1 13.9 90.9 12.9 89.1 12.6 88.4 12.7 87.4 13.2 85.6 13.9 83.9 17.4 81.8 18.6 81.3 20.1 81.1 23.1 81.4 26.6 80.7 30.1 80.7 32.9 80.1 35.6 80.2 42.4 79.8 44.9 80 48.1 79.5 54.4 80 56.6 79.9 58.4 80.3 59.4 80.9 61.9 83.6 62.4 84.4 62.6 85.1 62.7 86.1 62.4 87.1 61.9 87.8 61.3 88.4 59.9 88.8 57.1 88.9 55.6 89.2 50.1 90.5 47.1 90.9 42.9 91.2 39.4 90.9 34.4 91.3 26.6 91.1 22.4 92 18.9 92.4M58.1 47.9 56.6 48 55.1 47.7 51.9 46.4 51.1 45.9 50.4 45.1 49.1 43.2 47.9 41.8 47.5 40.9 47.3 39.6 47.3 38.4 48.1 36.1 49.9 32.3 53.9 30.5 57.4 29.6 61.6 29.6 64.6 30 65.6 30.6 67.3 32.4 67.9 33.1 68.1 33.9 68.3 36.6 68.3 39.6 68.2 40.6 67.6 43.3 65.6 45.9 64.9 46.6 64.1 47 62.4 47.6 59.9 47.6 58.1 47.9M18.6 91.9 17.9 92 15.4 91.7 14.6 91 14.1 90.3 13.4 88.9 13.2 88.1 13.2 87.4 13.8 85.6 14.6 84.2 16.9 82.8 18.6 82.1 20.4 82.2 23.1 83.2 23.9 83.3 26.4 82.9 29.6 82.8 33.1 81.9 39.9 82.2 42.4 81.9 44.6 82 46.6 81.6 47.4 81.6 48.6 82 50.9 83.1 54.4 84.5 56.9 84.5 57.5 84.9 57.7 85.4 57.6 86 57.1 86.4 56.4 86.6 54.6 86.7 53.2 87.6 52.4 88 50.9 88.3 47.4 88.5 43.1 89.9 41.4 89.9 38.6 89 35.4 89.4 32.4 89.3 29.6 89 26.9 88.9 25.9 89.1 25.1 89.4 22.8 91.1 21.6 91.4 18.6 91.9M57.6 45.6 56.4 45.6 53.9 44.7 53.1 44.4 52.4 43.6 49.9 39.6 49.5 38.9 49.2 36.9 49.4 34.9 50.3 33.1 50.6 32.8 53.9 31.1 56.4 30.4 57.4 30.1 60.9 30.1 62.9 30.3 64.6 30.8 65.1 31.1 66.9 32.9 67.2 33.4 67.4 34.1 67.6 37.5 67.2 39.4 66.4 41.6 65.9 42.4 65.1 43.3 64.1 44.1 63.4 44.6 62.4 44.9 59.6 45 57.6 45.6M18.6 91.4 17.9 91.5 15.5 91.1 14.8 90.4 14.2 89.4 13.8 88.4 13.7 87.6 14.3 85.9 14.9 84.8 16.1 84.1 17.4 83.6 18.6 83.4 19.6 83.4 20.6 83.7 21.6 84.4 23.6 86.4 24 87.1 23.7 87.9 23.2 88.9 21.8 90.4 21 90.9 18.6 91.4M58.1 42.4 56.6 42.5 55.4 42.1 53.9 41.3 52.8 40.1 51.9 38.3 51.1 36.1 51.2 34.9 51.8 33.1 52.3 32.6 54.1 31.6 57.4 30.7 61.1 30.7 63.8 31.1 65 32.9 65.8 35.4 66 37.1 65.6 38.7 64.5 40.4 63.4 41.3 62.1 41.7 58.1 42.4M18.9 90.9 17.9 91 15.9 90.7 15.2 90.1 14.6 89.1 14.2 87.9 14.6 86.3 15.3 85.6 16.1 85.1 17.9 84.6 19.4 84.8 20.4 85.4 21.3 86.6 21.6 87.9 21.5 88.6 21.2 89.1 20.3 90.1 18.9 90.9M57.9 39.2 56.1 39.1 55.5 38.9 54.9 38.4 53.9 36.4 53.6 35.6 53.5 34.9 53.8 33.9 54.3 33.1 54.9 32.6 57.3 31.6 59.6 31.2 60.6 31.3 61.4 31.6 62.2 32.1 62.6 33 63.2 36.4 63.1 37.2 62.6 37.9 61.9 38.3 57.9 39.2M17.9 90.1 16.9 90.2 15.9 89.8 15.2 89.1 15 88.4 15.1 87.6 15.6 86.8 16.6 86.1 17.6 85.9 18.6 86 19.3 86.4 19.8 87.1 20 87.9 19.8 88.6 19.4 89.3 18.6 89.8 17.9 90.1" fill="none" stroke="#111" stroke-width="0.6"/>
</g>
<g transform="translate(159.2,516)">
<path d="M52 19h1v1h-1zM54 19h1v1h-1zM54 20h1v1h-1zM56 20h1v1h-1zM58 20h1v1h-1zM62 20h1v1h-1zM66 20h1v1h-1zM72 20h2v1h-2zM90 20h1v1h-1zM52 21h1v1h-1zM60 21h2v1h-2zM63 21h1v1h-1zM65 21h1v1h-1zM69 21h3v1h-3zM54 22h1v1h-1zM57 22h17v1h-17zM76 22h1v1h-1zM48 23h1v1h-1zM52 23h3v1h-3zM57 23h13v1h-13zM71 23h6v1h-6zM78 23h1v1h-1zM22 24h1v1h-1zM44 24h1v1h-1zM49 24h1v1h-1zM52 24h18v1h-18zM71 24h4v1h-4zM76 24h2v1h-2zM24 25h1v1h-1zM46 25h34v1h-34zM30 26h2v1h-2zM41 26h1v1h-1zM44 26h4v1h-4zM49 26h11v1h-11zM71 26h8v1h-8zM29 27h1v1h-1zM41 27h3v1h-3zM45 27h12v1h-12zM73 27h8v1h-8zM20 28h1v1h-1zM24 28h1v1h-1zM34 28h2v1h-2zM41 28h13v1h-13zM73 28h7v1h-7zM81 28h1v1h-1zM40 29h1v1h-1zM42 29h10v1h-10zM74 29h8v1h-8zM16 30h1v1h-1zM34 30h2v1h-2zM38 30h1v1h-1zM41 30h9v1h-9zM75 30h5v1h-5zM84 30h1v1h-1zM16 31h1v1h-1zM18 31h1v1h-1zM28 31h2v1h-2zM39 31h10v1h-10zM75 31h8v1h-8zM86 31h1v1h-1zM17 32h1v1h-1zM24 32h1v1h-1zM33 32h1v1h-1zM39 32h9v1h-9zM75 32h5v1h-5zM81 32h1v1h-1zM18 33h2v1h-2zM21 33h1v1h-1zM37 33h10v1h-10zM76 33h4v1h-4zM81 33h1v1h-1zM83 33h1v1h-1zM28 34h1v1h-1zM30 34h1v1h-1zM33 34h2v1h-2zM37 34h9v1h-9zM76 34h7v1h-7zM84 34h1v1h-1zM14 35h1v1h-1zM17 35h1v1h-1zM23 35h1v1h-1zM29 35h1v1h-1zM35 35h1v1h-1zM37 35h8v1h-8zM76 35h7v1h-7zM12 36h1v1h-1zM19 36h1v1h-1zM27 36h1v1h-1zM34 36h1v1h-1zM37 36h8v1h-8zM76 36h5v1h-5zM82 36h1v1h-1zM85 36h2v1h-2zM10 37h2v1h-2zM27 37h2v1h-2zM31 37h1v1h-1zM34 37h1v1h-1zM36 37h8v1h-8zM76 37h5v1h-5zM17 38h1v1h-1zM22 38h1v1h-1zM29 38h2v1h-2zM33 38h4v1h-4zM38 38h6v1h-6zM76 38h9v1h-9zM19 39h2v1h-2zM29 39h1v1h-1zM31 39h1v1h-1zM35 39h8v1h-8zM76 39h6v1h-6zM83 39h1v1h-1zM13 40h1v1h-1zM30 40h3v1h-3zM35 40h2v1h-2zM38 40h5v1h-5zM76 40h7v1h-7zM14 41h1v1h-1zM21 41h1v1h-1zM32 41h1v1h-1zM34 41h9v1h-9zM76 41h8v1h-8zM11 42h1v1h-1zM32 42h1v1h-1zM36 42h7v1h-7zM76 42h7v1h-7zM8 43h1v1h-1zM14 43h1v1h-1zM18 43h1v1h-1zM22 43h1v1h-1zM25 43h1v1h-1zM31 43h1v1h-1zM33 43h1v1h-1zM36 43h7v1h-7zM76 43h8v1h-8zM9 44h1v1h-1zM15 44h1v1h-1zM22 44h1v1h-1zM31 44h3v1h-3zM35 44h8v1h-8zM76 44h8v1h-8zM4 45h1v1h-1zM17 45h1v1h-1zM26 45h3v1h-3zM35 45h2v1h-2zM38 45h5v1h-5zM76 45h6v1h-6zM28 46h2v1h-2zM31 46h1v1h-1zM34 46h2v1h-2zM37 46h1v1h-1zM39 46h4v1h-4zM76 46h7v1h-7zM22 47h1v1h-1zM24 47h1v1h-1zM26 47h9v1h-9zM36 47h8v1h-8zM76 47h8v1h-8zM11 48h1v1h-1zM20 48h2v1h-2zM25 48h2v1h-2zM28 48h1v1h-1zM30 48h1v1h-1zM34 48h10v1h-10zM76 48h4v1h-4zM81 48h2v1h-2zM9 49h2v1h-2zM20 49h1v1h-1zM23 49h1v1h-1zM26 49h3v1h-3zM31 49h1v1h-1zM33 49h3v1h-3zM37 49h8v1h-8zM76 49h7v1h-7zM21 50h1v1h-1zM23 50h2v1h-2zM28 50h3v1h-3zM32 50h5v1h-5zM38 50h7v1h-7zM76 50h7v1h-7zM5 51h1v1h-1zM11 51h1v1h-1zM13 51h1v1h-1zM20 51h2v1h-2zM24 51h1v1h-1zM27 51h3v1h-3zM31 51h1v1h-1zM33 51h1v1h-1zM35 51h11v1h-11zM76 51h7v1h-7zM16 52h1v1h-1zM19 52h1v1h-1zM21 52h1v1h-1zM26 52h2v1h-2zM29 52h2v1h-2zM32 52h15v1h-15zM76 52h7v1h-7zM22 53h1v1h-1zM24 53h1v1h-1zM27 53h1v1h-1zM32 53h16v1h-16zM76 53h8v1h-8zM87 53h1v1h-1zM7 54h2v1h-2zM19 54h1v1h-1zM21 54h5v1h-5zM28 54h1v1h-1zM31 54h18v1h-18zM76 54h9v1h-9zM14 55h1v1h-1zM18 55h1v1h-1zM20 55h3v1h-3zM25 55h1v1h-1zM27 55h1v1h-1zM30 55h20v1h-20zM76 55h6v1h-6zM17 56h1v1h-1zM23 56h2v1h-2zM27 56h1v1h-1zM31 56h19v1h-19zM75 56h7v1h-7zM83 56h2v1h-2zM3 57h1v1h-1zM13 57h1v1h-1zM15 57h1v1h-1zM18 57h1v1h-1zM20 57h2v1h-2zM24 57h1v1h-1zM26 57h1v1h-1zM28 57h2v1h-2zM32 57h19v1h-19zM75 57h7v1h-7zM10 58h1v1h-1zM17 58h2v1h-2zM20 58h1v1h-1zM24 58h3v1h-3zM29 58h22v1h-22zM75 58h9v1h-9zM8 59h1v1h-1zM16 59h1v1h-1zM20 59h2v1h-2zM23 59h1v1h-1zM25 59h26v1h-26zM75 59h6v1h-6zM6 60h1v1h-1zM15 60h1v1h-1zM18 60h1v1h-1zM20 60h4v1h-4zM26 60h26v1h-26zM75 60h8v1h-8zM85 60h1v1h-1zM5 61h1v1h-1zM13 61h1v1h-1zM17 61h1v1h-1zM19 61h1v1h-1zM21 61h2v1h-2zM25 61h1v1h-1zM27 61h25v1h-25zM75 61h7v1h-7zM11 62h3v1h-3zM15 62h1v1h-1zM17 62h1v1h-1zM19 62h1v1h-1zM21 62h1v1h-1zM25 62h3v1h-3zM29 62h23v1h-23zM75 62h7v1h-7zM83 62h1v1h-1zM8 63h2v1h-2zM18 63h1v1h-1zM20 63h4v1h-4zM26 63h26v1h-26zM74 63h9v1h-9zM9 64h1v1h-1zM13 64h1v1h-1zM17 64h4v1h-4zM23 64h1v1h-1zM25 64h27v1h-27zM74 64h8v1h-8zM83 64h1v1h-1zM8 65h2v1h-2zM11 65h1v1h-1zM13 65h4v1h-4zM20 65h32v1h-32zM74 65h8v1h-8zM4 66h1v1h-1zM10 66h1v1h-1zM16 66h1v1h-1zM18 66h2v1h-2zM21 66h31v1h-31zM74 66h7v1h-7zM4 67h1v1h-1zM11 67h3v1h-3zM15 67h1v1h-1zM17 67h1v1h-1zM20 67h31v1h-31zM74 67h7v1h-7zM82 67h1v1h-1zM5 68h3v1h-3zM10 68h2v1h-2zM13 68h1v1h-1zM16 68h1v1h-1zM18 68h33v1h-33zM74 68h7v1h-7zM4 69h1v1h-1zM10 69h1v1h-1zM13 69h3v1h-3zM17 69h34v1h-34zM73 69h8v1h-8zM14 70h1v1h-1zM17 70h32v1h-32zM73 70h7v1h-7zM82 70h1v1h-1zM9 71h1v1h-1zM13 71h1v1h-1zM15 71h32v1h-32zM73 71h8v1h-8zM8 72h1v1h-1zM10 72h34v1h-34zM73 72h8v1h-8zM85 72h1v1h-1zM9 73h1v1h-1zM11 73h23v1h-23zM73 73h7v1h-7zM81 73h1v1h-1zM84 73h1v1h-1zM3 74h2v1h-2zM6 74h18v1h-18zM72 74h7v1h-7zM80 74h1v1h-1zM3 75h1v1h-1zM7 75h11v1h-11zM72 75h8v1h-8zM4 76h1v1h-1zM7 76h8v1h-8zM72 76h9v1h-9zM1 77h1v1h-1zM4 77h1v1h-1zM7 77h7v1h-7zM71 77h9v1h-9zM7 78h6v1h-6zM71 78h10v1h-10zM4 79h1v1h-1zM6 79h6v1h-6zM71 79h9v1h-9zM82 79h1v1h-1zM2 80h1v1h-1zM4 80h8v1h-8zM71 80h8v1h-8zM89 80h1v1h-1zM2 81h2v1h-2zM5 81h6v1h-6zM70 81h9v1h-9zM2 82h1v1h-1zM5 82h5v1h-5zM70 82h8v1h-8zM80 82h1v1h-1zM82 82h1v1h-1zM3 83h8v1h-8zM69 83h11v1h-11zM1 84h10v1h-10zM69 84h11v1h-11zM2 85h9v1h-9zM68 85h10v1h-10zM2 86h9v1h-9zM68 86h9v1h-9zM1 87h10v1h-10zM67 87h12v1h-12zM1 88h10v1h-10zM66 88h11v1h-11zM78 88h1v1h-1zM88 88h1v1h-1zM1 89h10v1h-10zM65 89h12v1h-12zM1 90h11v1h-11zM63 90h14v1h-14zM84 90h1v1h-1zM87 90h1v1h-1zM1 91h13v1h-13zM61 91h15v1h-15zM1 92h14v1h-14zM53 92h22v1h-22zM77 92h1v1h-1zM1 93h16v1h-16zM38 93h38v1h-38zM84 93h1v1h-1zM1 94h75v1h-75zM1 95h74v1h-74zM85 95h1v1h-1zM1 96h72v1h-72zM75 96h1v1h-1zM1 97h73v1h-73zM1 98h70v1h-70zM72 98h1v1h-1zM78 98h1v1h-1zM1 99h71v1h-71z" fill="#000"/>
<path d="M37.6 94.6 17.4 94.6 17.1 94.4 16.6 94.4 16.1 93.9 15.4 93.6 15.1 93.4 14.9 93.4 14.4 92.9 13.6 92.6 13.1 92.1 12.9 92.1 12.1 91.6 11.9 91.6 10.9 90.6 10.9 89.9 10.6 89.6 10.6 87.9 10.4 87.6 10.4 85.9 10.1 85.6 10.1 83.9 9.9 83.6 9.9 82.9 10.2 82.6 10.2 82.4 10.7 81.9 10.7 81.6 13.2 78.9 13.2 78.6 14.4 77.4 14.4 77.1 14.9 76.7 15.1 76.7 15.4 76.4 16.4 76.4 16.6 76.2 17.9 76.2 18.1 75.9 19.4 75.9 19.6 75.7 21.1 75.7 21.4 75.4 22.6 75.4 22.9 75.2 24.1 75.2 24.4 74.9 25.6 74.9 25.9 74.7 27.1 74.7 27.4 74.4 30.4 74.4 30.6 74.2 33.6 74.2 33.9 73.9 36.9 73.9 37.1 73.7 40.1 73.7 40.4 73.4 43.4 73.4 44.1 72.9 44.6 72.9 45.4 72.4 45.9 72.4 46.6 71.9 47.1 71.9 48.4 71.2 48.9 71.2 49.6 70.7 50.1 70.7 50.9 69.9 50.9 69.4 51.2 69.1 51.2 68.6 51.4 68.4 51.4 67.9 51.7 67.6 51.7 67.1 51.9 66.9 51.9 66.4 52.2 66.1 52.2 65.6 52.4 65.4 52.4 64.6 52.7 64.4 52.4 64.1 52.4 63.1 52.2 62.9 52.2 62.1 51.9 61.9 51.9 61.4 51.7 61.1 51.7 60.4 51.4 60.1 51.4 59.6 51.2 59.4 51.2 58.6 50.9 58.4 50.9 57.6 50.7 57.4 50.7 57.1 49.9 56.4 49.9 56.1 48.2 54.4 48.2 54.1 46.4 52.4 46.4 52.1 45.2 50.9 45.2 50.6 44.7 49.9 44.7 49.6 44.2 49.1 44.2 48.9 43.7 48.1 43.7 47.9 43.2 47.4 42.9 46.6 42.7 46.4 42.7 45.9 42.4 45.6 42.4 45.1 42.7 44.9 42.7 43.1 42.9 42.9 42.9 41.1 43.2 40.9 43.1 39.1 43.4 38.9 43.4 38.1 43.6 37.9 43.6 37.4 44.4 36.6 44.4 36.4 45.4 35.1 45.4 34.9 46.1 34.1 46.1 33.9 49.9 30.4 50.6 30.1 50.9 29.9 51.1 29.9 52.4 29.1 52.9 29.1 53.1 28.9 53.4 28.9 53.6 28.6 53.9 28.6 54.1 28.4 54.4 28.4 54.6 28.1 54.9 28.1 55.6 27.6 55.9 27.6 56.1 27.4 56.6 27.4 56.9 27.1 57.4 27.1 57.6 26.9 58.1 26.9 58.4 26.6 58.9 26.6 59.1 26.4 59.6 26.4 59.9 26.1 60.4 26.1 60.6 25.9 61.1 25.9 61.4 25.6 61.9 25.6 62.1 25.4 68.1 25.4 68.4 25.6 69.1 25.6 69.4 25.9 70.1 25.9 70.4 26.1 71.1 26.2 71.4 26.4 71.9 26.4 73.1 27.6 73.1 27.9 73.6 28.4 73.8 29.1 74.8 30.4 74.8 30.6 75.3 31.1 75.3 31.6 75.6 31.9 75.6 33.1 75.8 33.4 75.9 36.1 76.1 36.4 76.1 39.1 76.3 39.4 76.3 42.1 76.6 42.4 76.6 45.6 76.3 45.9 76.3 49.1 76.1 49.4 76.1 52.6 75.8 52.9 75.8 56.1 75.6 56.4 75.6 58.9 75.3 59.1 75.3 60.4 75.1 60.6 75.1 61.9 74.8 62.1 74.8 63.6 74.6 63.9 74.6 65.1 74.3 65.4 74.3 66.6 74.1 66.9 74.1 68.4 73.8 68.6 73.8 69.9 73.6 70.1 73.6 71.4 73.3 71.6 73.3 72.6 73.1 72.9 73.1 73.6 72.8 73.9 72.8 74.4 72.6 74.6 72.6 75.1 72.3 75.4 72.3 76.1 72.1 76.4 72.1 76.9 71.8 77.1 71.8 77.9 71.6 78.1 71.6 78.6 71.3 78.9 71.3 79.6 71.1 79.9 71.1 80.4 70.8 80.6 70.8 81.1 70.6 81.4 70.6 82.1 70.3 82.4 70.3 82.6 70.1 82.9 70.1 83.1 69.6 83.9 69.6 84.1 69.1 84.6 69.1 84.9 68.6 85.6 68.6 85.9 68.1 86.4 68.1 86.6 67.6 87.4 67.6 87.6 67.1 88.1 66.8 88.9 65.6 90.1 64.9 90.3 64.4 90.8 64.1 90.8 63.9 91.1 63.6 91.1 62.4 91.8 62.1 91.8 61.6 92.3 61.4 92.3 60.1 93.1 56.6 93.1 56.4 93.3 52.9 93.3 52.6 93.6 49.1 93.6 48.9 93.8 45.4 93.8 45.1 94.1 41.6 94.1 41.4 94.3 37.9 94.3 37.6 94.6M20.9 93.6 17.9 93.7 16.9 93.4 12.1 90.7 11.7 90.1 11.5 89.1 11.4 87.9 11.2 87.1 11.2 85.6 11 85.1 11.1 83.1 11.9 82.1 15.9 78.2 17.4 77.7 20.4 77.2 25.1 77 27.9 77 29.6 76.8 32.4 76.1 34.6 75.8 37.9 75.4 43.9 75.2 45.1 74.8 47.1 73.6 50.9 71.8 52.2 70.4 53.6 65.6 53.8 64.4 52.3 56.9 52.1 56.1 51.4 55.1 49.9 53.6 47.8 51.1 46.6 50 45.5 48.6 44.1 45.4 43.9 43.6 44 43.1 44 41.6 44.2 41.1 44.2 39.6 44.4 38.6 44.8 37.6 46.4 35.3 47.3 34.1 48.3 33.1 48.7 32.9 50.1 31.4 52.6 30 56.4 28.2 60.9 26.7 62.6 26.3 67.6 26.4 69.6 26.9 71.4 27.6 72.4 28.9 73.9 31.6 74.3 32.4 74.5 33.4 74.7 33.9 74.8 36.4 75 36.9 75 39.1 75.2 39.9 75.3 42.4 75.4 42.9 74.4 46.6 74.6 49.6 74.5 50.9 73.7 53.4 73.3 55.6 73.3 61.1 73 62.6 72.4 63.9 71 65.1 70.5 66.1 70.6 67.1 71.8 69.1 71.7 70.6 70.5 75.4 69.6 78.4 69.1 80.9 69 81.6 68.6 83.1 67.4 85.4 65.6 88.1 65.1 88.6 63.4 89.8 61.1 91.2 59.6 91.8 57.1 91.8 55.6 92.1 52.9 92.2 52.1 92.4 49.1 92.5 48.4 92.7 45.4 92.8 44.6 93 41.6 93 40.9 93.2 37.6 93.1 36.9 93.2 33.1 93 30.1 93.4 25.4 93.3 20.9 93.6M20.4 92.9 18.1 93 17.4 92.8 14.4 91.3 12.6 90.2 12.4 89.9 12 86.9 11.8 84.9 12.1 83.4 12.7 82.6 16.1 79.8 16.6 79.6 20.6 78.8 28.4 78.6 33.1 77.6 38.1 76.9 41.4 77 43.6 77.3 45.4 77.1 46.4 76.7 47.9 75.7 48.6 75.4 49.6 75.2 50.9 75.2 51.6 74.9 52.1 74.4 53.4 71.9 53.7 70.9 54.8 64.4 54.2 59.6 53.5 56.1 53.1 55.1 52.5 54.1 49.6 51.1 47.4 48.6 46.7 47.6 45.6 45.4 45.4 44.1 45.3 42.1 45.4 38.9 45.6 38.1 47.1 35.8 48.1 34.6 49.4 33.6 50.6 32.1 52.6 30.8 56.4 29 61.1 27.4 62.9 27 67.4 27.3 69.4 27.8 70.9 28.5 71.5 29.4 73.1 32.6 73.7 34.1 73.9 37.1 73.9 39.1 74.1 40.6 74 43.4 73.5 45.9 73.1 49.9 72 52.1 70 56.9 69.7 57.9 69.4 60.4 68.9 60.9 67.1 61.2 66.8 61.4 66.6 61.9 66.9 64.9 66.5 68.1 67.2 70.4 67.2 70.9 66.9 71.3 65.9 72 65.4 72.5 65 73.1 64.8 73.9 65 74.4 65.9 75.9 66 78.4 66.6 80.9 66.6 81.4 66.1 84.6 65.4 86.1 64.4 87.6 60.4 90.2 59.4 90.6 56.6 90.6 51.6 91.3 48.6 91.2 44.3 91.9 40.6 92.1 33.6 91.9 29.9 92.3 25.9 92.1 20.4 92.9M20.9 92.1 18.4 92.4 17.6 92.2 15.9 91.4 13.1 89.6 12.8 88.9 12.6 86.6 12.7 84.6 13 83.6 13.4 83.2 15 81.9 16.6 80.9 19.1 80.4 20.9 80.2 24.4 80.3 27.4 80.7 28.6 80.7 29.6 80.5 32.1 79.6 33.9 79.3 39.1 79.6 43.4 79.4 46.4 79.9 47.4 79.9 53.1 78.4 54.1 77.9 56.1 76.4 56.2 75.6 55.2 71.6 55 70.4 55.2 67.6 55.8 64.4 55.4 59.9 55.6 57.1 55.4 55.6 55 54.4 54.5 53.6 51.5 51.1 50 49.1 48.6 47.6 48.1 46.9 46.8 43.6 46.6 42.1 46.7 38.9 47 37.9 47.9 36.3 48.8 35.1 50 34.1 51.1 32.8 53.1 31.4 56.1 29.8 61.4 28.1 62.9 27.8 67.1 28.2 69.1 28.8 70.1 29.2 70.6 29.9 72.2 32.9 72.8 34.9 72.8 39.1 73 41.6 72.9 43.6 72.4 47.2 71.9 48.4 70.3 49.6 69.4 51.5 68.9 52.1 67.9 52.7 65 53.6 64.4 54.1 64.4 54.6 64.8 55.6 64.8 56.1 64.6 56.6 63.7 57.6 63.4 58.1 62.7 60.9 62.6 62.9 62.9 65.6 62.5 71.4 62.1 72.5 61 74.1 60.1 76.1 59.4 77.1 59.6 78.4 60 79.4 61.4 80.9 62.6 83.1 63.9 84.6 64 85.4 63.6 86.1 62.2 87.4 60.8 88.4 59.6 89.1 58.9 89.4 56.1 89.5 51.6 90.1 48.6 90.2 44.1 90.8 40.4 91.1 32.9 90.9 26.1 91.1 20.9 92.1M59.6 52.1 58.6 52.1 55.4 51.1 54.4 50.7 53.7 50.1 52.6 48.4 50.5 46.6 50 45.9 48.4 41.9 47.9 39.4 47.9 38.6 48 38.1 48.6 36.9 49.3 35.9 51.7 33.4 53.4 32.1 56.4 30.4 60.9 28.9 63.1 28.5 66.9 29.1 68.1 29.5 69 29.9 69.9 30.8 71.6 34.1 71.9 34.9 72 37.4 71.8 39.1 71.8 41.6 70.7 45.9 70.1 46.6 68.6 47.5 67.1 49 66.6 49.2 64.9 49.3 63.9 49.5 63.1 50 61.1 51.6 59.6 52.1M58.1 69.6 57.6 69.6 57.4 69.4 56.9 68.4 56.6 67.1 56.6 66.1 57.3 63.4 57.7 62.4 58.6 61.5 59.1 61.3 59.6 61.3 60.4 61.8 60.8 62.9 60.7 64.1 60.3 66.9 60.1 67.6 59.6 68.3 58.6 69.3 58.1 69.6M20.1 91.6 18.4 91.8 17.9 91.7 16.1 91 14.9 90.2 13.5 89.1 13.3 86.6 13.5 84.6 14 83.6 15.1 82.8 17.6 82 19.9 81.7 21.4 82 23.9 82.8 25.9 83.1 27.9 83.7 28.6 83.8 29.9 83.4 32.4 81.9 33.6 81.5 35.6 81.6 38.1 82.4 38.9 82.5 39.6 82.4 41.9 81.6 43.6 81.4 44.6 81.6 47.1 82.4 49.1 82.7 50.6 83.3 51.4 83.4 52.6 83 54.6 81.6 55.6 81.5 56.1 81.6 56.7 82.1 58.9 84.8 59.2 85.6 59.1 86.1 58.8 86.6 58.4 87 57.6 87.3 53.4 88.1 50.6 88 48.6 88.8 47.4 89.1 44.1 89.5 41.6 89.5 39.6 89.9 38.6 89.8 36.6 89.2 34.6 89.4 33.6 89.3 32.6 89 30.6 88 29.9 87.9 29.1 88.2 27.6 89.2 25.4 90 24.1 90.6 21.9 91.3 20.1 91.6M60.6 48.9 59.6 48.9 56.4 48.3 55.6 47.8 53 45.4 52.4 44.6 51.6 42.9 50.2 40.6 49.9 39.6 49.9 38.9 50.5 37.1 52.1 34.1 52.5 33.6 53.6 32.8 55.6 31.5 57.1 30.8 61.1 29.5 63.4 29.2 64.2 29.4 64.9 29.7 67.7 31.6 68.4 32.3 70.1 35.9 70.2 36.9 70.2 37.9 69.5 41.4 69 42.4 68.5 43.1 67.5 44.1 65.9 45.4 61.6 48.5 60.6 48.9M19.6 91.2 18.4 91.3 16.9 90.8 15.3 89.9 14.1 88.9 13.9 86.4 14.2 84.9 14.6 84.4 15.6 83.8 16.9 83.3 18.1 83.1 19.4 83.1 20.4 83.4 21.4 83.9 22.3 84.6 23.3 85.6 23.8 86.6 23.9 87.4 23.8 88.1 23.3 89.1 22.8 89.9 22 90.6 19.6 91.2M44.1 85.2 43.6 85.2 43.3 85.1 43.2 84.9 43.3 84.4 43.9 84.1 44.4 84.3 44.6 84.6 44.5 84.9 44.1 85.2M61.4 45.6 60.1 45.8 56.9 45.3 55.9 44.9 54.9 43.9 52.9 40.6 52.6 39.9 52.5 39.1 52.8 37.4 53.3 35.9 53.9 34.9 56 32.1 57.4 31.4 60.9 30.4 61.6 30.4 62.6 30.5 63.4 30.9 65.2 32.6 65.9 33.6 67.7 36.6 67.9 37.4 68 38.1 67.8 39.1 67.3 40.6 66.8 41.6 66.1 42.6 64.9 43.7 61.4 45.6M19.6 90.6 18.4 90.8 16.9 90.3 15.6 89.5 14.6 88.6 14.5 88.4 14.4 86.4 14.8 85.6 15.4 85.1 16.9 84.4 17.9 84.2 18.6 84.3 19.4 84.5 20.1 84.9 21.1 85.9 21.7 87.1 21.8 87.9 21.7 88.6 21.3 89.4 20.9 89.9 19.6 90.6M60.9 42.9 60.1 43 59.1 42.9 58.1 42.6 57.2 42.1 56.7 41.4 55.4 38.9 55.1 38.1 55.1 37.4 55.4 36.4 55.9 35.6 57.6 34.1 59.4 33.2 61.6 32.8 62.6 33.1 63.4 33.8 64.5 36.4 65.4 37.9 65.5 38.6 65.1 39.7 64.1 41 62.5 42.1 60.9 42.9M18.1 89.9 17.1 89.9 16.3 89.4 15.9 89 15.5 88.1 15.5 87.1 15.9 86.4 16.4 85.9 17.1 85.6 18.1 85.6 19 85.9 19.6 86.5 20 87.4 20 88.1 19.7 88.9 19.1 89.5 18.1 89.9" fill="none" stroke="#111" stroke-width="0.6"/>
</g>
<rect x="37" y="516" width="101.30" height="100.50" fill="none" stroke="#000" stroke-width="1.15"/>
<path d="M34.20 524.80H37M34.20 548.00H37M34.20 571.00H37M34.20 596.00H37M34.20 606.00H37M52.50 616.5V619.30M79.50 616.5V619.30M103.50 616.5V619.30M127.00 616.5V619.30M35.40 588.47H37M35.40 584.07H37M35.40 580.95H37M35.40 578.53H37M35.40 576.55H37M35.40 574.87H37M35.40 573.42H37M35.40 572.14H37M35.40 564.08H37M35.40 560.03H37M35.40 557.15H37M35.40 554.92H37M35.40 553.10H37M35.40 551.56H37M35.40 550.23H37M35.40 549.05H37M35.40 541.02H37M35.40 536.93H37M35.40 534.03H37M35.40 531.78H37M35.40 529.95H37M35.40 528.39H37M35.40 527.05H37M35.40 525.86H37M35.40 519.00H37M86.72 616.5V618.10M90.95 616.5V618.10M93.95 616.5V618.10M96.28 616.5V618.10M98.18 616.5V618.10M99.78 616.5V618.10M101.17 616.5V618.10M102.40 616.5V618.10M110.57 616.5V618.10M114.71 616.5V618.10M117.65 616.5V618.10M119.93 616.5V618.10M121.79 616.5V618.10M123.36 616.5V618.10M124.72 616.5V618.10M125.92 616.5V618.10M42.00 616.5V618.10M45.00 616.5V618.10M48.00 616.5V618.10M57.00 616.5V618.10M60.00 616.5V618.10M64.00 616.5V618.10M67.00 616.5V618.10M70.00 616.5V618.10M73.00 616.5V618.10M135.00 616.5V618.10" stroke="#111" stroke-width="0.9" fill="none"/>
<rect x="159.2" y="516" width="101.10" height="100.50" fill="none" stroke="#000" stroke-width="1.15"/>
<path d="M156.40 524.80H159.2M156.40 548.00H159.2M156.40 571.00H159.2M156.40 596.00H159.2M156.40 606.00H159.2M174.70 616.5V619.30M201.70 616.5V619.30M225.70 616.5V619.30M249.20 616.5V619.30M157.60 588.47H159.2M157.60 584.07H159.2M157.60 580.95H159.2M157.60 578.53H159.2M157.60 576.55H159.2M157.60 574.87H159.2M157.60 573.42H159.2M157.60 572.14H159.2M157.60 564.08H159.2M157.60 560.03H159.2M157.60 557.15H159.2M157.60 554.92H159.2M157.60 553.10H159.2M157.60 551.56H159.2M157.60 550.23H159.2M157.60 549.05H159.2M157.60 541.02H159.2M157.60 536.93H159.2M157.60 534.03H159.2M157.60 531.78H159.2M157.60 529.95H159.2M157.60 528.39H159.2M157.60 527.05H159.2M157.60 525.86H159.2M157.60 519.00H159.2M208.92 616.5V618.10M213.15 616.5V618.10M216.15 616.5V618.10M218.48 616.5V618.10M220.38 616.5V618.10M221.98 616.5V618.10M223.37 616.5V618.10M224.60 616.5V618.10M232.77 616.5V618.10M236.91 616.5V618.10M239.85 616.5V618.10M242.13 616.5V618.10M243.99 616.5V618.10M245.56 616.5V618.10M246.92 616.5V618.10M248.12 616.5V618.10M164.20 616.5V618.10M167.20 616.5V618.10M170.20 616.5V618.10M179.20 616.5V618.10M182.20 616.5V618.10M186.20 616.5V618.10M189.20 616.5V618.10M192.20 616.5V618.10M195.20 616.5V618.10M257.20 616.5V618.10" stroke="#111" stroke-width="0.9" fill="none"/>
<text x="30.30" y="49.90" font-size="7.2" text-anchor="end" fill="#2a2a2a" color="#2a2a2a">10<tspan font-size="4.61" dy="-3.02">5</tspan></text>
<text x="30.30" y="72.40" font-size="7.2" text-anchor="end" fill="#2a2a2a" color="#2a2a2a">10<tspan font-size="4.61" dy="-3.02">4</tspan></text>
<text x="30.30" y="96.00" font-size="7.2" text-anchor="end" fill="#2a2a2a" color="#2a2a2a">10<tspan font-size="4.61" dy="-3.02">3</tspan></text>
<text x="30.30" y="120.20" font-size="7.2" text-anchor="end" fill="#2a2a2a" color="#2a2a2a">10<tspan font-size="4.61" dy="-3.02">2</tspan></text>
<text x="30.10" y="129.50" font-size="7.2" text-anchor="end" fill="#2a2a2a" color="#2a2a2a">0</text>
<text x="47.40" y="151.00" font-size="7.2" text-anchor="middle" fill="#2a2a2a" color="#2a2a2a">0</text>
<text x="53.40" y="151.00" font-size="7.2" text-anchor="start" fill="#2a2a2a" color="#2a2a2a">10<tspan font-size="4.61" dy="-3.02">2</tspan></text>
<text x="77.40" y="151.00" font-size="7.2" text-anchor="start" fill="#2a2a2a" color="#2a2a2a">10<tspan font-size="4.61" dy="-3.02">3</tspan></text>
<text x="100.80" y="151.00" font-size="7.2" text-anchor="start" fill="#2a2a2a" color="#2a2a2a">10<tspan font-size="4.61" dy="-3.02">4</tspan></text>
<text x="123.80" y="151.00" font-size="7.2" text-anchor="start" fill="#2a2a2a" color="#2a2a2a">10<tspan font-size="4.61" dy="-3.02">5</tspan></text>
<text x="152.30" y="49.90" font-size="7.2" text-anchor="end" fill="#2a2a2a" color="#2a2a2a">10<tspan font-size="4.61" dy="-3.02">5</tspan></text>
<text x="152.30" y="72.40" font-size="7.2" text-anchor="end" fill="#2a2a2a" color="#2a2a2a">10<tspan font-size="4.61" dy="-3.02">4</tspan></text>
<text x="152.30" y="96.00" font-size="7.2" text-anchor="end" fill="#2a2a2a" color="#2a2a2a">10<tspan font-size="4.61" dy="-3.02">3</tspan></text>
<text x="152.30" y="120.20" font-size="7.2" text-anchor="end" fill="#2a2a2a" color="#2a2a2a">10<tspan font-size="4.61" dy="-3.02">2</tspan></text>
<text x="152.10" y="129.50" font-size="7.2" text-anchor="end" fill="#2a2a2a" color="#2a2a2a">0</text>
<text x="169.40" y="151.00" font-size="7.2" text-anchor="middle" fill="#2a2a2a" color="#2a2a2a">0</text>
<text x="175.40" y="151.00" font-size="7.2" text-anchor="start" fill="#2a2a2a" color="#2a2a2a">10<tspan font-size="4.61" dy="-3.02">2</tspan></text>
<text x="199.40" y="151.00" font-size="7.2" text-anchor="start" fill="#2a2a2a" color="#2a2a2a">10<tspan font-size="4.61" dy="-3.02">3</tspan></text>
<text x="222.80" y="151.00" font-size="7.2" text-anchor="start" fill="#2a2a2a" color="#2a2a2a">10<tspan font-size="4.61" dy="-3.02">4</tspan></text>
<text x="245.80" y="151.00" font-size="7.2" text-anchor="start" fill="#2a2a2a" color="#2a2a2a">10<tspan font-size="4.61" dy="-3.02">5</tspan></text>
<path d="M65.30 82.50 L80.20 79.00 L84.30 87.00 L83.70 99.30 L73.50 101.80 L64.50 99.60 L64.80 88.00 Z" fill="none" stroke="#b8323f" stroke-width="1.0"/>
<path d="M188.10 83.30 L203.60 78.90 L207.20 89.50 L205.80 101.40 L198.70 102.80 L186.70 99.20 L186.30 93.90 Z" fill="none" stroke="#b8323f" stroke-width="1.0"/>
<text x="134.40" y="45.60" font-size="7" text-anchor="end" fill="#2a2a2a" color="#2a2a2a">0.08</text>
<text x="256.80" y="45.60" font-size="7" text-anchor="end" fill="#2a2a2a" color="#2a2a2a">0.06</text>
<text x="10.30" y="16.60" font-size="11" text-anchor="start" fill="#2a2a2a" color="#2a2a2a">A</text>
<text x="148.10" y="14.40" font-size="9" text-anchor="middle" fill="#2a2a2a" color="#2a2a2a">EoP</text>
<line x1="140.80" y1="15.90" x2="155.50" y2="15.90" stroke="#2a2a2a" stroke-width="0.8"/>
<text x="87.50" y="31.00" font-size="9.5" text-anchor="middle" fill="#2a2a2a" color="#2a2a2a">Trib1<tspan font-size="6.60" dy="-4.00">+/+</tspan></text>
<text x="209.50" y="31.00" font-size="9.5" text-anchor="middle" fill="#2a2a2a" color="#2a2a2a">Trib1<tspan font-size="6.60" dy="-4.00">ΔEos</tspan></text>
<line x1="12.20" y1="158.20" x2="12.20" y2="91.70" stroke="#2a2a2a" stroke-width="1.2"/>
<path d="M7.70 93.70 L12.20 83.70 L16.70 93.70 L12.20 91.70 Z" fill="#111"/>
<text x="16.00" y="71.00" font-size="9" text-anchor="middle" fill="#2a2a2a" color="#2a2a2a" transform="rotate(-90 16.0 71)">c-Kit</text>
<line x1="11.60" y1="158.20" x2="197.40" y2="158.20" stroke="#2a2a2a" stroke-width="1.2"/>
<path d="M195.40 154.20 L205.40 158.20 L195.40 162.20 L197.40 158.20 Z" fill="#111"/>
<text x="208.50" y="161.50" font-size="9" text-anchor="start" fill="#2a2a2a" color="#2a2a2a">IL-5R&#945;</text>
<text x="265.00" y="23.80" font-size="11" text-anchor="start" fill="#2a2a2a" color="#2a2a2a">B</text>
<line x1="298.00" y1="32.20" x2="298.00" y2="138.60" stroke="#2a2a2a" stroke-width="1.3"/>
<line x1="297.40" y1="138.00" x2="377.50" y2="138.00" stroke="#2a2a2a" stroke-width="1.3"/>
<line x1="295.00" y1="34.90" x2="298.00" y2="34.90" stroke="#2a2a2a" stroke-width="1"/>
<text x="292.50" y="37.40" font-size="7" text-anchor="end" fill="#2a2a2a" color="#2a2a2a">0.10</text>
<line x1="295.00" y1="55.60" x2="298.00" y2="55.60" stroke="#2a2a2a" stroke-width="1"/>
<text x="292.50" y="58.10" font-size="7" text-anchor="end" fill="#2a2a2a" color="#2a2a2a">0.08</text>
<line x1="295.00" y1="76.30" x2="298.00" y2="76.30" stroke="#2a2a2a" stroke-width="1"/>
<text x="292.50" y="78.80" font-size="7" text-anchor="end" fill="#2a2a2a" color="#2a2a2a">0.06</text>
<line x1="295.00" y1="97.00" x2="298.00" y2="97.00" stroke="#2a2a2a" stroke-width="1"/>
<text x="292.50" y="99.50" font-size="7" text-anchor="end" fill="#2a2a2a" color="#2a2a2a">0.04</text>
<line x1="295.00" y1="117.60" x2="298.00" y2="117.60" stroke="#2a2a2a" stroke-width="1"/>
<text x="292.50" y="120.10" font-size="7" text-anchor="end" fill="#2a2a2a" color="#2a2a2a">0.02</text>
<line x1="295.00" y1="138.00" x2="298.00" y2="138.00" stroke="#2a2a2a" stroke-width="1"/>
<text x="292.50" y="140.50" font-size="7" text-anchor="end" fill="#2a2a2a" color="#2a2a2a">0</text>
<rect x="305.00" y="55.00" width="27.00" height="83.00" fill="#4d6381" stroke="none" stroke-width="1"/>
<line x1="318.50" y1="45.80" x2="318.50" y2="55.00" stroke="#2a2a2a" stroke-width="1"/>
<line x1="313.10" y1="45.80" x2="323.90" y2="45.80" stroke="#2a2a2a" stroke-width="1"/>
<rect x="344.50" y="79.50" width="27.50" height="58.50" fill="#a13543" stroke="none" stroke-width="1"/>
<line x1="358.25" y1="76.30" x2="358.25" y2="79.50" stroke="#2a2a2a" stroke-width="1"/>
<line x1="352.75" y1="76.30" x2="363.75" y2="76.30" stroke="#2a2a2a" stroke-width="1"/>
<line x1="321.30" y1="39.30" x2="359.00" y2="39.30" stroke="#444" stroke-width="1"/>
<text x="340.00" y="34.50" font-size="7" text-anchor="middle" fill="#2a2a2a" color="#2a2a2a">*</text>
<text x="318.00" y="151.00" font-size="8.5" text-anchor="middle" fill="#2a2a2a" color="#2a2a2a">Trib1<tspan font-size="5.40" dy="-3.30">+/+</tspan></text>
<line x1="318.00" y1="138.00" x2="318.00" y2="140.80" stroke="#2a2a2a" stroke-width="1"/>
<text x="357.50" y="151.00" font-size="8.5" text-anchor="middle" fill="#2a2a2a" color="#2a2a2a">Trib1<tspan font-size="5.40" dy="-3.30">ΔEos</tspan></text>
<line x1="357.50" y1="138.00" x2="357.50" y2="140.80" stroke="#2a2a2a" stroke-width="1"/>
<text x="271.50" y="85.00" font-size="8.5" text-anchor="middle" fill="#2a2a2a" color="#2a2a2a" transform="rotate(-90 271.5 85)">BM EoP (%)</text>
<text x="391.50" y="23.80" font-size="11" text-anchor="start" fill="#2a2a2a" color="#2a2a2a">C</text>
<line x1="423.80" y1="35.50" x2="423.80" y2="138.60" stroke="#2a2a2a" stroke-width="1.3"/>
<line x1="423.20" y1="138.00" x2="500.50" y2="138.00" stroke="#2a2a2a" stroke-width="1.3"/>
<line x1="420.80" y1="38.00" x2="423.80" y2="38.00" stroke="#2a2a2a" stroke-width="1"/>
<text x="418.30" y="40.50" font-size="7" text-anchor="end" fill="#2a2a2a" color="#2a2a2a">4</text>
<line x1="420.80" y1="63.00" x2="423.80" y2="63.00" stroke="#2a2a2a" stroke-width="1"/>
<text x="418.30" y="65.50" font-size="7" text-anchor="end" fill="#2a2a2a" color="#2a2a2a">3</text>
<line x1="420.80" y1="88.00" x2="423.80" y2="88.00" stroke="#2a2a2a" stroke-width="1"/>
<text x="418.30" y="90.50" font-size="7" text-anchor="end" fill="#2a2a2a" color="#2a2a2a">2</text>
<line x1="420.80" y1="113.00" x2="423.80" y2="113.00" stroke="#2a2a2a" stroke-width="1"/>
<text x="418.30" y="115.50" font-size="7" text-anchor="end" fill="#2a2a2a" color="#2a2a2a">1</text>
<line x1="420.80" y1="138.00" x2="423.80" y2="138.00" stroke="#2a2a2a" stroke-width="1"/>
<text x="418.30" y="140.50" font-size="7" text-anchor="end" fill="#2a2a2a" color="#2a2a2a">0</text>
<rect x="430.00" y="74.50" width="26.30" height="63.50" fill="#4d6381" stroke="none" stroke-width="1"/>
<line x1="443.15" y1="62.50" x2="443.15" y2="74.50" stroke="#2a2a2a" stroke-width="1"/>
<line x1="437.89" y1="62.50" x2="448.41" y2="62.50" stroke="#2a2a2a" stroke-width="1"/>
<rect x="469.00" y="95.50" width="26.00" height="42.50" fill="#a13543" stroke="none" stroke-width="1"/>
<line x1="482.00" y1="93.30" x2="482.00" y2="95.50" stroke="#2a2a2a" stroke-width="1"/>
<line x1="476.80" y1="93.30" x2="487.20" y2="93.30" stroke="#2a2a2a" stroke-width="1"/>
<line x1="445.50" y1="39.50" x2="482.50" y2="39.50" stroke="#444" stroke-width="1"/>
<text x="463.80" y="35.00" font-size="6.5" text-anchor="middle" fill="#2a2a2a" color="#2a2a2a">ns</text>
<text x="443.00" y="151.00" font-size="8.5" text-anchor="middle" fill="#2a2a2a" color="#2a2a2a">Trib1<tspan font-size="5.40" dy="-3.30">+/+</tspan></text>
<line x1="443.00" y1="138.00" x2="443.00" y2="140.80" stroke="#2a2a2a" stroke-width="1"/>
<text x="482.00" y="151.00" font-size="8.5" text-anchor="middle" fill="#2a2a2a" color="#2a2a2a">Trib1<tspan font-size="5.40" dy="-3.30">ΔEos</tspan></text>
<line x1="482.00" y1="138.00" x2="482.00" y2="140.80" stroke="#2a2a2a" stroke-width="1"/>
<text x="408.50" y="87.50" font-size="8.5" text-anchor="middle" fill="#2a2a2a" color="#2a2a2a" transform="rotate(-90 408.5 87.5)">BM EoP (X10<tspan font-size="5.00" dy="-3.50">4</tspan><tspan dy="3.5">)</tspan></text>
<text x="10.00" y="183.80" font-size="11" text-anchor="start" fill="#2a2a2a" color="#2a2a2a">D</text>
<text x="148.10" y="182.10" font-size="9.0" text-anchor="middle" fill="#2a2a2a" color="#2a2a2a">BM Eosinophils</text>
<line x1="118.00" y1="183.60" x2="178.30" y2="183.60" stroke="#2a2a2a" stroke-width="0.8"/>
<text x="87.70" y="198.60" font-size="9.5" text-anchor="middle" fill="#2a2a2a" color="#2a2a2a">Trib1<tspan font-size="6.60" dy="-4.00">+/+</tspan></text>
<text x="209.80" y="198.60" font-size="9.5" text-anchor="middle" fill="#2a2a2a" color="#2a2a2a">Trib1<tspan font-size="6.60" dy="-4.00">ΔEos</tspan></text>
<text x="30.30" y="216.50" font-size="7.2" text-anchor="end" fill="#2a2a2a" color="#2a2a2a">10<tspan font-size="4.61" dy="-3.02">5</tspan></text>
<text x="30.30" y="239.50" font-size="7.2" text-anchor="end" fill="#2a2a2a" color="#2a2a2a">10<tspan font-size="4.61" dy="-3.02">4</tspan></text>
<text x="30.30" y="262.60" font-size="7.2" text-anchor="end" fill="#2a2a2a" color="#2a2a2a">10<tspan font-size="4.61" dy="-3.02">3</tspan></text>
<text x="30.30" y="287.00" font-size="7.2" text-anchor="end" fill="#2a2a2a" color="#2a2a2a">10<tspan font-size="4.61" dy="-3.02">2</tspan></text>
<text x="30.10" y="297.40" font-size="7.2" text-anchor="end" fill="#2a2a2a" color="#2a2a2a">0</text>
<text x="47.50" y="319.60" font-size="7.2" text-anchor="middle" fill="#2a2a2a" color="#2a2a2a">0</text>
<text x="53.20" y="319.60" font-size="7.2" text-anchor="start" fill="#2a2a2a" color="#2a2a2a">10<tspan font-size="4.61" dy="-3.02">2</tspan></text>
<text x="77.80" y="319.60" font-size="7.2" text-anchor="start" fill="#2a2a2a" color="#2a2a2a">10<tspan font-size="4.61" dy="-3.02">3</tspan></text>
<text x="101.00" y="319.60" font-size="7.2" text-anchor="start" fill="#2a2a2a" color="#2a2a2a">10<tspan font-size="4.61" dy="-3.02">4</tspan></text>
<text x="124.50" y="319.60" font-size="7.2" text-anchor="start" fill="#2a2a2a" color="#2a2a2a">10<tspan font-size="4.61" dy="-3.02">5</tspan></text>
<text x="152.50" y="216.50" font-size="7.2" text-anchor="end" fill="#2a2a2a" color="#2a2a2a">10<tspan font-size="4.61" dy="-3.02">5</tspan></text>
<text x="152.50" y="239.50" font-size="7.2" text-anchor="end" fill="#2a2a2a" color="#2a2a2a">10<tspan font-size="4.61" dy="-3.02">4</tspan></text>
<text x="152.50" y="262.60" font-size="7.2" text-anchor="end" fill="#2a2a2a" color="#2a2a2a">10<tspan font-size="4.61" dy="-3.02">3</tspan></text>
<text x="152.50" y="287.00" font-size="7.2" text-anchor="end" fill="#2a2a2a" color="#2a2a2a">10<tspan font-size="4.61" dy="-3.02">2</tspan></text>
<text x="152.30" y="297.40" font-size="7.2" text-anchor="end" fill="#2a2a2a" color="#2a2a2a">0</text>
<text x="169.70" y="319.60" font-size="7.2" text-anchor="middle" fill="#2a2a2a" color="#2a2a2a">0</text>
<text x="175.40" y="319.60" font-size="7.2" text-anchor="start" fill="#2a2a2a" color="#2a2a2a">10<tspan font-size="4.61" dy="-3.02">2</tspan></text>
<text x="200.00" y="319.60" font-size="7.2" text-anchor="start" fill="#2a2a2a" color="#2a2a2a">10<tspan font-size="4.61" dy="-3.02">3</tspan></text>
<text x="223.20" y="319.60" font-size="7.2" text-anchor="start" fill="#2a2a2a" color="#2a2a2a">10<tspan font-size="4.61" dy="-3.02">4</tspan></text>
<text x="246.70" y="319.60" font-size="7.2" text-anchor="start" fill="#2a2a2a" color="#2a2a2a">10<tspan font-size="4.61" dy="-3.02">5</tspan></text>
<line x1="76.80" y1="205.00" x2="76.80" y2="304.00" stroke="#c0304a" stroke-width="0.9"/>
<line x1="37.50" y1="264.30" x2="138.00" y2="264.30" stroke="#c0304a" stroke-width="0.9"/>
<line x1="198.80" y1="205.00" x2="198.80" y2="304.00" stroke="#c0304a" stroke-width="0.9"/>
<line x1="159.70" y1="264.30" x2="260.00" y2="264.30" stroke="#c0304a" stroke-width="0.9"/>
<text x="39.50" y="212.30" font-size="7" text-anchor="start" fill="#2a2a2a" color="#2a2a2a">4.9</text>
<text x="135.20" y="212.30" font-size="7" text-anchor="end" fill="#2a2a2a" color="#2a2a2a">1.7</text>
<text x="161.60" y="212.30" font-size="7" text-anchor="start" fill="#2a2a2a" color="#2a2a2a">4.5</text>
<text x="256.80" y="212.30" font-size="7" text-anchor="end" fill="#2a2a2a" color="#2a2a2a">5.7</text>
<line x1="12.30" y1="326.00" x2="12.30" y2="275.70" stroke="#2a2a2a" stroke-width="1.2"/>
<path d="M7.80 277.70 L12.30 267.70 L16.80 277.70 L12.30 275.70 Z" fill="#111"/>
<text x="16.10" y="250.30" font-size="9" text-anchor="middle" fill="#2a2a2a" color="#2a2a2a" transform="rotate(-90 16.1 250.3)">SiglecF</text>
<line x1="11.70" y1="326.00" x2="197.00" y2="326.00" stroke="#2a2a2a" stroke-width="1.2"/>
<path d="M195.00 322.00 L205.00 326.00 L195.00 330.00 L197.00 326.00 Z" fill="#111"/>
<text x="208.40" y="329.30" font-size="9" text-anchor="start" fill="#2a2a2a" color="#2a2a2a" textLength="20.2" lengthAdjust="spacingAndGlyphs">CCR3</text>
<text x="265.50" y="177.00" font-size="11" text-anchor="start" fill="#2a2a2a" color="#2a2a2a">E</text>
<line x1="298.00" y1="197.00" x2="298.00" y2="305.60" stroke="#2a2a2a" stroke-width="1.3"/>
<line x1="297.40" y1="305.00" x2="388.00" y2="305.00" stroke="#2a2a2a" stroke-width="1.3"/>
<line x1="295.00" y1="199.50" x2="298.00" y2="199.50" stroke="#2a2a2a" stroke-width="1"/>
<text x="292.50" y="202.00" font-size="7" text-anchor="end" fill="#2a2a2a" color="#2a2a2a">8</text>
<line x1="295.00" y1="225.90" x2="298.00" y2="225.90" stroke="#2a2a2a" stroke-width="1"/>
<text x="292.50" y="228.40" font-size="7" text-anchor="end" fill="#2a2a2a" color="#2a2a2a">6</text>
<line x1="295.00" y1="252.30" x2="298.00" y2="252.30" stroke="#2a2a2a" stroke-width="1"/>
<text x="292.50" y="254.80" font-size="7" text-anchor="end" fill="#2a2a2a" color="#2a2a2a">4</text>
<line x1="295.00" y1="278.60" x2="298.00" y2="278.60" stroke="#2a2a2a" stroke-width="1"/>
<text x="292.50" y="281.10" font-size="7" text-anchor="end" fill="#2a2a2a" color="#2a2a2a">2</text>
<line x1="295.00" y1="305.00" x2="298.00" y2="305.00" stroke="#2a2a2a" stroke-width="1"/>
<text x="292.50" y="307.50" font-size="7" text-anchor="end" fill="#2a2a2a" color="#2a2a2a">0</text>
<rect x="304.50" y="240.50" width="13.00" height="64.50" fill="#4d6381" stroke="none" stroke-width="1"/>
<line x1="311.00" y1="233.80" x2="311.00" y2="240.50" stroke="#2a2a2a" stroke-width="1"/>
<line x1="308.40" y1="233.80" x2="313.60" y2="233.80" stroke="#2a2a2a" stroke-width="1"/>
<rect x="323.30" y="245.80" width="13.00" height="59.20" fill="#a13543" stroke="none" stroke-width="1"/>
<line x1="329.80" y1="239.50" x2="329.80" y2="245.80" stroke="#2a2a2a" stroke-width="1"/>
<line x1="327.20" y1="239.50" x2="332.40" y2="239.50" stroke="#2a2a2a" stroke-width="1"/>
<rect x="349.30" y="282.50" width="12.70" height="22.50" fill="#4d6381" stroke="none" stroke-width="1"/>
<line x1="355.65" y1="280.80" x2="355.65" y2="282.50" stroke="#2a2a2a" stroke-width="1"/>
<line x1="353.11" y1="280.80" x2="358.19" y2="280.80" stroke="#2a2a2a" stroke-width="1"/>
<rect x="368.00" y="230.50" width="13.00" height="74.50" fill="#a13543" stroke="none" stroke-width="1"/>
<line x1="374.50" y1="222.00" x2="374.50" y2="230.50" stroke="#2a2a2a" stroke-width="1"/>
<line x1="371.90" y1="222.00" x2="377.10" y2="222.00" stroke="#2a2a2a" stroke-width="1"/>
<line x1="304.50" y1="211.30" x2="333.00" y2="211.30" stroke="#444" stroke-width="1"/>
<text x="318.80" y="207.00" font-size="6.5" text-anchor="middle" fill="#2a2a2a" color="#2a2a2a">ns</text>
<line x1="349.50" y1="211.30" x2="378.80" y2="211.30" stroke="#444" stroke-width="1"/>
<text x="364.00" y="206.80" font-size="6.5" text-anchor="middle" fill="#2a2a2a" color="#2a2a2a">****</text>
<text x="320.40" y="318.30" font-size="7.6" text-anchor="middle" fill="#2a2a2a" color="#2a2a2a" textLength="19.4" lengthAdjust="spacingAndGlyphs">CCR3<tspan font-size="5.20" dy="-3.00">-</tspan></text>
<line x1="320.40" y1="305.00" x2="320.40" y2="307.80" stroke="#2a2a2a" stroke-width="1"/>
<text x="364.80" y="318.30" font-size="7.6" text-anchor="middle" fill="#2a2a2a" color="#2a2a2a" textLength="19.4" lengthAdjust="spacingAndGlyphs">CCR3<tspan font-size="5.20" dy="-3.00">+</tspan></text>
<line x1="364.80" y1="305.00" x2="364.80" y2="307.80" stroke="#2a2a2a" stroke-width="1"/>
<text x="282.20" y="251.30" font-size="8.6" text-anchor="middle" fill="#2a2a2a" color="#2a2a2a" transform="rotate(-90 282.2 251.3)">BM Eos (%)</text>
<text x="391.50" y="177.00" font-size="11" text-anchor="start" fill="#2a2a2a" color="#2a2a2a">F</text>
<line x1="423.80" y1="197.50" x2="423.80" y2="305.60" stroke="#2a2a2a" stroke-width="1.3"/>
<line x1="423.20" y1="305.00" x2="513.80" y2="305.00" stroke="#2a2a2a" stroke-width="1.3"/>
<line x1="420.80" y1="199.30" x2="423.80" y2="199.30" stroke="#2a2a2a" stroke-width="1"/>
<text x="418.30" y="201.80" font-size="7" text-anchor="end" fill="#2a2a2a" color="#2a2a2a">2.5</text>
<line x1="420.80" y1="220.50" x2="423.80" y2="220.50" stroke="#2a2a2a" stroke-width="1"/>
<text x="418.30" y="223.00" font-size="7" text-anchor="end" fill="#2a2a2a" color="#2a2a2a">2.0</text>
<line x1="420.80" y1="241.80" x2="423.80" y2="241.80" stroke="#2a2a2a" stroke-width="1"/>
<text x="418.30" y="244.30" font-size="7" text-anchor="end" fill="#2a2a2a" color="#2a2a2a">1.5</text>
<line x1="420.80" y1="263.00" x2="423.80" y2="263.00" stroke="#2a2a2a" stroke-width="1"/>
<text x="418.30" y="265.50" font-size="7" text-anchor="end" fill="#2a2a2a" color="#2a2a2a">1.0</text>
<line x1="420.80" y1="284.20" x2="423.80" y2="284.20" stroke="#2a2a2a" stroke-width="1"/>
<text x="418.30" y="286.70" font-size="7" text-anchor="end" fill="#2a2a2a" color="#2a2a2a">0.5</text>
<line x1="420.80" y1="305.00" x2="423.80" y2="305.00" stroke="#2a2a2a" stroke-width="1"/>
<text x="418.30" y="307.50" font-size="7" text-anchor="end" fill="#2a2a2a" color="#2a2a2a">0</text>
<rect x="430.00" y="237.80" width="13.00" height="67.20" fill="#4d6381" stroke="none" stroke-width="1"/>
<line x1="436.50" y1="230.80" x2="436.50" y2="237.80" stroke="#2a2a2a" stroke-width="1"/>
<line x1="433.90" y1="230.80" x2="439.10" y2="230.80" stroke="#2a2a2a" stroke-width="1"/>
<rect x="449.30" y="243.50" width="13.20" height="61.50" fill="#a13543" stroke="none" stroke-width="1"/>
<line x1="455.90" y1="236.30" x2="455.90" y2="243.50" stroke="#2a2a2a" stroke-width="1"/>
<line x1="453.26" y1="236.30" x2="458.54" y2="236.30" stroke="#2a2a2a" stroke-width="1"/>
<rect x="475.00" y="280.50" width="12.50" height="24.50" fill="#4d6381" stroke="none" stroke-width="1"/>
<line x1="481.25" y1="277.50" x2="481.25" y2="280.50" stroke="#2a2a2a" stroke-width="1"/>
<line x1="478.75" y1="277.50" x2="483.75" y2="277.50" stroke="#2a2a2a" stroke-width="1"/>
<rect x="493.80" y="227.00" width="13.00" height="78.00" fill="#a13543" stroke="none" stroke-width="1"/>
<line x1="500.30" y1="217.50" x2="500.30" y2="227.00" stroke="#2a2a2a" stroke-width="1"/>
<line x1="497.70" y1="217.50" x2="502.90" y2="217.50" stroke="#2a2a2a" stroke-width="1"/>
<line x1="430.50" y1="211.30" x2="459.50" y2="211.30" stroke="#444" stroke-width="1"/>
<text x="444.50" y="207.30" font-size="6.5" text-anchor="middle" fill="#2a2a2a" color="#2a2a2a">ns</text>
<line x1="476.30" y1="211.30" x2="505.50" y2="211.30" stroke="#444" stroke-width="1"/>
<text x="491.00" y="206.80" font-size="6.5" text-anchor="middle" fill="#2a2a2a" color="#2a2a2a">****</text>
<text x="445.80" y="318.30" font-size="7.6" text-anchor="middle" fill="#2a2a2a" color="#2a2a2a" textLength="19.4" lengthAdjust="spacingAndGlyphs">CCR3<tspan font-size="5.20" dy="-3.00">-</tspan></text>
<line x1="445.80" y1="305.00" x2="445.80" y2="307.80" stroke="#2a2a2a" stroke-width="1"/>
<text x="491.50" y="318.30" font-size="7.6" text-anchor="middle" fill="#2a2a2a" color="#2a2a2a" textLength="19.4" lengthAdjust="spacingAndGlyphs">CCR3<tspan font-size="5.20" dy="-3.00">+</tspan></text>
<line x1="491.50" y1="305.00" x2="491.50" y2="307.80" stroke="#2a2a2a" stroke-width="1"/>
<text x="403.50" y="251.30" font-size="8.5" text-anchor="middle" fill="#2a2a2a" color="#2a2a2a" transform="rotate(-90 403.5 251.3)">BM Eos (x10<tspan font-size="5.00" dy="-3.50">6</tspan><tspan dy="3.5">)</tspan></text>
<rect x="472.00" y="168.00" width="9.30" height="9.00" fill="#4d6381" stroke="none" stroke-width="1"/>
<rect x="472.00" y="182.50" width="9.30" height="8.80" fill="#a13543" stroke="none" stroke-width="1"/>
<text x="484.00" y="176.00" font-size="7.5" text-anchor="start" fill="#2a2a2a" color="#2a2a2a">Trib1<tspan font-size="4.80" dy="-3.00">+/+</tspan></text>
<text x="484.00" y="190.50" font-size="7.5" text-anchor="start" fill="#2a2a2a" color="#2a2a2a">Trib1<tspan font-size="4.80" dy="-3.00">ΔEos</tspan></text>
<text x="10.00" y="344.50" font-size="11" text-anchor="start" fill="#2a2a2a" color="#2a2a2a">G</text>
<path d="M37.50 451.00 37.70 451.00 37.90 451.00 38.10 450.99 38.31 450.99 38.51 450.98 38.71 450.97 38.91 450.96 39.11 450.94 39.31 450.93 39.51 450.91 39.72 450.90 39.92 450.88 40.12 450.86 40.32 450.83 40.52 450.81 40.72 450.79 40.92 450.76 41.13 450.73 41.33 450.70 41.53 450.67 41.73 450.64 41.93 450.61 42.13 450.57 42.33 450.51 42.54 450.43 42.74 450.32 42.94 450.20 43.14 450.06 43.34 449.90 43.54 449.73 43.74 449.54 43.94 449.34 44.15 449.13 44.35 448.92 44.55 448.69 44.75 448.46 44.95 448.23 45.15 447.99 45.35 447.75 45.56 447.52 45.76 447.28 45.96 447.05 46.16 446.82 46.36 446.58 46.56 446.35 46.76 446.10 46.97 445.85 47.17 445.59 47.37 445.32 47.57 445.04 47.77 444.75 47.97 444.45 48.17 444.13 48.38 443.79 48.58 443.43 48.78 443.06 48.98 442.67 49.18 442.25 49.38 441.81 49.58 441.32 49.79 440.76 49.99 440.15 50.19 439.48 50.39 438.76 50.59 438.00 50.79 437.19 50.99 436.35 51.20 435.47 51.40 434.56 51.60 433.61 51.80 432.65 52.00 431.66 52.20 430.65 52.40 429.63 52.61 428.60 52.81 427.57 53.01 426.52 53.21 425.48 53.41 424.44 53.61 423.41 53.81 422.39 54.02 421.38 54.22 420.39 54.42 419.42 54.62 418.44 54.82 417.43 55.02 416.40 55.22 415.35 55.42 414.29 55.63 413.20 55.83 412.10 56.03 410.99 56.23 409.88 56.43 408.75 56.63 407.63 56.83 406.51 57.04 405.40 57.24 404.30 57.44 403.20 57.64 402.10 57.84 401.00 58.04 399.94 58.24 398.91 58.45 397.87 58.65 396.88 58.85 395.90 59.05 394.98 59.25 394.07 59.45 393.21 59.65 392.39 59.86 391.58 60.06 390.84 60.26 390.12 60.46 389.42 60.66 388.74 60.86 388.05 61.06 387.34 61.27 386.72 61.47 386.08 61.67 385.38 61.87 384.86 62.07 384.37 62.27 383.87 62.47 383.21 62.68 382.46 62.88 381.74 63.08 380.97 63.28 380.16 63.48 379.26 63.68 378.31 63.88 377.40 64.09 376.52 64.29 375.50 64.49 374.90 64.69 374.11 64.89 372.76 65.09 371.45 65.29 370.64 65.49 369.53 65.70 368.33 65.90 367.47 66.10 366.93 66.30 366.44 66.50 365.79 66.70 364.63 66.90 363.45 67.11 363.16 67.31 362.32 67.51 361.00 67.71 360.72 67.91 360.25 68.11 359.46 68.31 358.69 68.52 358.24 68.72 358.15 68.92 357.84 69.12 356.72 69.32 355.73 69.52 355.85 69.72 356.01 69.93 355.65 70.13 355.88 70.33 356.54 70.53 357.54 70.73 358.17 70.93 358.25 71.13 357.76 71.34 357.69 71.54 358.26 71.74 358.86 71.94 359.30 72.14 359.92 72.34 360.77 72.54 361.39 72.75 361.26 72.95 360.82 73.15 361.26 73.35 361.46 73.55 361.96 73.75 362.50 73.95 362.76 74.16 362.95 74.36 363.36 74.56 363.85 74.76 364.73 74.96 365.68 75.16 366.28 75.36 366.53 75.57 367.51 75.77 368.42 75.97 369.31 76.17 370.65 76.37 371.68 76.57 372.80 76.77 374.02 76.97 375.10 77.18 375.97 77.38 376.77 77.58 377.55 77.78 378.30 77.98 379.22 78.18 380.26 78.38 381.26 78.59 382.02 78.79 382.21 78.99 382.47 79.19 383.41 79.39 383.90 79.59 384.36 79.79 384.90 80.00 385.69 80.20 386.76 80.40 387.53 80.60 387.82 80.80 388.14 81.00 388.72 81.20 389.51 81.41 390.40 81.61 391.19 81.81 391.86 82.01 392.61 82.21 393.29 82.41 393.84 82.61 394.71 82.82 396.33 83.02 398.45 83.22 400.69 83.42 402.78 83.62 404.60 83.82 406.12 84.02 407.29 84.23 408.44 84.43 409.84 84.63 410.89 84.83 411.65 85.03 412.48 85.23 413.35 85.43 414.47 85.64 415.45 85.84 416.10 86.04 416.64 86.24 417.47 86.44 418.19 86.64 418.97 86.84 419.64 87.05 420.49 87.25 421.58 87.45 422.51 87.65 423.34 87.85 423.91 88.05 424.12 88.25 424.41 88.45 425.10 88.66 425.92 88.86 426.54 89.06 427.12 89.26 427.83 89.46 428.44 89.66 429.07 89.86 429.74 90.07 430.41 90.27 430.98 90.47 431.49 90.67 432.09 90.87 432.64 91.07 433.15 91.27 433.68 91.48 434.22 91.68 434.72 91.88 435.16 92.08 435.56 92.28 436.06 92.48 436.48 92.68 436.85 92.89 437.21 93.09 437.62 93.29 438.06 93.49 438.43 93.69 438.79 93.89 439.18 94.09 439.57 94.30 439.93 94.50 440.29 94.70 440.67 94.90 441.02 95.10 441.37 95.30 441.71 95.50 442.03 95.71 442.37 95.91 442.68 96.11 443.00 96.31 443.31 96.51 443.60 96.71 443.88 96.91 444.14 97.12 444.40 97.32 444.65 97.52 444.90 97.72 445.13 97.92 445.35 98.12 445.55 98.32 445.75 98.53 445.93 98.73 446.10 98.93 446.25 99.13 446.39 99.33 446.52 99.53 446.64 99.73 446.76 99.93 446.88 100.14 446.99 100.34 447.11 100.54 447.22 100.74 447.33 100.94 447.44 101.14 447.54 101.34 447.65 101.55 447.75 101.75 447.85 101.95 447.95 102.15 448.05 102.35 448.14 102.55 448.24 102.75 448.33 102.96 448.42 103.16 448.51 103.36 448.59 103.56 448.68 103.76 448.76 103.96 448.84 104.16 448.91 104.37 448.99 104.57 449.06 104.77 449.13 104.97 449.20 105.17 449.27 105.37 449.34 105.57 449.40 105.78 449.46 105.98 449.52 106.18 449.58 106.38 449.63 106.58 449.68 106.78 449.74 106.98 449.78 107.19 449.83 107.39 449.87 107.59 449.92 107.79 449.95 107.99 449.99 108.19 450.03 108.39 450.06 108.60 450.09 108.80 450.12 109.00 450.15 109.20 450.17 109.40 450.19 109.60 450.21 109.80 450.23 110.01 450.25 110.21 450.27 110.41 450.28 110.61 450.30 110.81 450.32 111.01 450.34 111.21 450.36 111.41 450.37 111.62 450.39 111.82 450.41 112.02 450.42 112.22 450.44 112.42 450.46 112.62 450.47 112.82 450.49 113.03 450.51 113.23 450.52 113.43 450.54 113.63 450.55 113.83 450.57 114.03 450.58 114.23 450.60 114.44 450.61 114.64 450.62 114.84 450.64 115.04 450.65 115.24 450.66 115.44 450.68 115.64 450.69 115.85 450.70 116.05 450.72 116.25 450.73 116.45 450.74 116.65 450.75 116.85 450.76 117.05 450.77 117.26 450.78 117.46 450.80 117.66 450.81 117.86 450.82 118.06 450.83 118.26 450.84 118.46 450.85 118.67 450.85 118.87 450.86 119.07 450.87 119.27 450.88 119.47 450.89 119.67 450.90 119.87 450.90 120.08 450.91 120.28 450.92 120.48 450.92 120.68 450.93 120.88 450.94 121.08 450.94 121.28 450.95 121.48 450.95 121.69 450.96 121.89 450.96 122.09 450.97 122.29 450.97 122.49 450.98 122.69 450.98 122.89 450.98 123.10 450.99 123.30 450.99 123.50 450.99 123.70 450.99 123.90 451.00 124.10 451.00 124.30 451.00 124.51 451.00 124.71 451.00 124.91 451.00 125.11 451.00 125.31 451.00 125.51 451.00 125.71 451.00 125.92 451.00 126.12 451.00 126.32 451.00 126.52 451.00 126.72 451.00 126.92 451.00 127.12 451.00 127.33 451.00 127.53 451.00 127.73 451.00 127.93 451.00 128.13 451.00 128.33 451.00 128.53 451.00 128.74 451.00 128.94 451.00 129.14 451.00 129.34 451.00 129.54 451.00 129.74 451.00 129.94 451.00 130.15 451.00 130.35 451.00 130.55 451.00 130.75 451.00 130.95 451.00 131.15 451.00 131.35 451.00 131.56 451.00 131.76 451.00 131.96 451.00 132.16 451.00 132.36 451.00 132.56 451.00 132.76 451.00 132.96 451.00 133.17 451.00 133.37 451.00 133.57 451.00 133.77 451.00 133.97 451.00 134.17 451.00 134.37 451.00 134.58 451.00 134.78 451.00 134.98 451.00 135.18 451.00 135.38 451.00 135.58 451.00 135.78 451.00 135.99 451.00 136.19 451.00 136.39 451.00 136.59 451.00 136.79 451.00 136.99 451.00 137.19 451.00 137.40 451.00 137.60 451.00 137.80 451.00 138.00 451.00" fill="none" stroke="#3c5681" stroke-width="1.15"/>
<path d="M61.87 385.43 62.07 384.88 62.27 384.42 62.47 383.42 62.68 382.59 62.88 383.33 63.08 383.39 63.28 380.80 63.48 379.29 63.68 379.21 63.88 379.48 64.09 378.03 64.29 377.37 64.49 375.79 64.69 375.18 64.89 372.80 65.09 373.69 65.29 372.34 65.49 372.90 65.70 371.60 65.90 368.20 66.10 369.84 66.30 370.30 66.50 367.74 66.70 367.71 66.90 365.14 67.11 363.41 67.31 365.01 67.51 362.74 67.71 363.16 67.91 363.26 68.11 363.58 68.31 360.06 68.52 359.78 68.72 360.14 68.92 358.48 69.12 359.95 69.32 357.22 69.52 355.93 69.72 358.31 69.93 357.50 70.13 356.62 70.33 364.35 70.53 371.55 70.73 369.91 70.93 362.03 71.13 361.11 71.34 363.90 71.54 358.59 71.74 362.53 71.94 359.63 72.14 360.49 72.34 365.48 72.54 370.17 72.75 367.63 72.95 361.36 73.15 363.22 73.35 362.48 73.55 363.11 73.75 364.26 73.95 362.93 74.16 363.12 74.36 365.74 74.56 366.58 74.76 366.69 74.96 367.50 75.16 366.50 75.36 368.52 75.57 369.05 75.77 368.71 75.97 369.35 76.17 374.13 76.37 374.99 76.57 373.09 76.77 379.03 76.97 378.39 77.18 376.96 77.38 379.21 77.58 381.28 77.78 378.98 77.98 379.27 78.18 382.28 78.38 383.09 78.59 383.14 78.79 382.93 78.99 386.14 79.19 387.43 79.39 386.09 79.59 384.67 79.79 387.27 80.00 385.91 80.20 387.02 80.40 388.48 80.60 388.88 80.80 389.21 81.00 391.35 81.20 390.33 81.41 391.61 81.61 392.48 81.81 393.28 82.01 394.79 82.21 396.46 82.41 394.62 82.61 396.43 82.82 399.39 83.02 402.18 83.22 400.83 83.42 406.06 83.62 407.68 83.82 408.80 84.02 408.75 84.23 409.70 84.43 412.64 84.63 412.24 84.83 413.55 85.03 412.89 85.23 413.55 85.43 414.99 85.64 415.98 85.84 417.18 86.04 418.45 86.24 419.82 86.44 418.26 86.64 421.95 86.84 423.21 87.05 423.04 87.25 422.64 87.45 422.63 87.65 424.52 87.85 424.31 88.05 424.27 88.25 424.66 88.45 425.25 88.66 426.29 88.86 427.02 89.06 428.00 89.26 427.87 89.46 429.81" fill="none" stroke="#3c5681" stroke-width="0.5"/>
<path d="M61.87 384.92 62.07 384.57 62.27 384.13 62.47 384.02 62.68 382.67 62.88 382.65 63.08 382.06 63.28 381.12 63.48 379.68 63.68 378.68 63.88 378.23 64.09 378.41 64.29 380.20 64.49 378.94 64.69 378.44 64.89 373.53 65.09 374.02 65.29 371.82 65.49 372.64 65.70 369.77 65.90 371.59 66.10 369.53 66.30 368.05 66.50 371.55 66.70 374.68 66.90 370.56 67.11 365.72 67.31 364.47 67.51 362.77 67.71 363.45 67.91 364.87 68.11 362.01 68.31 362.37 68.52 359.51 68.72 361.65 68.92 366.10 69.12 356.93 69.32 357.53 69.52 356.04 69.72 359.09 69.93 359.84 70.13 357.67 70.33 363.12 70.53 366.92 70.73 363.68 70.93 358.96 71.13 358.37 71.34 362.18 71.54 361.10 71.74 359.06 71.94 360.41 72.14 361.92 72.34 364.92 72.54 369.67 72.75 365.70 72.95 362.11 73.15 367.06 73.35 364.78 73.55 362.24 73.75 364.30 73.95 365.60 74.16 363.98 74.36 363.64 74.56 365.88 74.76 369.81 74.96 368.52 75.16 369.00 75.36 368.30 75.57 368.10 75.77 370.64 75.97 371.33 76.17 371.03 76.37 374.03 76.57 376.47 76.77 377.84 76.97 378.26 77.18 376.54 77.38 376.89 77.58 378.00 77.78 379.96 77.98 379.98 78.18 381.28 78.38 383.15 78.59 385.46 78.79 384.56 78.99 382.52 79.19 385.29 79.39 385.86 79.59 384.68 79.79 385.66 80.00 386.85 80.20 386.79 80.40 387.73 80.60 389.61 80.80 391.14 81.00 388.81 81.20 392.35 81.41 393.46 81.61 394.67 81.81 393.86 82.01 394.04 82.21 393.51 82.41 395.68 82.61 395.59 82.82 398.43 83.02 398.68 83.22 402.10 83.42 403.52 83.62 405.22 83.82 407.94 84.02 410.14 84.23 411.61 84.43 413.03 84.63 413.86 84.83 412.55 85.03 414.35 85.23 414.14 85.43 414.63 85.64 415.52 85.84 416.93 86.04 417.08 86.24 418.10 86.44 419.83 86.64 420.45 86.84 420.59 87.05 422.04 87.25 423.16 87.45 422.67 87.65 425.89 87.85 425.56 88.05 425.12 88.25 425.34 88.45 425.32 88.66 426.77 88.86 426.86 89.06 427.53 89.26 428.82 89.46 428.56" fill="none" stroke="#3c5681" stroke-width="0.5"/>
<path d="M61.87 385.58 62.07 384.62 62.27 384.46 62.47 383.26 62.68 382.62 62.88 382.26 63.08 381.50 63.28 382.29 63.48 380.15 63.68 379.05 63.88 378.32 64.09 377.85 64.29 375.90 64.49 376.06 64.69 375.19 64.89 372.96 65.09 373.27 65.29 370.75 65.49 370.38 65.70 371.51 65.90 370.98 66.10 367.10 66.30 371.55 66.50 366.28 66.70 367.21 66.90 366.00 67.11 363.61 67.31 364.64 67.51 365.05 67.71 368.69 67.91 365.67 68.11 365.69 68.31 362.48 68.52 359.05 68.72 363.15 68.92 360.51 69.12 357.79 69.32 359.94 69.52 363.79 69.72 356.20 69.93 356.76 70.13 358.62 70.33 358.59 70.53 358.37 70.73 358.81 70.93 364.21 71.13 362.92 71.34 357.77 71.54 358.61 71.74 360.96 71.94 363.15 72.14 363.86 72.34 360.91 72.54 364.22 72.75 361.50 72.95 365.81 73.15 365.34 73.35 361.89 73.55 362.20 73.75 368.09 73.95 370.77 74.16 368.91 74.36 366.20 74.56 365.66 74.76 366.38 74.96 367.80 75.16 370.96 75.36 368.37 75.57 370.91 75.77 371.30 75.97 371.63 76.17 374.34 76.37 375.90 76.57 375.67 76.77 374.34 76.97 376.45 77.18 376.68 77.38 378.62 77.58 380.01 77.78 380.11 77.98 380.21 78.18 382.58 78.38 381.77 78.59 382.56 78.79 383.45 78.99 383.13 79.19 385.39 79.39 385.59 79.59 386.30 79.79 386.41 80.00 388.37 80.20 389.35 80.40 388.90 80.60 390.12 80.80 389.22 81.00 388.98 81.20 391.04 81.41 390.97 81.61 391.50 81.81 393.12 82.01 393.12 82.21 394.28 82.41 394.45 82.61 398.08 82.82 397.39 83.02 398.93 83.22 401.53 83.42 404.37 83.62 407.90 83.82 406.75 84.02 407.56 84.23 408.45 84.43 411.76 84.63 410.93 84.83 412.02 85.03 413.04 85.23 414.50 85.43 414.66 85.64 417.72 85.84 416.48 86.04 418.02 86.24 418.58 86.44 419.01 86.64 420.64 86.84 421.75 87.05 421.22 87.25 423.19 87.45 423.49 87.65 425.14 87.85 425.47 88.05 425.17 88.25 424.86 88.45 425.93 88.66 427.49 88.86 427.74 89.06 427.29 89.26 428.16 89.46 429.80" fill="none" stroke="#3c5681" stroke-width="0.5"/>
<path d="M61.87 385.65 62.07 384.55 62.27 384.08 62.47 383.28 62.68 383.59 62.88 381.83 63.08 383.75 63.28 381.88 63.48 380.60 63.68 380.25 63.88 381.27 64.09 377.17 64.29 375.76 64.49 375.06 64.69 375.08 64.89 375.18 65.09 373.97 65.29 370.72 65.49 371.65 65.70 368.98 65.90 368.50 66.10 370.92 66.30 368.65 66.50 368.49 66.70 368.27 66.90 365.75 67.11 363.68 67.31 364.55 67.51 363.43 67.71 361.61 67.91 363.77 68.11 363.12 68.31 363.39 68.52 365.56 68.72 363.52 68.92 363.01 69.12 362.77 69.32 361.23 69.52 359.08 69.72 358.20 69.93 355.86 70.13 358.93 70.33 363.82 70.53 367.35 70.73 363.57 70.93 361.12 71.13 358.84 71.34 360.83 71.54 362.22 71.74 361.43 71.94 360.81 72.14 364.04 72.34 366.14 72.54 367.21 72.75 364.65 72.95 361.84 73.15 363.58 73.35 366.60 73.55 365.41 73.75 365.31 73.95 364.28 74.16 369.01 74.36 366.55 74.56 365.62 74.76 370.56 74.96 372.14 75.16 371.01 75.36 366.95 75.57 368.68 75.77 369.34 75.97 370.47 76.17 371.38 76.37 373.97 76.57 373.40 76.77 375.57 76.97 376.25 77.18 376.30 77.38 378.75 77.58 380.92 77.78 382.11 77.98 382.00 78.18 381.61 78.38 385.00 78.59 382.46 78.79 383.31 78.99 382.74 79.19 385.10 79.39 385.07 79.59 385.23 79.79 385.08 80.00 387.22 80.20 388.42 80.40 387.78 80.60 388.18 80.80 388.74 81.00 389.14 81.20 391.05 81.41 391.40 81.61 392.30 81.81 392.08 82.01 394.52 82.21 395.82 82.41 398.83 82.61 398.14 82.82 397.75 83.02 400.16 83.22 402.12 83.42 404.46 83.62 405.45 83.82 406.81 84.02 408.12 84.23 410.09 84.43 412.85 84.63 412.10 84.83 412.04 85.03 413.77 85.23 413.78 85.43 416.06 85.64 416.71 85.84 418.36 86.04 417.58 86.24 419.52 86.44 421.37 86.64 419.96 86.84 420.44 87.05 420.84 87.25 422.21 87.45 422.52 87.65 424.98 87.85 425.78 88.05 424.89 88.25 425.28 88.45 426.38 88.66 427.11 88.86 426.58 89.06 427.61 89.26 428.00 89.46 429.00" fill="none" stroke="#3c5681" stroke-width="0.5"/>
<path d="M37.50 450.94 37.70 451.00 37.90 451.00 38.10 451.00 38.31 450.95 38.51 450.96 38.71 451.00 38.91 451.00 39.11 450.81 39.31 450.67 39.51 450.72 39.72 450.76 39.92 450.71 40.12 450.73 40.32 450.89 40.52 450.98 40.72 450.94 40.92 450.98 41.13 451.00 41.33 451.00 41.53 451.00 41.73 451.00 41.93 451.00 42.13 451.00 42.33 450.92 42.54 450.84 42.74 450.76 42.94 450.78 43.14 450.88 43.34 450.86 43.54 450.76 43.74 450.64 43.94 450.51 44.15 450.47 44.35 450.55 44.55 450.67 44.75 450.80 44.95 450.86 45.15 450.85 45.35 450.82 45.56 450.75 45.76 450.66 45.96 450.63 46.16 450.69 46.36 450.78 46.56 450.76 46.76 450.63 46.97 450.52 47.17 450.52 47.37 450.58 47.57 450.62 47.77 450.61 47.97 450.62 48.17 450.69 48.38 450.71 48.58 450.68 48.78 450.65 48.98 450.58 49.18 450.50 49.38 450.45 49.58 450.40 49.79 450.44 49.99 450.59 50.19 450.76 50.39 450.80 50.59 450.73 50.79 450.68 50.99 450.63 51.20 450.61 51.40 450.65 51.60 450.72 51.80 450.71 52.00 450.55 52.20 450.40 52.40 450.35 52.61 450.24 52.81 450.06 53.01 450.02 53.21 450.23 53.41 450.45 53.61 450.55 53.81 450.57 54.02 450.53 54.22 450.41 54.42 450.26 54.62 450.15 54.82 450.15 55.02 450.19 55.22 450.11 55.42 450.00 55.63 449.97 55.83 449.95 56.03 449.93 56.23 449.89 56.43 449.79 56.63 449.70 56.83 449.77 57.04 449.87 57.24 449.86 57.44 449.88 57.64 449.92 57.84 449.84 58.04 449.71 58.24 449.70 58.45 449.76 58.65 449.74 58.85 449.64 59.05 449.64 59.25 449.77 59.45 449.83 59.65 449.74 59.86 449.63 60.06 449.61 60.26 449.61 60.46 449.54 60.66 449.43 60.86 449.37 61.06 449.32 61.27 449.30 61.47 449.32 61.67 449.33 61.87 449.30 62.07 449.22 62.27 449.17 62.47 449.21 62.68 449.30 62.88 449.33 63.08 449.22 63.28 449.02 63.48 448.95 63.68 449.10 63.88 449.30 64.09 449.38 64.29 449.25 64.49 449.06 64.69 448.94 64.89 448.86 65.09 448.94 65.29 449.12 65.49 449.17 65.70 449.13 65.90 449.13 66.10 449.13 66.30 449.03 66.50 448.84 66.70 448.64 66.90 448.63 67.11 448.81 67.31 448.91 67.51 448.82 67.71 448.67 67.91 448.57 68.11 448.58 68.31 448.66 68.52 448.67 68.72 448.61 68.92 448.57 69.12 448.55 69.32 448.48 69.52 448.35 69.72 448.27 69.93 448.34 70.13 448.38 70.33 448.27 70.53 448.19 70.73 448.22 70.93 448.19 71.13 448.02 71.34 447.83 71.54 447.73 71.74 447.67 71.94 447.68 72.14 447.76 72.34 447.89 72.54 448.07 72.75 448.17 72.95 448.03 73.15 447.73 73.35 447.45 73.55 447.27 73.75 447.18 73.95 447.14 74.16 447.11 74.36 447.09 74.56 447.05 74.76 446.94 74.96 446.85 75.16 446.90 75.36 447.06 75.57 447.19 75.77 447.25 75.97 447.19 76.17 447.06 76.37 446.96 76.57 446.98 76.77 447.09 76.97 447.03 77.18 446.79 77.38 446.58 77.58 446.45 77.78 446.36 77.98 446.41 78.18 446.51 78.38 446.52 78.59 446.46 78.79 446.40 78.99 446.30 79.19 446.21 79.39 446.13 79.59 446.08 79.79 446.09 80.00 446.14 80.20 446.19 80.40 446.17 80.60 446.07 80.80 445.89 81.00 445.69 81.20 445.50 81.41 445.43 81.61 445.48 81.81 445.47 82.01 445.40 82.21 445.34 82.41 445.26 82.61 445.19 82.82 445.13 83.02 444.99 83.22 444.89 83.42 444.86 83.62 444.72 83.82 444.39 84.02 444.03 84.23 443.78 84.43 443.69 84.63 443.63 84.83 443.44 85.03 443.22 85.23 443.10 85.43 442.97 85.64 442.72 85.84 442.47 86.04 442.28 86.24 441.99 86.44 441.56 86.64 441.08 86.84 440.61 87.05 440.24 87.25 439.95 87.45 439.65 87.65 439.30 87.85 438.86 88.05 438.31 88.25 437.65 88.45 436.93 88.66 436.29 88.86 435.80 89.06 435.36 89.26 434.87 89.46 434.32 89.66 433.72 89.86 433.18 90.07 432.70 90.27 432.18 90.47 431.60 90.67 431.00 90.87 430.35 91.07 429.74 91.27 429.25 91.48 428.76 91.68 428.18 91.88 427.65 92.08 427.12 92.28 426.48 92.48 425.82 92.68 425.22 92.89 424.56 93.09 423.87 93.29 423.27 93.49 422.72 93.69 422.14 93.89 421.56 94.09 420.93 94.30 420.23 94.50 419.60 94.70 419.10 94.90 418.56 95.10 417.88 95.30 417.16 95.50 416.53 95.71 415.91 95.91 415.14 96.11 414.27 96.31 413.42 96.51 412.59 96.71 411.78 96.91 411.11 97.12 410.46 97.32 409.69 97.52 408.93 97.72 408.26 97.92 407.54 98.12 406.66 98.32 405.74 98.53 404.91 98.73 404.09 98.93 403.20 99.13 402.37 99.33 401.61 99.53 400.67 99.73 399.47 99.93 398.28 100.14 397.32 100.34 396.50 100.54 395.66 100.74 394.68 100.94 393.53 101.14 392.32 101.34 391.11 101.55 389.89 101.75 388.72 101.95 387.66 102.15 386.54 102.35 385.15 102.55 383.59 102.75 382.05 102.96 380.53 103.16 379.02 103.36 377.56 103.56 376.18 103.76 374.78 103.96 373.27 104.16 371.75 104.37 370.38 104.57 369.21 104.77 368.15 104.97 367.11 105.17 366.05 105.37 364.99 105.57 363.98 105.78 362.97 105.98 361.94 106.18 361.03 106.38 360.41 106.58 359.99 106.78 359.53 106.98 358.93 107.19 358.29 107.39 357.67 107.59 357.15 107.79 356.75 107.99 356.37 108.19 355.92 108.39 355.45 108.60 355.11 108.80 354.93 109.00 354.86 109.20 354.99 109.40 355.35 109.60 355.79 109.80 356.32 110.01 356.93 110.21 357.48 110.41 357.94 110.61 358.43 110.81 359.01 111.01 359.71 111.21 360.61 111.41 361.66 111.62 362.74 111.82 363.88 112.02 365.08 112.22 366.42 112.42 367.98 112.62 369.73 112.82 371.62 113.03 373.57 113.23 375.76 113.43 378.29 113.63 381.14 113.83 384.22 114.03 387.34 114.23 390.47 114.44 393.79 114.64 397.42 114.84 401.45 115.04 406.00 115.24 412.33 115.44 419.20 115.64 424.26 115.85 427.94 116.05 431.15 116.25 433.88 116.45 436.18 116.65 438.41 116.85 440.60 117.05 442.47 117.26 443.81 117.46 444.69 117.66 445.62 117.86 446.49 118.06 447.11 118.26 447.58 118.46 448.03 118.67 448.47 118.87 448.88 119.07 449.22 119.27 449.54 119.47 449.79 119.67 449.89 119.87 449.97 120.08 450.09 120.28 450.24 120.48 450.41 120.68 450.45 120.88 450.42 121.08 450.44 121.28 450.52 121.48 450.61 121.69 450.73 121.89 450.84 122.09 450.94 122.29 451.00 122.49 451.00 122.69 451.00 122.89 451.00 123.10 450.94 123.30 450.85 123.50 450.90 123.70 451.00 123.90 451.00 124.10 451.00 124.30 451.00 124.51 451.00 124.71 451.00 124.91 451.00 125.11 451.00 125.31 451.00 125.51 451.00 125.71 451.00 125.92 451.00 126.12 451.00 126.32 451.00 126.52 451.00 126.72 451.00 126.92 451.00 127.12 450.88 127.33 450.78 127.53 450.76 127.73 450.80 127.93 450.81 128.13 450.81 128.33 450.89 128.53 450.99 128.74 450.98 128.94 450.87 129.14 450.76 129.34 450.74 129.54 450.81 129.74 450.94 129.94 451.00 130.15 451.00 130.35 451.00 130.55 451.00 130.75 451.00 130.95 451.00 131.15 451.00 131.35 451.00 131.56 451.00 131.76 451.00 131.96 451.00 132.16 451.00 132.36 451.00 132.56 451.00 132.76 450.88 132.96 450.93 133.17 451.00 133.37 451.00 133.57 450.91 133.77 450.84 133.97 450.72 134.17 450.53 134.37 450.45 134.58 450.59 134.78 450.81 134.98 450.95 135.18 451.00 135.38 451.00 135.58 450.90 135.78 450.76 135.99 450.70 136.19 450.70 136.39 450.72 136.59 450.78 136.79 450.83 136.99 450.81 137.19 450.81 137.40 450.94 137.60 451.00 137.80 450.83 138.00 450.61" fill="none" stroke="#ad2a3f" stroke-width="1.15"/>
<rect x="37" y="350.2" width="101.30" height="101.30" fill="none" stroke="#111" stroke-width="1.1"/>
<path d="M34.70 451.50H37M34.70 441.76H37M34.70 432.02H37M34.70 422.28H37M34.70 412.54H37M34.70 402.80H37M34.70 393.06H37M34.70 383.32H37M34.70 373.58H37M34.70 363.84H37M34.70 354.10H37M35.70 446.63H37M35.70 436.89H37M35.70 427.15H37M35.70 417.41H37M35.70 407.67H37M35.70 397.93H37M35.70 388.19H37M35.70 378.45H37M35.70 368.71H37M35.70 358.97H37M56.80 451.5V454.30M81.00 451.5V454.30M104.60 451.5V454.30M128.00 451.5V454.30M40.00 451.5V453.00M44.00 451.5V453.00M48.00 451.5V453.00M51.00 451.5V453.00M53.50 451.5V453.00M62.00 451.5V453.00M66.00 451.5V453.00M70.00 451.5V453.00M73.00 451.5V453.00M75.00 451.5V453.00M77.00 451.5V453.00M86.00 451.5V453.00M90.00 451.5V453.00M94.00 451.5V453.00M97.00 451.5V453.00M99.00 451.5V453.00M101.00 451.5V453.00M110.00 451.5V453.00M114.00 451.5V453.00M118.00 451.5V453.00M121.00 451.5V453.00M123.00 451.5V453.00M125.00 451.5V453.00M134.00 451.5V453.00M137.00 451.5V453.00" stroke="#111" stroke-width="0.8" fill="none"/>
<text x="47.50" y="465.00" font-size="7.2" text-anchor="middle" fill="#2a2a2a" color="#2a2a2a">0</text>
<text x="53.20" y="465.00" font-size="7.2" text-anchor="start" fill="#2a2a2a" color="#2a2a2a">10<tspan font-size="4.61" dy="-3.02">2</tspan></text>
<text x="77.80" y="465.00" font-size="7.2" text-anchor="start" fill="#2a2a2a" color="#2a2a2a">10<tspan font-size="4.61" dy="-3.02">3</tspan></text>
<text x="101.50" y="465.00" font-size="7.2" text-anchor="start" fill="#2a2a2a" color="#2a2a2a">10<tspan font-size="4.61" dy="-3.02">4</tspan></text>
<text x="124.80" y="465.00" font-size="7.2" text-anchor="start" fill="#2a2a2a" color="#2a2a2a">10<tspan font-size="4.61" dy="-3.02">5</tspan></text>
<text x="45.00" y="478.40" font-size="8.6" text-anchor="start" fill="#2a2a2a" color="#2a2a2a">Ly6G</text>
<line x1="67.00" y1="475.20" x2="120.00" y2="475.20" stroke="#2a2a2a" stroke-width="1.2"/>
<path d="M117.5 471.2 L127.7 475.2 L117.5 479.2 L119.5 475.2 Z" fill="#111"/>
<text x="52.50" y="494.00" font-size="9.8" text-anchor="start" fill="#4a6590" color="#4a6590"><tspan fill="#4a6590">Trib1<tspan font-size="6.30" dy="-3.80">+/+</tspan></tspan></text>
<text x="85.80" y="494.00" font-size="9.8" text-anchor="start" fill="#b03042" color="#b03042">Trib1<tspan font-size="6.30" dy="-3.80">ΔEos</tspan></text>
<text x="142.00" y="344.50" font-size="11" text-anchor="start" fill="#2a2a2a" color="#2a2a2a">H</text>
<line x1="188.00" y1="351.50" x2="188.00" y2="452.10" stroke="#2a2a2a" stroke-width="1.3"/>
<line x1="187.40" y1="451.50" x2="266.30" y2="451.50" stroke="#2a2a2a" stroke-width="1.3"/>
<line x1="185.00" y1="353.30" x2="188.00" y2="353.30" stroke="#2a2a2a" stroke-width="1"/>
<text x="182.50" y="355.80" font-size="7" text-anchor="end" fill="#2a2a2a" color="#2a2a2a">100</text>
<line x1="185.00" y1="373.00" x2="188.00" y2="373.00" stroke="#2a2a2a" stroke-width="1"/>
<text x="182.50" y="375.50" font-size="7" text-anchor="end" fill="#2a2a2a" color="#2a2a2a">80</text>
<line x1="185.00" y1="392.70" x2="188.00" y2="392.70" stroke="#2a2a2a" stroke-width="1"/>
<text x="182.50" y="395.20" font-size="7" text-anchor="end" fill="#2a2a2a" color="#2a2a2a">60</text>
<line x1="185.00" y1="412.40" x2="188.00" y2="412.40" stroke="#2a2a2a" stroke-width="1"/>
<text x="182.50" y="414.90" font-size="7" text-anchor="end" fill="#2a2a2a" color="#2a2a2a">40</text>
<line x1="185.00" y1="432.00" x2="188.00" y2="432.00" stroke="#2a2a2a" stroke-width="1"/>
<text x="182.50" y="434.50" font-size="7" text-anchor="end" fill="#2a2a2a" color="#2a2a2a">20</text>
<line x1="185.00" y1="451.50" x2="188.00" y2="451.50" stroke="#2a2a2a" stroke-width="1"/>
<text x="182.50" y="454.00" font-size="7" text-anchor="end" fill="#2a2a2a" color="#2a2a2a">0</text>
<rect x="194.50" y="447.00" width="26.00" height="4.50" fill="#4d6381" stroke="none" stroke-width="1"/>
<line x1="207.50" y1="446.20" x2="207.50" y2="447.00" stroke="#2a2a2a" stroke-width="1"/>
<line x1="202.30" y1="446.20" x2="212.70" y2="446.20" stroke="#2a2a2a" stroke-width="1"/>
<rect x="233.80" y="362.00" width="26.20" height="89.50" fill="#a13543" stroke="none" stroke-width="1"/>
<line x1="246.90" y1="361.50" x2="246.90" y2="362.00" stroke="#2a2a2a" stroke-width="1"/>
<line x1="241.66" y1="361.50" x2="252.14" y2="361.50" stroke="#2a2a2a" stroke-width="1"/>
<line x1="212.00" y1="355.00" x2="245.50" y2="355.00" stroke="#444" stroke-width="1"/>
<text x="228.80" y="350.00" font-size="6.5" text-anchor="middle" fill="#2a2a2a" color="#2a2a2a">****</text>
<text x="207.30" y="464.30" font-size="8.5" text-anchor="middle" fill="#2a2a2a" color="#2a2a2a">Trib1<tspan font-size="5.40" dy="-3.30">+/+</tspan></text>
<line x1="207.30" y1="451.50" x2="207.30" y2="454.30" stroke="#2a2a2a" stroke-width="1"/>
<text x="247.30" y="464.30" font-size="8.5" text-anchor="middle" fill="#2a2a2a" color="#2a2a2a">Trib1<tspan font-size="5.40" dy="-3.30">ΔEos</tspan></text>
<line x1="247.30" y1="451.50" x2="247.30" y2="454.30" stroke="#2a2a2a" stroke-width="1"/>
<text x="151.60" y="398.50" font-size="9" text-anchor="middle" fill="#2a2a2a" color="#2a2a2a" transform="rotate(-90 151.6 398.5)">% Ly6G<tspan font-size="6" dy="-3.8">+</tspan></text>
<text x="164.20" y="398.30" font-size="9" text-anchor="middle" fill="#2a2a2a" color="#2a2a2a" transform="rotate(-90 164.2 398.3)">of CCR3<tspan font-size="6" dy="-3.8">+</tspan><tspan dy="3.8"> Eos</tspan></text>
<text x="14.50" y="509.10" font-size="11" text-anchor="start" fill="#2a2a2a" color="#2a2a2a">I</text>
<text x="87.90" y="510.20" font-size="9.5" text-anchor="middle" fill="#2a2a2a" color="#2a2a2a">Trib1<tspan font-size="6.60" dy="-4.00">+/+</tspan></text>
<text x="210.00" y="510.20" font-size="9.5" text-anchor="middle" fill="#2a2a2a" color="#2a2a2a">Trib1<tspan font-size="6.60" dy="-4.00">ΔEos</tspan></text>
<text x="30.30" y="527.90" font-size="7.2" text-anchor="end" fill="#2a2a2a" color="#2a2a2a">10<tspan font-size="4.61" dy="-3.02">5</tspan></text>
<text x="30.30" y="551.10" font-size="7.2" text-anchor="end" fill="#2a2a2a" color="#2a2a2a">10<tspan font-size="4.61" dy="-3.02">4</tspan></text>
<text x="30.30" y="574.10" font-size="7.2" text-anchor="end" fill="#2a2a2a" color="#2a2a2a">10<tspan font-size="4.61" dy="-3.02">3</tspan></text>
<text x="30.30" y="599.10" font-size="7.2" text-anchor="end" fill="#2a2a2a" color="#2a2a2a">10<tspan font-size="4.61" dy="-3.02">2</tspan></text>
<text x="30.10" y="609.10" font-size="7.2" text-anchor="end" fill="#2a2a2a" color="#2a2a2a">0</text>
<text x="52.50" y="630.30" font-size="7.2" text-anchor="middle" fill="#2a2a2a" color="#2a2a2a">0</text>
<text x="76.80" y="630.30" font-size="7.2" text-anchor="start" fill="#2a2a2a" color="#2a2a2a">10<tspan font-size="4.61" dy="-3.02">3</tspan></text>
<text x="100.80" y="630.30" font-size="7.2" text-anchor="start" fill="#2a2a2a" color="#2a2a2a">10<tspan font-size="4.61" dy="-3.02">4</tspan></text>
<text x="124.50" y="630.30" font-size="7.2" text-anchor="start" fill="#2a2a2a" color="#2a2a2a">10<tspan font-size="4.61" dy="-3.02">5</tspan></text>
<text x="152.50" y="527.90" font-size="7.2" text-anchor="end" fill="#2a2a2a" color="#2a2a2a">10<tspan font-size="4.61" dy="-3.02">5</tspan></text>
<text x="152.50" y="551.10" font-size="7.2" text-anchor="end" fill="#2a2a2a" color="#2a2a2a">10<tspan font-size="4.61" dy="-3.02">4</tspan></text>
<text x="152.50" y="574.10" font-size="7.2" text-anchor="end" fill="#2a2a2a" color="#2a2a2a">10<tspan font-size="4.61" dy="-3.02">3</tspan></text>
<text x="152.50" y="599.10" font-size="7.2" text-anchor="end" fill="#2a2a2a" color="#2a2a2a">10<tspan font-size="4.61" dy="-3.02">2</tspan></text>
<text x="152.30" y="609.10" font-size="7.2" text-anchor="end" fill="#2a2a2a" color="#2a2a2a">0</text>
<text x="174.70" y="630.30" font-size="7.2" text-anchor="middle" fill="#2a2a2a" color="#2a2a2a">0</text>
<text x="199.00" y="630.30" font-size="7.2" text-anchor="start" fill="#2a2a2a" color="#2a2a2a">10<tspan font-size="4.61" dy="-3.02">3</tspan></text>
<text x="223.00" y="630.30" font-size="7.2" text-anchor="start" fill="#2a2a2a" color="#2a2a2a">10<tspan font-size="4.61" dy="-3.02">4</tspan></text>
<text x="246.70" y="630.30" font-size="7.2" text-anchor="start" fill="#2a2a2a" color="#2a2a2a">10<tspan font-size="4.61" dy="-3.02">5</tspan></text>
<rect x="72.50" y="536.50" width="51.80" height="28.00" fill="none" stroke="#b8323f" stroke-width="1.0"/>
<rect x="194.30" y="536.50" width="52.20" height="28.00" fill="none" stroke="#b8323f" stroke-width="1.0"/>
<text x="134.60" y="526.00" font-size="7" text-anchor="end" fill="#2a2a2a" color="#2a2a2a">31.4</text>
<text x="256.40" y="526.00" font-size="7" text-anchor="end" fill="#2a2a2a" color="#2a2a2a">26.8</text>
<line x1="12.30" y1="637.70" x2="12.30" y2="590.00" stroke="#2a2a2a" stroke-width="1.2"/>
<path d="M7.80 592.00 L12.30 582.00 L16.80 592.00 L12.30 590.00 Z" fill="#111"/>
<text x="16.10" y="568.00" font-size="9" text-anchor="middle" fill="#2a2a2a" color="#2a2a2a" transform="rotate(-90 16.1 568)">Ly6G</text>
<line x1="11.70" y1="637.70" x2="197.00" y2="637.70" stroke="#2a2a2a" stroke-width="1.2"/>
<path d="M195.00 633.70 L205.00 637.70 L195.00 641.70 L197.00 637.70 Z" fill="#111"/>
<text x="208.00" y="641.00" font-size="9" text-anchor="start" fill="#2a2a2a" color="#2a2a2a">CD11b</text>
<text x="266.50" y="509.50" font-size="11" text-anchor="start" fill="#2a2a2a" color="#2a2a2a">J</text>
<line x1="298.00" y1="517.80" x2="298.00" y2="618.40" stroke="#2a2a2a" stroke-width="1.3"/>
<line x1="297.40" y1="617.80" x2="367.50" y2="617.80" stroke="#2a2a2a" stroke-width="1.3"/>
<line x1="295.00" y1="520.30" x2="298.00" y2="520.30" stroke="#2a2a2a" stroke-width="1"/>
<text x="292.50" y="522.80" font-size="7" text-anchor="end" fill="#2a2a2a" color="#2a2a2a">50</text>
<line x1="295.00" y1="539.80" x2="298.00" y2="539.80" stroke="#2a2a2a" stroke-width="1"/>
<text x="292.50" y="542.30" font-size="7" text-anchor="end" fill="#2a2a2a" color="#2a2a2a">40</text>
<line x1="295.00" y1="559.20" x2="298.00" y2="559.20" stroke="#2a2a2a" stroke-width="1"/>
<text x="292.50" y="561.70" font-size="7" text-anchor="end" fill="#2a2a2a" color="#2a2a2a">30</text>
<line x1="295.00" y1="578.70" x2="298.00" y2="578.70" stroke="#2a2a2a" stroke-width="1"/>
<text x="292.50" y="581.20" font-size="7" text-anchor="end" fill="#2a2a2a" color="#2a2a2a">20</text>
<line x1="295.00" y1="598.20" x2="298.00" y2="598.20" stroke="#2a2a2a" stroke-width="1"/>
<text x="292.50" y="600.70" font-size="7" text-anchor="end" fill="#2a2a2a" color="#2a2a2a">10</text>
<line x1="295.00" y1="617.80" x2="298.00" y2="617.80" stroke="#2a2a2a" stroke-width="1"/>
<text x="292.50" y="620.30" font-size="7" text-anchor="end" fill="#2a2a2a" color="#2a2a2a">0</text>
<rect x="303.80" y="541.50" width="23.70" height="76.30" fill="#4d6381" stroke="none" stroke-width="1"/>
<line x1="315.65" y1="537.30" x2="315.65" y2="541.50" stroke="#2a2a2a" stroke-width="1"/>
<line x1="310.91" y1="537.30" x2="320.39" y2="537.30" stroke="#2a2a2a" stroke-width="1"/>
<rect x="338.80" y="552.00" width="23.70" height="65.80" fill="#a13543" stroke="none" stroke-width="1"/>
<line x1="350.65" y1="548.50" x2="350.65" y2="552.00" stroke="#2a2a2a" stroke-width="1"/>
<line x1="345.91" y1="548.50" x2="355.39" y2="548.50" stroke="#2a2a2a" stroke-width="1"/>
<line x1="322.50" y1="530.80" x2="349.50" y2="530.80" stroke="#444" stroke-width="1"/>
<text x="336.30" y="526.50" font-size="7" text-anchor="middle" fill="#2a2a2a" color="#2a2a2a">ns</text>
<text x="315.00" y="631.00" font-size="8.5" text-anchor="middle" fill="#2a2a2a" color="#2a2a2a">Trib1<tspan font-size="5.40" dy="-3.30">+/+</tspan></text>
<line x1="315.00" y1="617.80" x2="315.00" y2="620.60" stroke="#2a2a2a" stroke-width="1"/>
<text x="350.00" y="631.00" font-size="8.5" text-anchor="middle" fill="#2a2a2a" color="#2a2a2a">Trib1<tspan font-size="5.40" dy="-3.30">ΔEos</tspan></text>
<line x1="350.00" y1="617.80" x2="350.00" y2="620.60" stroke="#2a2a2a" stroke-width="1"/>
<text x="277.20" y="567.20" font-size="8.8" text-anchor="middle" fill="#2a2a2a" color="#2a2a2a" transform="rotate(-90 277.2 567.2)">BM neutrophils (%)</text>
<text x="391.50" y="509.50" font-size="11" text-anchor="start" fill="#2a2a2a" color="#2a2a2a">K</text>
<line x1="423.80" y1="517.80" x2="423.80" y2="618.40" stroke="#2a2a2a" stroke-width="1.3"/>
<line x1="423.20" y1="617.80" x2="493.80" y2="617.80" stroke="#2a2a2a" stroke-width="1.3"/>
<line x1="420.80" y1="520.30" x2="423.80" y2="520.30" stroke="#2a2a2a" stroke-width="1"/>
<text x="418.30" y="522.80" font-size="7" text-anchor="end" fill="#2a2a2a" color="#2a2a2a">2.0</text>
<line x1="420.80" y1="544.60" x2="423.80" y2="544.60" stroke="#2a2a2a" stroke-width="1"/>
<text x="418.30" y="547.10" font-size="7" text-anchor="end" fill="#2a2a2a" color="#2a2a2a">1.5</text>
<line x1="420.80" y1="569.00" x2="423.80" y2="569.00" stroke="#2a2a2a" stroke-width="1"/>
<text x="418.30" y="571.50" font-size="7" text-anchor="end" fill="#2a2a2a" color="#2a2a2a">1.0</text>
<line x1="420.80" y1="593.30" x2="423.80" y2="593.30" stroke="#2a2a2a" stroke-width="1"/>
<text x="418.30" y="595.80" font-size="7" text-anchor="end" fill="#2a2a2a" color="#2a2a2a">5.0</text>
<line x1="420.80" y1="617.80" x2="423.80" y2="617.80" stroke="#2a2a2a" stroke-width="1"/>
<text x="418.30" y="620.30" font-size="7" text-anchor="end" fill="#2a2a2a" color="#2a2a2a">0</text>
<rect x="429.30" y="551.50" width="23.70" height="66.30" fill="#4d6381" stroke="none" stroke-width="1"/>
<line x1="441.15" y1="544.80" x2="441.15" y2="551.50" stroke="#2a2a2a" stroke-width="1"/>
<line x1="436.41" y1="544.80" x2="445.89" y2="544.80" stroke="#2a2a2a" stroke-width="1"/>
<rect x="464.30" y="564.80" width="23.70" height="53.00" fill="#a13543" stroke="none" stroke-width="1"/>
<line x1="476.15" y1="562.80" x2="476.15" y2="564.80" stroke="#2a2a2a" stroke-width="1"/>
<line x1="471.41" y1="562.80" x2="480.89" y2="562.80" stroke="#2a2a2a" stroke-width="1"/>
<line x1="447.50" y1="530.80" x2="474.50" y2="530.80" stroke="#444" stroke-width="1"/>
<text x="460.80" y="526.50" font-size="7" text-anchor="middle" fill="#2a2a2a" color="#2a2a2a">ns</text>
<text x="441.30" y="631.00" font-size="8.5" text-anchor="middle" fill="#2a2a2a" color="#2a2a2a">Trib1<tspan font-size="5.40" dy="-3.30">+/+</tspan></text>
<line x1="441.30" y1="617.80" x2="441.30" y2="620.60" stroke="#2a2a2a" stroke-width="1"/>
<text x="476.30" y="631.00" font-size="8.5" text-anchor="middle" fill="#2a2a2a" color="#2a2a2a">Trib1<tspan font-size="5.40" dy="-3.30">ΔEos</tspan></text>
<line x1="476.30" y1="617.80" x2="476.30" y2="620.60" stroke="#2a2a2a" stroke-width="1"/>
<text x="401.20" y="568.50" font-size="8.8" text-anchor="middle" fill="#2a2a2a" color="#2a2a2a" transform="rotate(-90 401.2 568.5)">BM neutrophils (x10<tspan font-size="5.20" dy="-3.60">7</tspan><tspan dy="3.6">)</tspan></text>
<rect x="0.00" y="0.00" width="1.00" height="650.00" fill="#474747" stroke="none" stroke-width="1"/>
<rect x="1.00" y="0.00" width="1.00" height="650.00" fill="#b5b5b5" stroke="none" stroke-width="1"/>
<rect x="519.00" y="0.00" width="1.00" height="650.00" fill="#474747" stroke="none" stroke-width="1"/>
<rect x="518.00" y="0.00" width="1.00" height="650.00" fill="#b5b5b5" stroke="none" stroke-width="1"/>
<rect x="0.00" y="0.00" width="520.00" height="1.00" fill="#111" stroke="none" stroke-width="1"/>
<rect x="0.00" y="649.00" width="520.00" height="1.00" fill="#111" stroke="none" stroke-width="1"/>
</svg></body></html>
